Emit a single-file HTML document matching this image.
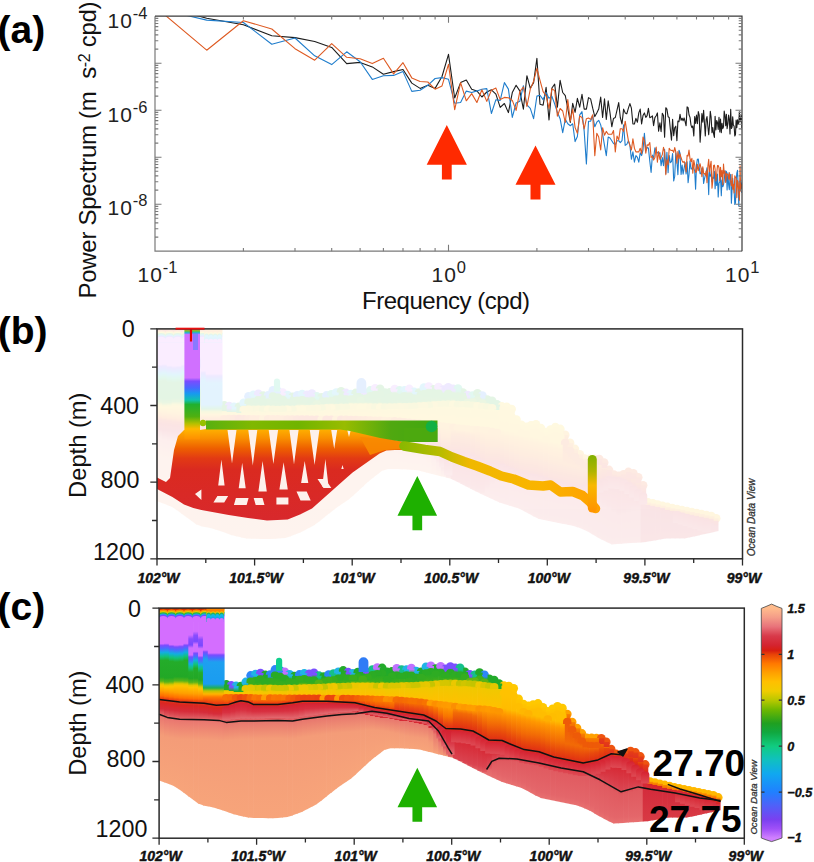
<!DOCTYPE html>
<html><head><meta charset="utf-8"><style>
html,body{margin:0;padding:0;background:#fff;width:814px;height:862px;overflow:hidden}
svg{display:block;font-family:"Liberation Sans", sans-serif}
</style></head><body>
<svg width="814" height="862" viewBox="0 0 814 862">
<clipPath id="ca"><rect x="155.0" y="16.2" width="587.0" height="235.0"/></clipPath>
<g clip-path="url(#ca)" fill="none" stroke-width="1.1" stroke-linejoin="round">
<polyline stroke="#1c1c1c" points="155.0,4.0 206.7,18.3 243.4,24.7 271.8,35.8 295.0,37.6 314.7,41.5 331.7,47.4 346.7,63.6 360.1,62.4 372.3,66.9 383.4,74.2 393.6,71.6 403.0,69.5 411.8,83.1 420.1,88.4 427.8,85.3 435.1,88.4 442.0,76.5 448.5,54.4 454.7,98.0 460.6,82.6 466.3,80.0 471.7,89.2 476.9,90.9 481.9,97.0 486.8,92.0 491.4,89.8 495.9,94.2 500.2,107.4 504.4,103.5 508.4,112.6 512.3,92.6 516.1,85.2 519.8,90.9 523.4,109.1 526.9,75.7 530.3,88.3 533.6,82.6 536.9,58.3 540.0,104.3 543.1,105.2 546.1,87.4 549.0,120.0 551.9,88.0 554.7,84.2 557.4,107.2 560.1,80.4 562.7,92.5 565.3,95.7 567.8,108.5 570.3,122.5 572.7,103.4 575.1,112.3 577.4,98.3 579.7,107.2 582.0,94.4 584.2,109.1 586.4,109.1 588.5,97.6 590.6,98.9 592.7,108.2 594.8,116.6 596.8,112.9 598.7,109.1 600.7,97.1 602.6,117.5 604.5,98.9 606.3,119.4 608.2,100.8 610.0,112.9 611.8,126.8 613.5,118.4 615.3,117.5 617.0,110.1 618.7,102.6 620.3,117.5 622.0,124.0 623.6,109.1 625.2,112.9 626.8,113.8 628.4,108.2 629.9,103.6 631.4,108.2 632.9,124.0 634.4,124.0 635.9,118.4 637.4,122.2 638.8,112.9 640.2,109.1 641.6,124.0 643.0,115.6 644.4,112.9 645.8,117.4 647.1,115.6 648.4,108.3 649.8,117.7 651.1,117.1 652.4,115.9 653.6,125.6 654.9,117.6 656.2,115.7 657.4,112.9 658.6,131.1 659.9,122.8 661.1,131.7 662.3,113.2 663.5,115.5 664.6,137.2 665.8,107.7 666.9,109.1 668.1,116.7 669.2,117.5 670.3,128.8 671.5,140.2 672.6,119.4 673.7,135.8 674.7,127.9 675.8,126.2 676.9,140.7 677.9,121.1 679.0,121.7 680.0,114.2 681.1,120.3 682.1,118.2 683.1,120.8 684.1,117.9 685.1,121.7 686.1,125.8 687.1,106.9 688.1,107.6 689.0,114.7 690.0,117.4 691.0,125.1 691.9,127.6 692.8,125.9 693.8,136.0 694.7,116.5 695.6,123.4 696.5,115.0 697.4,123.8 698.3,111.6 699.2,115.1 700.1,142.1 701.0,128.7 701.9,113.5 702.8,122.2 703.6,110.3 704.5,123.7 705.3,136.0 706.2,119.3 707.0,116.6 707.9,126.8 708.7,134.8 709.5,125.1 710.3,111.4 711.1,117.0 712.0,132.8 712.8,127.5 713.6,133.8 714.4,137.4 715.1,116.2 715.9,129.9 716.7,120.5 717.5,122.6 718.2,129.4 719.0,117.4 719.8,132.0 720.5,119.0 721.3,132.8 722.0,123.2 722.8,128.6 723.5,126.8 724.2,111.0 725.0,116.1 725.7,125.8 726.4,114.2 727.1,128.6 727.9,123.7 728.6,115.0 729.3,119.1 730.0,133.9 730.7,109.4 731.4,128.5 732.1,127.1 732.7,116.7 733.4,125.2 734.1,126.1 734.8,136.0 735.5,134.6 736.1,120.1 736.8,127.6 737.5,119.8 738.1,124.2 738.8,122.5 739.4,111.7 740.1,121.9 740.7,120.3 741.4,114.7 742.0,129.7"/>
<polyline stroke="#1f7dcc" points="155.0,8.0 206.7,20.1 243.4,22.5 271.8,44.3 295.0,38.0 314.7,55.8 331.7,64.6 346.7,51.8 360.1,61.7 372.3,79.4 383.4,75.7 393.6,75.4 403.0,71.6 411.8,91.4 420.1,90.3 427.8,85.3 435.1,78.5 442.0,77.6 448.5,79.3 454.7,103.2 460.6,102.5 466.3,91.1 471.7,92.5 476.9,90.9 481.9,89.2 486.8,88.6 491.4,113.5 495.9,99.7 500.2,100.4 504.4,82.6 508.4,89.1 512.3,117.4 516.1,103.0 519.8,101.3 523.4,85.7 526.9,104.8 530.3,108.3 533.6,118.7 536.9,96.1 540.0,95.2 543.1,99.6 546.1,92.5 549.0,98.3 551.9,96.4 554.7,104.0 557.4,112.3 560.1,118.7 562.7,132.7 565.3,119.3 567.8,123.8 570.3,125.7 572.7,123.8 575.1,141.6 577.4,136.5 579.7,114.8 582.0,111.7 584.2,131.4 586.4,164.0 588.5,121.2 590.6,121.2 592.7,115.6 594.8,126.8 596.8,122.2 598.7,120.3 600.7,124.9 602.6,134.2 604.5,145.4 606.3,155.6 608.2,137.0 610.0,138.0 611.8,140.7 613.5,143.5 615.3,144.4 617.0,140.7 618.7,140.7 620.3,142.6 622.0,140.7 623.6,124.9 625.2,145.4 626.8,144.4 628.4,140.7 629.9,145.4 631.4,159.3 632.9,151.9 634.4,162.1 635.9,155.6 637.4,157.4 638.8,162.1 640.2,152.8 641.6,155.6 643.0,150.0 644.4,133.3 645.8,150.4 647.1,147.6 648.4,148.0 649.8,161.3 651.1,172.5 652.4,155.1 653.6,158.1 654.9,147.9 656.2,150.7 657.4,152.7 658.6,154.0 659.9,152.7 661.1,165.7 662.3,157.6 663.5,165.7 664.6,149.3 665.8,173.5 666.9,152.2 668.1,172.7 669.2,155.5 670.3,162.7 671.5,161.5 672.6,153.6 673.7,180.9 674.7,176.4 675.8,152.9 676.9,161.4 677.9,174.8 679.0,150.3 680.0,153.2 681.1,174.5 682.1,165.0 683.1,174.1 684.1,168.3 685.1,162.5 686.1,173.9 687.1,161.9 688.1,182.6 689.0,174.7 690.0,160.8 691.0,169.0 691.9,169.0 692.8,166.0 693.8,168.6 694.7,170.8 695.6,189.1 696.5,165.2 697.4,159.2 698.3,159.0 699.2,167.4 700.1,173.6 701.0,173.8 701.9,168.0 702.8,168.6 703.6,183.5 704.5,178.6 705.3,175.6 706.2,172.9 707.0,167.7 707.9,173.8 708.7,194.6 709.5,168.5 710.3,176.1 711.1,174.7 712.0,182.0 712.8,177.2 713.6,178.3 714.4,171.4 715.1,188.8 715.9,176.1 716.7,185.5 717.5,174.1 718.2,196.9 719.0,183.2 719.8,181.8 720.5,176.3 721.3,195.8 722.0,180.1 722.8,186.7 723.5,184.7 724.2,180.6 725.0,170.5 725.7,181.1 726.4,171.2 727.1,189.9 727.9,172.9 728.6,184.5 729.3,189.8 730.0,177.8 730.7,174.3 731.4,203.2 732.1,188.2 732.7,178.4 733.4,186.8 734.1,189.7 734.8,204.5 735.5,202.7 736.1,182.3 736.8,173.1 737.5,170.4 738.1,185.1 738.8,205.9 739.4,189.4 740.1,180.7 740.7,180.0 741.4,183.9 742.0,193.0"/>
<polyline stroke="#de5a22" points="155.0,6.6 206.7,50.2 243.4,20.7 271.8,29.0 295.0,48.7 314.7,60.2 331.7,43.7 346.7,57.3 360.1,58.7 372.3,63.6 383.4,58.3 393.6,73.9 403.0,62.7 411.8,77.9 420.1,81.5 427.8,82.0 435.1,89.2 442.0,85.9 448.5,64.3 454.7,109.7 460.6,82.6 466.3,100.8 471.7,93.6 476.9,102.5 481.9,89.8 486.8,101.4 491.4,90.3 495.9,88.1 500.2,99.6 504.4,97.4 508.4,97.8 512.3,100.4 516.1,110.4 519.8,91.7 523.4,87.0 526.9,106.5 530.3,89.1 533.6,81.3 536.9,68.3 540.0,80.4 543.1,91.7 546.1,95.7 549.0,108.5 551.9,88.7 554.7,90.6 557.4,116.1 560.1,108.5 562.7,111.0 565.3,122.5 567.8,99.5 570.3,121.2 572.7,109.1 575.1,127.6 577.4,133.3 579.7,116.1 582.0,117.4 584.2,128.9 586.4,118.7 588.5,118.0 590.6,119.4 592.7,114.7 594.8,155.6 596.8,133.3 598.7,137.0 600.7,150.0 602.6,127.7 604.5,135.2 606.3,131.4 608.2,134.2 610.0,134.2 611.8,134.2 613.5,130.5 615.3,151.9 617.0,136.1 618.7,139.8 620.3,128.7 622.0,128.7 623.6,131.4 625.2,121.2 626.8,131.4 628.4,140.7 629.9,145.4 631.4,150.0 632.9,138.9 634.4,148.2 635.9,151.9 637.4,151.9 638.8,151.9 640.2,148.2 641.6,153.7 643.0,137.0 644.4,140.7 645.8,153.1 647.1,144.8 648.4,145.3 649.8,142.5 651.1,157.4 652.4,156.3 653.6,160.0 654.9,157.4 656.2,147.1 657.4,162.2 658.6,151.6 659.9,159.5 661.1,157.4 662.3,154.6 663.5,147.4 664.6,152.0 665.8,174.8 666.9,159.7 668.1,164.7 669.2,148.3 670.3,150.0 671.5,150.5 672.6,150.4 673.7,152.3 674.7,147.5 675.8,152.0 676.9,163.2 677.9,151.5 679.0,158.6 680.0,154.0 681.1,157.8 682.1,160.7 683.1,162.5 684.1,161.4 685.1,164.4 686.1,171.9 687.1,155.2 688.1,156.0 689.0,150.0 690.0,158.7 691.0,161.5 691.9,158.3 692.8,173.3 693.8,160.3 694.7,164.9 695.6,172.4 696.5,171.7 697.4,164.3 698.3,170.7 699.2,166.1 700.1,163.8 701.0,168.1 701.9,176.8 702.8,166.9 703.6,173.3 704.5,173.6 705.3,175.3 706.2,170.8 707.0,182.8 707.9,166.0 708.7,159.4 709.5,171.6 710.3,165.8 711.1,161.2 712.0,188.3 712.8,180.6 713.6,165.4 714.4,165.1 715.1,169.2 715.9,181.0 716.7,174.0 717.5,165.6 718.2,165.5 719.0,167.7 719.8,180.8 720.5,167.2 721.3,176.6 722.0,170.4 722.8,184.6 723.5,164.1 724.2,173.1 725.0,171.2 725.7,182.4 726.4,173.5 727.1,174.4 727.9,174.5 728.6,179.2 729.3,172.5 730.0,180.1 730.7,181.5 731.4,186.0 732.1,174.2 732.7,189.2 733.4,184.4 734.1,192.9 734.8,175.7 735.5,177.5 736.1,178.0 736.8,197.6 737.5,180.4 738.1,182.7 738.8,192.4 739.4,200.3 740.1,165.8 740.7,191.1 741.4,184.7 742.0,185.8"/>
</g>
<path d="M155.0,16.2V251.2H742.0" fill="none" stroke="#7a7a7a" stroke-width="1.2"/>
<path d="M155.0,16.2H742.0V251.2" fill="none" stroke="#3a3a3a" stroke-width="1.2"/>
<path d="M243.4,251.2v-3.3M243.4,16.2v3.3M295.0,251.2v-3.3M295.0,16.2v3.3M331.7,251.2v-3.3M331.7,16.2v3.3M360.1,251.2v-3.3M360.1,16.2v3.3M383.4,251.2v-3.3M383.4,16.2v3.3M403.0,251.2v-3.3M403.0,16.2v3.3M420.1,251.2v-3.3M420.1,16.2v3.3M435.1,251.2v-3.3M435.1,16.2v3.3M448.5,251.2v-6.5M448.5,16.2v6.5M536.9,251.2v-3.3M536.9,16.2v3.3M588.5,251.2v-3.3M588.5,16.2v3.3M625.2,251.2v-3.3M625.2,16.2v3.3M653.6,251.2v-3.3M653.6,16.2v3.3M676.9,251.2v-3.3M676.9,16.2v3.3M696.5,251.2v-3.3M696.5,16.2v3.3M713.6,251.2v-3.3M713.6,16.2v3.3M728.6,251.2v-3.3M728.6,16.2v3.3M155.0,237.1h3.3M742.0,237.1h-3.3M155.0,228.8h3.3M742.0,228.8h-3.3M155.0,222.9h3.3M742.0,222.9h-3.3M155.0,218.3h3.3M742.0,218.3h-3.3M155.0,214.6h3.3M742.0,214.6h-3.3M155.0,211.5h3.3M742.0,211.5h-3.3M155.0,208.8h3.3M742.0,208.8h-3.3M155.0,206.4h3.3M742.0,206.4h-3.3M155.0,204.2h6.5M742.0,204.2h-6.5M155.0,190.1h3.3M742.0,190.1h-3.3M155.0,181.8h3.3M742.0,181.8h-3.3M155.0,175.9h3.3M742.0,175.9h-3.3M155.0,171.3h3.3M742.0,171.3h-3.3M155.0,167.6h3.3M742.0,167.6h-3.3M155.0,164.5h3.3M742.0,164.5h-3.3M155.0,161.8h3.3M742.0,161.8h-3.3M155.0,159.4h3.3M742.0,159.4h-3.3M155.0,157.2h6.5M742.0,157.2h-6.5M155.0,143.1h3.3M742.0,143.1h-3.3M155.0,134.8h3.3M742.0,134.8h-3.3M155.0,128.9h3.3M742.0,128.9h-3.3M155.0,124.3h3.3M742.0,124.3h-3.3M155.0,120.6h3.3M742.0,120.6h-3.3M155.0,117.5h3.3M742.0,117.5h-3.3M155.0,114.8h3.3M742.0,114.8h-3.3M155.0,112.4h3.3M742.0,112.4h-3.3M155.0,110.2h6.5M742.0,110.2h-6.5M155.0,96.1h3.3M742.0,96.1h-3.3M155.0,87.8h3.3M742.0,87.8h-3.3M155.0,81.9h3.3M742.0,81.9h-3.3M155.0,77.3h3.3M742.0,77.3h-3.3M155.0,73.6h3.3M742.0,73.6h-3.3M155.0,70.5h3.3M742.0,70.5h-3.3M155.0,67.8h3.3M742.0,67.8h-3.3M155.0,65.4h3.3M742.0,65.4h-3.3M155.0,63.2h6.5M742.0,63.2h-6.5M155.0,49.1h3.3M742.0,49.1h-3.3M155.0,40.8h3.3M742.0,40.8h-3.3M155.0,34.9h3.3M742.0,34.9h-3.3M155.0,30.3h3.3M742.0,30.3h-3.3M155.0,26.6h3.3M742.0,26.6h-3.3M155.0,23.5h3.3M742.0,23.5h-3.3M155.0,20.8h3.3M742.0,20.8h-3.3M155.0,18.4h3.3M742.0,18.4h-3.3" stroke="#7a7a7a" stroke-width="1.1" fill="none"/>
<text x="107.5" y="28.0" font-size="21" letter-spacing="1" fill="#222">10<tspan font-size="16.5" dy="-9" letter-spacing="0">-4</tspan></text>
<text x="107.5" y="121.8" font-size="21" letter-spacing="1" fill="#222">10<tspan font-size="16.5" dy="-9" letter-spacing="0">-6</tspan></text>
<text x="107.5" y="215.4" font-size="21" letter-spacing="1" fill="#222">10<tspan font-size="16.5" dy="-9" letter-spacing="0">-8</tspan></text>
<text x="137.5" y="281.6" font-size="21" letter-spacing="1" fill="#222">10<tspan font-size="16.5" dy="-9" letter-spacing="0">-1</tspan></text>
<text x="431.5" y="281.6" font-size="21" letter-spacing="1" fill="#222">10<tspan font-size="16.5" dy="-9" letter-spacing="0">0</tspan></text>
<text x="725.0" y="281.6" font-size="21" letter-spacing="1" fill="#222">10<tspan font-size="16.5" dy="-9" letter-spacing="0">1</tspan></text>
<text x="362" y="309.1" font-size="24" textLength="168" fill="#111">Frequency (cpd)</text>
<text transform="translate(95.8,298.4) rotate(-90)" font-size="24" textLength="297" lengthAdjust="spacing" fill="#111">Power Spectrum (m&#160; s<tspan font-size="16" dy="-6">-2</tspan><tspan dy="6"> cpd)</tspan></text>
<polygon fill="#ff2a00" points="446.8,125.1 466.90000000000003,164.8 451.7,164.8 451.7,179.5 441.90000000000003,179.5 441.90000000000003,164.8 426.7,164.8"/>
<polygon fill="#ff2a00" points="535.5,145.4 555.5,184.7 540.5,184.7 540.5,199.4 530.5,199.4 530.5,184.7 515.5,184.7"/>
<defs><linearGradient id="domeg" x1="0" y1="0" x2="0" y2="1"><stop offset="0" stop-color="#d42030"/><stop offset="0.45" stop-color="#d83040"/><stop offset="1" stop-color="#e26a70"/></linearGradient><linearGradient id="domeg2" x1="0" y1="0" x2="0" y2="1"><stop offset="0" stop-color="#d62230"/><stop offset="1" stop-color="#de4a54"/></linearGradient><linearGradient id="cg0" gradientUnits="userSpaceOnUse" x1="0" y1="608.1" x2="0" y2="781.3"><stop offset="0.0000" stop-color="#e2300e"/><stop offset="0.0087" stop-color="#ff8200"/><stop offset="0.0191" stop-color="#e6d200"/><stop offset="0.0266" stop-color="#2fb040"/><stop offset="0.0341" stop-color="#12b2e2"/><stop offset="0.0421" stop-color="#6c52ff"/><stop offset="0.0514" stop-color="#d46eff"/><stop offset="0.2050" stop-color="#d46eff"/><stop offset="0.2165" stop-color="#7a4cff"/><stop offset="0.2338" stop-color="#4a6cff"/><stop offset="0.2569" stop-color="#12aee0"/><stop offset="0.2800" stop-color="#12c27a"/><stop offset="0.3031" stop-color="#24ac2a"/><stop offset="0.3985" stop-color="#22a826"/><stop offset="0.4216" stop-color="#58b418"/><stop offset="0.4389" stop-color="#e0c800"/><stop offset="0.4504" stop-color="#ffc400"/><stop offset="0.4774" stop-color="#ffa000"/><stop offset="0.5063" stop-color="#ff6e00"/><stop offset="0.5236" stop-color="#e83a12"/><stop offset="0.5467" stop-color="#da2622"/><stop offset="0.5813" stop-color="#d62c3a"/><stop offset="0.6011" stop-color="#dc5058"/><stop offset="0.6300" stop-color="#ea7870"/><stop offset="0.7339" stop-color="#f49c78"/><stop offset="1.0000" stop-color="#f7a47a"/></linearGradient><linearGradient id="cg1" gradientUnits="userSpaceOnUse" x1="0" y1="608.1" x2="0" y2="783.2"><stop offset="0.0000" stop-color="#e2300e"/><stop offset="0.0086" stop-color="#ff8200"/><stop offset="0.0189" stop-color="#e6d200"/><stop offset="0.0263" stop-color="#2fb040"/><stop offset="0.0337" stop-color="#12b2e2"/><stop offset="0.0417" stop-color="#6c52ff"/><stop offset="0.0508" stop-color="#d46eff"/><stop offset="0.2010" stop-color="#d46eff"/><stop offset="0.2124" stop-color="#7a4cff"/><stop offset="0.2296" stop-color="#4a6cff"/><stop offset="0.2524" stop-color="#12aee0"/><stop offset="0.2753" stop-color="#12c27a"/><stop offset="0.2981" stop-color="#24ac2a"/><stop offset="0.3993" stop-color="#22a826"/><stop offset="0.4222" stop-color="#58b418"/><stop offset="0.4393" stop-color="#e0c800"/><stop offset="0.4507" stop-color="#ffc400"/><stop offset="0.4758" stop-color="#ffa000"/><stop offset="0.5044" stop-color="#ff6e00"/><stop offset="0.5215" stop-color="#e83a12"/><stop offset="0.5443" stop-color="#da2622"/><stop offset="0.5786" stop-color="#d62c3a"/><stop offset="0.6053" stop-color="#dc5058"/><stop offset="0.6339" stop-color="#ea7870"/><stop offset="0.7367" stop-color="#f49c78"/><stop offset="1.0000" stop-color="#f7a47a"/></linearGradient><linearGradient id="cg2" gradientUnits="userSpaceOnUse" x1="0" y1="608.1" x2="0" y2="785.0"><stop offset="0.0000" stop-color="#e2300e"/><stop offset="0.0085" stop-color="#ff8200"/><stop offset="0.0187" stop-color="#e6d200"/><stop offset="0.0260" stop-color="#2fb040"/><stop offset="0.0334" stop-color="#12b2e2"/><stop offset="0.0413" stop-color="#6c52ff"/><stop offset="0.0503" stop-color="#d46eff"/><stop offset="0.2056" stop-color="#d46eff"/><stop offset="0.2169" stop-color="#7a4cff"/><stop offset="0.2338" stop-color="#4a6cff"/><stop offset="0.2564" stop-color="#12aee0"/><stop offset="0.2791" stop-color="#12c27a"/><stop offset="0.3017" stop-color="#24ac2a"/><stop offset="0.3941" stop-color="#22a826"/><stop offset="0.4168" stop-color="#58b418"/><stop offset="0.4337" stop-color="#e0c800"/><stop offset="0.4450" stop-color="#ffc400"/><stop offset="0.4742" stop-color="#ffa000"/><stop offset="0.5025" stop-color="#ff6e00"/><stop offset="0.5194" stop-color="#e83a12"/><stop offset="0.5420" stop-color="#da2622"/><stop offset="0.5760" stop-color="#d62c3a"/><stop offset="0.6042" stop-color="#dc5058"/><stop offset="0.6325" stop-color="#ea7870"/><stop offset="0.7342" stop-color="#f49c78"/><stop offset="1.0000" stop-color="#f7a47a"/></linearGradient><linearGradient id="cg3" gradientUnits="userSpaceOnUse" x1="0" y1="608.1" x2="0" y2="787.2"><stop offset="0.0000" stop-color="#e2300e"/><stop offset="0.0084" stop-color="#ff8200"/><stop offset="0.0184" stop-color="#e6d200"/><stop offset="0.0257" stop-color="#2fb040"/><stop offset="0.0329" stop-color="#12b2e2"/><stop offset="0.0407" stop-color="#6c52ff"/><stop offset="0.0497" stop-color="#d46eff"/><stop offset="0.2061" stop-color="#d46eff"/><stop offset="0.2173" stop-color="#7a4cff"/><stop offset="0.2341" stop-color="#4a6cff"/><stop offset="0.2564" stop-color="#12aee0"/><stop offset="0.2787" stop-color="#12c27a"/><stop offset="0.3010" stop-color="#24ac2a"/><stop offset="0.3833" stop-color="#22a826"/><stop offset="0.4056" stop-color="#58b418"/><stop offset="0.4224" stop-color="#e0c800"/><stop offset="0.4336" stop-color="#ffc400"/><stop offset="0.4716" stop-color="#ffa000"/><stop offset="0.4995" stop-color="#ff6e00"/><stop offset="0.5162" stop-color="#e83a12"/><stop offset="0.5386" stop-color="#da2622"/><stop offset="0.5721" stop-color="#d62c3a"/><stop offset="0.6006" stop-color="#dc5058"/><stop offset="0.6285" stop-color="#ea7870"/><stop offset="0.7290" stop-color="#f49c78"/><stop offset="1.0000" stop-color="#f7a47a"/></linearGradient><linearGradient id="cg4" gradientUnits="userSpaceOnUse" x1="0" y1="608.1" x2="0" y2="790.8"><stop offset="0.0000" stop-color="#e2300e"/><stop offset="0.0082" stop-color="#ff8200"/><stop offset="0.0181" stop-color="#e6d200"/><stop offset="0.0252" stop-color="#2fb040"/><stop offset="0.0323" stop-color="#12b2e2"/><stop offset="0.0400" stop-color="#6c52ff"/><stop offset="0.0487" stop-color="#d46eff"/><stop offset="0.2005" stop-color="#d46eff"/><stop offset="0.2114" stop-color="#7a4cff"/><stop offset="0.2279" stop-color="#4a6cff"/><stop offset="0.2497" stop-color="#12aee0"/><stop offset="0.2716" stop-color="#12c27a"/><stop offset="0.2935" stop-color="#24ac2a"/><stop offset="0.3760" stop-color="#22a826"/><stop offset="0.3979" stop-color="#58b418"/><stop offset="0.4144" stop-color="#e0c800"/><stop offset="0.4253" stop-color="#ffc400"/><stop offset="0.4650" stop-color="#ffa000"/><stop offset="0.4924" stop-color="#ff6e00"/><stop offset="0.5088" stop-color="#e83a12"/><stop offset="0.5307" stop-color="#da2622"/><stop offset="0.5635" stop-color="#d62c3a"/><stop offset="0.5918" stop-color="#dc5058"/><stop offset="0.6191" stop-color="#ea7870"/><stop offset="0.7176" stop-color="#f49c78"/><stop offset="1.0000" stop-color="#f7a47a"/></linearGradient><linearGradient id="cg5" gradientUnits="userSpaceOnUse" x1="0" y1="608.1" x2="0" y2="794.4"><stop offset="0.0000" stop-color="#e2300e"/><stop offset="0.0081" stop-color="#ff8200"/><stop offset="0.0177" stop-color="#e6d200"/><stop offset="0.0247" stop-color="#2fb040"/><stop offset="0.0317" stop-color="#12b2e2"/><stop offset="0.0392" stop-color="#6c52ff"/><stop offset="0.0478" stop-color="#d46eff"/><stop offset="0.1893" stop-color="#d46eff"/><stop offset="0.2000" stop-color="#7a4cff"/><stop offset="0.2161" stop-color="#4a6cff"/><stop offset="0.2376" stop-color="#12aee0"/><stop offset="0.2590" stop-color="#12c27a"/><stop offset="0.2805" stop-color="#24ac2a"/><stop offset="0.3701" stop-color="#22a826"/><stop offset="0.3916" stop-color="#58b418"/><stop offset="0.4077" stop-color="#e0c800"/><stop offset="0.4184" stop-color="#ffc400"/><stop offset="0.4573" stop-color="#ffa000"/><stop offset="0.4842" stop-color="#ff6e00"/><stop offset="0.5003" stop-color="#e83a12"/><stop offset="0.5217" stop-color="#da2622"/><stop offset="0.5540" stop-color="#d62c3a"/><stop offset="0.5809" stop-color="#dc5058"/><stop offset="0.6077" stop-color="#ea7870"/><stop offset="0.7043" stop-color="#f49c78"/><stop offset="1.0000" stop-color="#f7a47a"/></linearGradient><linearGradient id="cg6" gradientUnits="userSpaceOnUse" x1="0" y1="608.1" x2="0" y2="798.0"><stop offset="0.0000" stop-color="#e2300e"/><stop offset="0.0079" stop-color="#ff8200"/><stop offset="0.0174" stop-color="#e6d200"/><stop offset="0.0242" stop-color="#2fb040"/><stop offset="0.0311" stop-color="#12b2e2"/><stop offset="0.0384" stop-color="#6c52ff"/><stop offset="0.0469" stop-color="#d46eff"/><stop offset="0.1415" stop-color="#d46eff"/><stop offset="0.1625" stop-color="#8a4cff"/><stop offset="0.1941" stop-color="#7a48ff"/><stop offset="0.2099" stop-color="#d070ff"/><stop offset="0.2415" stop-color="#d070ff"/><stop offset="0.2468" stop-color="#d46eff"/><stop offset="0.2573" stop-color="#7a4cff"/><stop offset="0.2731" stop-color="#4a6cff"/><stop offset="0.2942" stop-color="#12aee0"/><stop offset="0.3152" stop-color="#12c27a"/><stop offset="0.3363" stop-color="#24ac2a"/><stop offset="0.3702" stop-color="#22a826"/><stop offset="0.3912" stop-color="#58b418"/><stop offset="0.4070" stop-color="#e0c800"/><stop offset="0.4176" stop-color="#ffc400"/><stop offset="0.4500" stop-color="#ffa000"/><stop offset="0.4763" stop-color="#ff6e00"/><stop offset="0.4921" stop-color="#e83a12"/><stop offset="0.5132" stop-color="#da2622"/><stop offset="0.5448" stop-color="#d62c3a"/><stop offset="0.5705" stop-color="#dc5058"/><stop offset="0.5968" stop-color="#ea7870"/><stop offset="0.6916" stop-color="#f49c78"/><stop offset="1.0000" stop-color="#f7a47a"/></linearGradient><linearGradient id="cg7" gradientUnits="userSpaceOnUse" x1="0" y1="608.1" x2="0" y2="801.6"><stop offset="0.0000" stop-color="#e2300e"/><stop offset="0.0078" stop-color="#ff8200"/><stop offset="0.0171" stop-color="#e6d200"/><stop offset="0.0238" stop-color="#2fb040"/><stop offset="0.0305" stop-color="#12b2e2"/><stop offset="0.0377" stop-color="#6c52ff"/><stop offset="0.0460" stop-color="#d46eff"/><stop offset="0.1201" stop-color="#d46eff"/><stop offset="0.1408" stop-color="#8a4cff"/><stop offset="0.1718" stop-color="#7a48ff"/><stop offset="0.1873" stop-color="#d070ff"/><stop offset="0.2183" stop-color="#d070ff"/><stop offset="0.2235" stop-color="#d46eff"/><stop offset="0.2338" stop-color="#7a4cff"/><stop offset="0.2493" stop-color="#4a6cff"/><stop offset="0.2700" stop-color="#12aee0"/><stop offset="0.2907" stop-color="#12c27a"/><stop offset="0.3113" stop-color="#24ac2a"/><stop offset="0.3621" stop-color="#22a826"/><stop offset="0.3828" stop-color="#58b418"/><stop offset="0.3983" stop-color="#e0c800"/><stop offset="0.4086" stop-color="#ffc400"/><stop offset="0.4429" stop-color="#ffa000"/><stop offset="0.4687" stop-color="#ff6e00"/><stop offset="0.4842" stop-color="#e83a12"/><stop offset="0.5049" stop-color="#da2622"/><stop offset="0.5359" stop-color="#d62c3a"/><stop offset="0.5604" stop-color="#dc5058"/><stop offset="0.5862" stop-color="#ea7870"/><stop offset="0.6793" stop-color="#f49c78"/><stop offset="1.0000" stop-color="#f7a47a"/></linearGradient><linearGradient id="cg8" gradientUnits="userSpaceOnUse" x1="0" y1="608.1" x2="0" y2="804.9"><stop offset="0.0000" stop-color="#e2300e"/><stop offset="0.0076" stop-color="#ff8200"/><stop offset="0.0168" stop-color="#e6d200"/><stop offset="0.0234" stop-color="#2fb040"/><stop offset="0.0300" stop-color="#12b2e2"/><stop offset="0.0371" stop-color="#6c52ff"/><stop offset="0.0452" stop-color="#d46eff"/><stop offset="0.1402" stop-color="#d46eff"/><stop offset="0.1605" stop-color="#8a4cff"/><stop offset="0.1910" stop-color="#7a48ff"/><stop offset="0.2062" stop-color="#d070ff"/><stop offset="0.2367" stop-color="#d070ff"/><stop offset="0.2418" stop-color="#d46eff"/><stop offset="0.2520" stop-color="#7a4cff"/><stop offset="0.2672" stop-color="#4a6cff"/><stop offset="0.2875" stop-color="#12aee0"/><stop offset="0.3079" stop-color="#12c27a"/><stop offset="0.3282" stop-color="#24ac2a"/><stop offset="0.3646" stop-color="#22a826"/><stop offset="0.3849" stop-color="#58b418"/><stop offset="0.4002" stop-color="#e0c800"/><stop offset="0.4103" stop-color="#ffc400"/><stop offset="0.4366" stop-color="#ffa000"/><stop offset="0.4620" stop-color="#ff6e00"/><stop offset="0.4773" stop-color="#e83a12"/><stop offset="0.4976" stop-color="#da2622"/><stop offset="0.5281" stop-color="#d62c3a"/><stop offset="0.5515" stop-color="#dc5058"/><stop offset="0.5769" stop-color="#ea7870"/><stop offset="0.6683" stop-color="#f49c78"/><stop offset="1.0000" stop-color="#f7a47a"/></linearGradient><linearGradient id="cg9" gradientUnits="userSpaceOnUse" x1="0" y1="608.1" x2="0" y2="805.8"><stop offset="0.0000" stop-color="#e2300e"/><stop offset="0.0076" stop-color="#ff8200"/><stop offset="0.0167" stop-color="#e6d200"/><stop offset="0.0233" stop-color="#2fb040"/><stop offset="0.0298" stop-color="#12b2e2"/><stop offset="0.0369" stop-color="#6c52ff"/><stop offset="0.0450" stop-color="#d46eff"/><stop offset="0.2119" stop-color="#d46eff"/><stop offset="0.2220" stop-color="#7a4cff"/><stop offset="0.2372" stop-color="#4a6cff"/><stop offset="0.2574" stop-color="#1ea0f0"/><stop offset="0.3838" stop-color="#1a9cf0"/><stop offset="0.4041" stop-color="#20b050"/><stop offset="0.4192" stop-color="#c0c400"/><stop offset="0.4344" stop-color="#ffb400"/><stop offset="0.4496" stop-color="#ff7a00"/><stop offset="0.4769" stop-color="#e83a12"/><stop offset="0.4971" stop-color="#da2622"/><stop offset="0.5275" stop-color="#d62c3a"/><stop offset="0.5495" stop-color="#dc5058"/><stop offset="0.5748" stop-color="#ea7870"/><stop offset="0.6658" stop-color="#f49c78"/><stop offset="1.0000" stop-color="#f7a47a"/></linearGradient><linearGradient id="cg10" gradientUnits="userSpaceOnUse" x1="0" y1="608.1" x2="0" y2="806.8"><stop offset="0.0000" stop-color="#e2300e"/><stop offset="0.0075" stop-color="#ff8200"/><stop offset="0.0166" stop-color="#e6d200"/><stop offset="0.0232" stop-color="#2fb040"/><stop offset="0.0297" stop-color="#12b2e2"/><stop offset="0.0367" stop-color="#6c52ff"/><stop offset="0.0448" stop-color="#d46eff"/><stop offset="0.2260" stop-color="#d46eff"/><stop offset="0.2360" stop-color="#7a4cff"/><stop offset="0.2511" stop-color="#4a6cff"/><stop offset="0.2713" stop-color="#1ea0f0"/><stop offset="0.3820" stop-color="#1a9cf0"/><stop offset="0.4021" stop-color="#20b050"/><stop offset="0.4172" stop-color="#c0c400"/><stop offset="0.4323" stop-color="#ffb400"/><stop offset="0.4474" stop-color="#ff7a00"/><stop offset="0.4786" stop-color="#e83a12"/><stop offset="0.4987" stop-color="#da2622"/><stop offset="0.5289" stop-color="#d62c3a"/><stop offset="0.5480" stop-color="#dc5058"/><stop offset="0.5732" stop-color="#ea7870"/><stop offset="0.6638" stop-color="#f49c78"/><stop offset="1.0000" stop-color="#f7a47a"/></linearGradient><linearGradient id="cg11" gradientUnits="userSpaceOnUse" x1="0" y1="608.1" x2="0" y2="808.0"><stop offset="0.0000" stop-color="#e2300e"/><stop offset="0.0075" stop-color="#ff8200"/><stop offset="0.0165" stop-color="#e6d200"/><stop offset="0.0230" stop-color="#2fb040"/><stop offset="0.0295" stop-color="#12b2e2"/><stop offset="0.0365" stop-color="#6c52ff"/><stop offset="0.0445" stop-color="#d46eff"/><stop offset="0.2246" stop-color="#d46eff"/><stop offset="0.2346" stop-color="#7a4cff"/><stop offset="0.2496" stop-color="#4a6cff"/><stop offset="0.2696" stop-color="#1ea0f0"/><stop offset="0.3796" stop-color="#1a9cf0"/><stop offset="0.3996" stop-color="#20b050"/><stop offset="0.4146" stop-color="#c0c400"/><stop offset="0.4296" stop-color="#ffb400"/><stop offset="0.4446" stop-color="#ff7a00"/><stop offset="0.4796" stop-color="#e83a12"/><stop offset="0.4996" stop-color="#da2622"/><stop offset="0.5296" stop-color="#d62c3a"/><stop offset="0.5458" stop-color="#dc5058"/><stop offset="0.5708" stop-color="#ea7870"/><stop offset="0.6608" stop-color="#f49c78"/><stop offset="1.0000" stop-color="#f7a47a"/></linearGradient><linearGradient id="cg12" gradientUnits="userSpaceOnUse" x1="0" y1="608.1" x2="0" y2="809.5"><stop offset="0.0000" stop-color="#e2300e"/><stop offset="0.0074" stop-color="#ff8200"/><stop offset="0.0164" stop-color="#e6d200"/><stop offset="0.0228" stop-color="#2fb040"/><stop offset="0.0293" stop-color="#12b2e2"/><stop offset="0.0362" stop-color="#6c52ff"/><stop offset="0.0442" stop-color="#d46eff"/><stop offset="0.2229" stop-color="#d46eff"/><stop offset="0.2329" stop-color="#7a4cff"/><stop offset="0.2478" stop-color="#4a6cff"/><stop offset="0.2676" stop-color="#1ea0f0"/><stop offset="0.3768" stop-color="#1a9cf0"/><stop offset="0.3967" stop-color="#20b050"/><stop offset="0.4116" stop-color="#c0c400"/><stop offset="0.4265" stop-color="#ffb400"/><stop offset="0.4414" stop-color="#ff7a00"/><stop offset="0.4760" stop-color="#e83a12"/><stop offset="0.4958" stop-color="#da2622"/><stop offset="0.5256" stop-color="#d62c3a"/><stop offset="0.5441" stop-color="#dc5058"/><stop offset="0.5689" stop-color="#ea7870"/><stop offset="0.6583" stop-color="#f49c78"/><stop offset="1.0000" stop-color="#f7a47a"/></linearGradient><linearGradient id="cg13" gradientUnits="userSpaceOnUse" x1="0" y1="608.1" x2="0" y2="810.5"><stop offset="0.0000" stop-color="#e2300e"/><stop offset="0.0074" stop-color="#ff8200"/><stop offset="0.0163" stop-color="#e6d200"/><stop offset="0.0227" stop-color="#2fb040"/><stop offset="0.0292" stop-color="#12b2e2"/><stop offset="0.0361" stop-color="#6c52ff"/><stop offset="0.0440" stop-color="#d46eff"/><stop offset="0.2219" stop-color="#d46eff"/><stop offset="0.2318" stop-color="#7a4cff"/><stop offset="0.2466" stop-color="#4a6cff"/><stop offset="0.2663" stop-color="#1ea0f0"/><stop offset="0.3751" stop-color="#1a9cf0"/><stop offset="0.3948" stop-color="#20b050"/><stop offset="0.4097" stop-color="#c0c400"/><stop offset="0.4245" stop-color="#ffb400"/><stop offset="0.4393" stop-color="#ff7a00"/><stop offset="0.4727" stop-color="#e83a12"/><stop offset="0.4925" stop-color="#da2622"/><stop offset="0.5221" stop-color="#d62c3a"/><stop offset="0.5458" stop-color="#dc5058"/><stop offset="0.5705" stop-color="#ea7870"/><stop offset="0.6595" stop-color="#f49c78"/><stop offset="1.0000" stop-color="#f7a47a"/></linearGradient><linearGradient id="cg14" gradientUnits="userSpaceOnUse" x1="0" y1="680.1" x2="0" y2="811.6"><stop offset="0.0000" stop-color="#22aa2a"/><stop offset="0.0456" stop-color="#22aa2a"/><stop offset="0.0761" stop-color="#24aa28"/><stop offset="0.0761" stop-color="#3cae1c"/><stop offset="0.0761" stop-color="#a8c200"/><stop offset="0.0830" stop-color="#f0c800"/><stop offset="0.1097" stop-color="#ffc000"/><stop offset="0.1326" stop-color="#ff9c00"/><stop offset="0.1326" stop-color="#fb7a00"/><stop offset="0.1633" stop-color="#f25a06"/><stop offset="0.1785" stop-color="#e83a12"/><stop offset="0.2089" stop-color="#da2622"/><stop offset="0.2546" stop-color="#d62a36"/><stop offset="0.2990" stop-color="#dc4c56"/><stop offset="0.3332" stop-color="#e8786e"/><stop offset="0.4588" stop-color="#f49c78"/><stop offset="1.0000" stop-color="#f7a47a"/></linearGradient><linearGradient id="cg15" gradientUnits="userSpaceOnUse" x1="0" y1="681.0" x2="0" y2="813.4"><stop offset="0.0000" stop-color="#7a50ff"/><stop offset="0.0453" stop-color="#7a50ff"/><stop offset="0.0755" stop-color="#24aa28"/><stop offset="0.0755" stop-color="#a8c200"/><stop offset="0.0758" stop-color="#f0c800"/><stop offset="0.1026" stop-color="#ffc000"/><stop offset="0.1253" stop-color="#ff9c00"/><stop offset="0.1253" stop-color="#fb7a00"/><stop offset="0.1478" stop-color="#f25a06"/><stop offset="0.1629" stop-color="#e83a12"/><stop offset="0.1931" stop-color="#da2622"/><stop offset="0.2385" stop-color="#d62a36"/><stop offset="0.2867" stop-color="#dc4c56"/><stop offset="0.3207" stop-color="#e8786e"/><stop offset="0.4454" stop-color="#f49c78"/><stop offset="1.0000" stop-color="#f7a47a"/></linearGradient><linearGradient id="cg16" gradientUnits="userSpaceOnUse" x1="0" y1="681.6" x2="0" y2="815.0"><stop offset="0.0000" stop-color="#20b4e6"/><stop offset="0.0450" stop-color="#20b4e6"/><stop offset="0.0750" stop-color="#24aa28"/><stop offset="0.0750" stop-color="#a8c200"/><stop offset="0.0759" stop-color="#f0c800"/><stop offset="0.1028" stop-color="#ffc000"/><stop offset="0.1253" stop-color="#ff9c00"/><stop offset="0.1253" stop-color="#fb7a00"/><stop offset="0.1305" stop-color="#f25a06"/><stop offset="0.1455" stop-color="#e83a12"/><stop offset="0.1754" stop-color="#da2622"/><stop offset="0.2204" stop-color="#d62a36"/><stop offset="0.2771" stop-color="#dc4c56"/><stop offset="0.3108" stop-color="#e8786e"/><stop offset="0.4345" stop-color="#f49c78"/><stop offset="1.0000" stop-color="#f7a47a"/></linearGradient><linearGradient id="cg17" gradientUnits="userSpaceOnUse" x1="0" y1="681.8" x2="0" y2="816.0"><stop offset="0.0000" stop-color="#22aa2a"/><stop offset="0.0447" stop-color="#22aa2a"/><stop offset="0.0745" stop-color="#24aa28"/><stop offset="0.0745" stop-color="#a8c200"/><stop offset="0.0745" stop-color="#f0c800"/><stop offset="0.1001" stop-color="#ffc000"/><stop offset="0.1225" stop-color="#ff9c00"/><stop offset="0.1225" stop-color="#fb7a00"/><stop offset="0.1225" stop-color="#f25a06"/><stop offset="0.1334" stop-color="#e83a12"/><stop offset="0.1632" stop-color="#da2622"/><stop offset="0.2079" stop-color="#d62a36"/><stop offset="0.2705" stop-color="#dc4c56"/><stop offset="0.3040" stop-color="#e8786e"/><stop offset="0.4269" stop-color="#f49c78"/><stop offset="1.0000" stop-color="#f7a47a"/></linearGradient><linearGradient id="cg18" gradientUnits="userSpaceOnUse" x1="0" y1="677.6" x2="0" y2="817.1"><stop offset="0.0000" stop-color="#20b4e6"/><stop offset="0.0430" stop-color="#20b4e6"/><stop offset="0.0717" stop-color="#24aa28"/><stop offset="0.0717" stop-color="#3cae1c"/><stop offset="0.0717" stop-color="#a8c200"/><stop offset="0.0917" stop-color="#f0c800"/><stop offset="0.1212" stop-color="#ffc000"/><stop offset="0.1427" stop-color="#ff9c00"/><stop offset="0.1427" stop-color="#fb7a00"/><stop offset="0.1504" stop-color="#f25a06"/><stop offset="0.1648" stop-color="#e83a12"/><stop offset="0.1934" stop-color="#da2622"/><stop offset="0.2364" stop-color="#d62a36"/><stop offset="0.2906" stop-color="#dc4c56"/><stop offset="0.3228" stop-color="#e8786e"/><stop offset="0.4411" stop-color="#f49c78"/><stop offset="1.0000" stop-color="#f7a47a"/></linearGradient><linearGradient id="cg19" gradientUnits="userSpaceOnUse" x1="0" y1="671.1" x2="0" y2="817.8"><stop offset="0.0000" stop-color="#2e86f8"/><stop offset="0.0409" stop-color="#2e86f8"/><stop offset="0.0682" stop-color="#24aa28"/><stop offset="0.0858" stop-color="#3cae1c"/><stop offset="0.1063" stop-color="#a8c200"/><stop offset="0.1302" stop-color="#f0c800"/><stop offset="0.1610" stop-color="#ffc000"/><stop offset="0.1815" stop-color="#ff9c00"/><stop offset="0.1815" stop-color="#fb7a00"/><stop offset="0.1976" stop-color="#f25a06"/><stop offset="0.2112" stop-color="#e83a12"/><stop offset="0.2385" stop-color="#da2622"/><stop offset="0.2794" stop-color="#d62a36"/><stop offset="0.3201" stop-color="#dc4c56"/><stop offset="0.3508" stop-color="#e8786e"/><stop offset="0.4633" stop-color="#f49c78"/><stop offset="1.0000" stop-color="#f7a47a"/></linearGradient><linearGradient id="cg20" gradientUnits="userSpaceOnUse" x1="0" y1="669.7" x2="0" y2="817.9"><stop offset="0.0000" stop-color="#20b4e6"/><stop offset="0.0405" stop-color="#20b4e6"/><stop offset="0.0675" stop-color="#24aa28"/><stop offset="0.1013" stop-color="#3cae1c"/><stop offset="0.1216" stop-color="#a8c200"/><stop offset="0.1452" stop-color="#f0c800"/><stop offset="0.1768" stop-color="#ffc000"/><stop offset="0.1971" stop-color="#ff9c00"/><stop offset="0.1971" stop-color="#fb7a00"/><stop offset="0.2136" stop-color="#f25a06"/><stop offset="0.2271" stop-color="#e83a12"/><stop offset="0.2541" stop-color="#da2622"/><stop offset="0.2946" stop-color="#d62a36"/><stop offset="0.3259" stop-color="#dc4c56"/><stop offset="0.3562" stop-color="#e8786e"/><stop offset="0.4676" stop-color="#f49c78"/><stop offset="1.0000" stop-color="#f7a47a"/></linearGradient><linearGradient id="cg21" gradientUnits="userSpaceOnUse" x1="0" y1="668.7" x2="0" y2="818.0"><stop offset="0.0000" stop-color="#7a50ff"/><stop offset="0.0402" stop-color="#7a50ff"/><stop offset="0.0670" stop-color="#24aa28"/><stop offset="0.1036" stop-color="#3cae1c"/><stop offset="0.1237" stop-color="#a8c200"/><stop offset="0.1471" stop-color="#f0c800"/><stop offset="0.1781" stop-color="#ffc000"/><stop offset="0.1982" stop-color="#ff9c00"/><stop offset="0.1982" stop-color="#fb7a00"/><stop offset="0.2187" stop-color="#f25a06"/><stop offset="0.2321" stop-color="#e83a12"/><stop offset="0.2589" stop-color="#da2622"/><stop offset="0.2991" stop-color="#d62a36"/><stop offset="0.3292" stop-color="#dc4c56"/><stop offset="0.3594" stop-color="#e8786e"/><stop offset="0.4699" stop-color="#f49c78"/><stop offset="1.0000" stop-color="#f7a47a"/></linearGradient><linearGradient id="cg22" gradientUnits="userSpaceOnUse" x1="0" y1="670.4" x2="0" y2="818.1"><stop offset="0.0000" stop-color="#22aa2a"/><stop offset="0.0406" stop-color="#22aa2a"/><stop offset="0.0677" stop-color="#24aa28"/><stop offset="0.1016" stop-color="#3cae1c"/><stop offset="0.1219" stop-color="#a8c200"/><stop offset="0.1456" stop-color="#f0c800"/><stop offset="0.1765" stop-color="#ffc000"/><stop offset="0.1969" stop-color="#ff9c00"/><stop offset="0.1969" stop-color="#fb7a00"/><stop offset="0.2099" stop-color="#f25a06"/><stop offset="0.2235" stop-color="#e83a12"/><stop offset="0.2505" stop-color="#da2622"/><stop offset="0.2911" stop-color="#d62a36"/><stop offset="0.3206" stop-color="#dc4c56"/><stop offset="0.3511" stop-color="#e8786e"/><stop offset="0.4628" stop-color="#f49c78"/><stop offset="1.0000" stop-color="#f7a47a"/></linearGradient><linearGradient id="cg23" gradientUnits="userSpaceOnUse" x1="0" y1="670.3" x2="0" y2="818.2"><stop offset="0.0000" stop-color="#2e86f8"/><stop offset="0.0405" stop-color="#2e86f8"/><stop offset="0.0676" stop-color="#24aa28"/><stop offset="0.0895" stop-color="#3cae1c"/><stop offset="0.1098" stop-color="#a8c200"/><stop offset="0.1334" stop-color="#f0c800"/><stop offset="0.1639" stop-color="#ffc000"/><stop offset="0.1842" stop-color="#ff9c00"/><stop offset="0.1842" stop-color="#fb7a00"/><stop offset="0.2104" stop-color="#f25a06"/><stop offset="0.2240" stop-color="#e83a12"/><stop offset="0.2510" stop-color="#da2622"/><stop offset="0.2915" stop-color="#d62a36"/><stop offset="0.3200" stop-color="#dc4c56"/><stop offset="0.3505" stop-color="#e8786e"/><stop offset="0.4620" stop-color="#f49c78"/><stop offset="1.0000" stop-color="#f7a47a"/></linearGradient><linearGradient id="cg24" gradientUnits="userSpaceOnUse" x1="0" y1="665.1" x2="0" y2="818.2"><stop offset="0.0000" stop-color="#2e86f8"/><stop offset="0.0392" stop-color="#2e86f8"/><stop offset="0.0653" stop-color="#24aa28"/><stop offset="0.1304" stop-color="#3cae1c"/><stop offset="0.1500" stop-color="#a8c200"/><stop offset="0.1729" stop-color="#f0c800"/><stop offset="0.2020" stop-color="#ffc000"/><stop offset="0.2216" stop-color="#ff9c00"/><stop offset="0.2216" stop-color="#fb7a00"/><stop offset="0.2371" stop-color="#f25a06"/><stop offset="0.2502" stop-color="#e83a12"/><stop offset="0.2763" stop-color="#da2622"/><stop offset="0.3155" stop-color="#d62a36"/><stop offset="0.3421" stop-color="#dc4c56"/><stop offset="0.3715" stop-color="#e8786e"/><stop offset="0.4793" stop-color="#f49c78"/><stop offset="1.0000" stop-color="#f7a47a"/></linearGradient><linearGradient id="cg25" gradientUnits="userSpaceOnUse" x1="0" y1="666.0" x2="0" y2="817.8"><stop offset="0.0000" stop-color="#2e86f8"/><stop offset="0.0395" stop-color="#2e86f8"/><stop offset="0.0659" stop-color="#24aa28"/><stop offset="0.1249" stop-color="#3cae1c"/><stop offset="0.1447" stop-color="#a8c200"/><stop offset="0.1677" stop-color="#f0c800"/><stop offset="0.1972" stop-color="#ffc000"/><stop offset="0.2169" stop-color="#ff9c00"/><stop offset="0.2169" stop-color="#fb7a00"/><stop offset="0.2318" stop-color="#f25a06"/><stop offset="0.2450" stop-color="#e83a12"/><stop offset="0.2714" stop-color="#da2622"/><stop offset="0.3109" stop-color="#d62a36"/><stop offset="0.3395" stop-color="#dc4c56"/><stop offset="0.3691" stop-color="#e8786e"/><stop offset="0.4778" stop-color="#f49c78"/><stop offset="1.0000" stop-color="#f7a47a"/></linearGradient><linearGradient id="cg26" gradientUnits="userSpaceOnUse" x1="0" y1="667.5" x2="0" y2="817.3"><stop offset="0.0000" stop-color="#c070ff"/><stop offset="0.0401" stop-color="#c070ff"/><stop offset="0.0668" stop-color="#24aa28"/><stop offset="0.1177" stop-color="#3cae1c"/><stop offset="0.1377" stop-color="#a8c200"/><stop offset="0.1611" stop-color="#f0c800"/><stop offset="0.1918" stop-color="#ffc000"/><stop offset="0.2118" stop-color="#ff9c00"/><stop offset="0.2118" stop-color="#fb7a00"/><stop offset="0.2207" stop-color="#f25a06"/><stop offset="0.2340" stop-color="#e83a12"/><stop offset="0.2607" stop-color="#da2622"/><stop offset="0.3008" stop-color="#d62a36"/><stop offset="0.3350" stop-color="#dc4c56"/><stop offset="0.3651" stop-color="#e8786e"/><stop offset="0.4752" stop-color="#f49c78"/><stop offset="1.0000" stop-color="#f7a47a"/></linearGradient><linearGradient id="cg27" gradientUnits="userSpaceOnUse" x1="0" y1="669.9" x2="0" y2="816.6"><stop offset="0.0000" stop-color="#20b4e6"/><stop offset="0.0409" stop-color="#20b4e6"/><stop offset="0.0682" stop-color="#24aa28"/><stop offset="0.0905" stop-color="#3cae1c"/><stop offset="0.1110" stop-color="#a8c200"/><stop offset="0.1349" stop-color="#f0c800"/><stop offset="0.1672" stop-color="#ffc000"/><stop offset="0.1877" stop-color="#ff9c00"/><stop offset="0.1877" stop-color="#fb7a00"/><stop offset="0.2054" stop-color="#f25a06"/><stop offset="0.2190" stop-color="#e83a12"/><stop offset="0.2463" stop-color="#da2622"/><stop offset="0.2872" stop-color="#d62a36"/><stop offset="0.3276" stop-color="#dc4c56"/><stop offset="0.3583" stop-color="#e8786e"/><stop offset="0.4708" stop-color="#f49c78"/><stop offset="1.0000" stop-color="#f7a47a"/></linearGradient><linearGradient id="cg28" gradientUnits="userSpaceOnUse" x1="0" y1="671.7" x2="0" y2="814.7"><stop offset="0.0000" stop-color="#22aa2a"/><stop offset="0.0420" stop-color="#22aa2a"/><stop offset="0.0699" stop-color="#24aa28"/><stop offset="0.0924" stop-color="#3cae1c"/><stop offset="0.1134" stop-color="#a8c200"/><stop offset="0.1379" stop-color="#f0c800"/><stop offset="0.1720" stop-color="#ffc000"/><stop offset="0.1930" stop-color="#ff9c00"/><stop offset="0.1930" stop-color="#fb7a00"/><stop offset="0.1937" stop-color="#f25a06"/><stop offset="0.2077" stop-color="#e83a12"/><stop offset="0.2356" stop-color="#da2622"/><stop offset="0.2776" stop-color="#d62a36"/><stop offset="0.3218" stop-color="#dc4c56"/><stop offset="0.3533" stop-color="#e8786e"/><stop offset="0.4687" stop-color="#f49c78"/><stop offset="1.0000" stop-color="#f7a47a"/></linearGradient><linearGradient id="cg29" gradientUnits="userSpaceOnUse" x1="0" y1="670.1" x2="0" y2="812.9"><stop offset="0.0000" stop-color="#2e86f8"/><stop offset="0.0420" stop-color="#2e86f8"/><stop offset="0.0700" stop-color="#24aa28"/><stop offset="0.0898" stop-color="#3cae1c"/><stop offset="0.1108" stop-color="#a8c200"/><stop offset="0.1353" stop-color="#f0c800"/><stop offset="0.1705" stop-color="#ffc000"/><stop offset="0.1915" stop-color="#ff9c00"/><stop offset="0.1915" stop-color="#fb7a00"/><stop offset="0.2001" stop-color="#f25a06"/><stop offset="0.2141" stop-color="#e83a12"/><stop offset="0.2422" stop-color="#da2622"/><stop offset="0.2842" stop-color="#d62a36"/><stop offset="0.3271" stop-color="#dc4c56"/><stop offset="0.3586" stop-color="#e8786e"/><stop offset="0.4742" stop-color="#f49c78"/><stop offset="1.0000" stop-color="#f7a47a"/></linearGradient><linearGradient id="cg30" gradientUnits="userSpaceOnUse" x1="0" y1="668.9" x2="0" y2="810.8"><stop offset="0.0000" stop-color="#20b4e6"/><stop offset="0.0423" stop-color="#20b4e6"/><stop offset="0.0705" stop-color="#24aa28"/><stop offset="0.0980" stop-color="#3cae1c"/><stop offset="0.1192" stop-color="#a8c200"/><stop offset="0.1438" stop-color="#f0c800"/><stop offset="0.1805" stop-color="#ffc000"/><stop offset="0.2016" stop-color="#ff9c00"/><stop offset="0.2016" stop-color="#fb7a00"/><stop offset="0.2062" stop-color="#f25a06"/><stop offset="0.2203" stop-color="#e83a12"/><stop offset="0.2485" stop-color="#da2622"/><stop offset="0.2908" stop-color="#d62a36"/><stop offset="0.3314" stop-color="#dc4c56"/><stop offset="0.3631" stop-color="#e8786e"/><stop offset="0.4794" stop-color="#f49c78"/><stop offset="1.0000" stop-color="#f7a47a"/></linearGradient><linearGradient id="cg31" gradientUnits="userSpaceOnUse" x1="0" y1="669.6" x2="0" y2="808.2"><stop offset="0.0000" stop-color="#7a50ff"/><stop offset="0.0433" stop-color="#7a50ff"/><stop offset="0.0722" stop-color="#24aa28"/><stop offset="0.0998" stop-color="#3cae1c"/><stop offset="0.1214" stop-color="#a8c200"/><stop offset="0.1467" stop-color="#f0c800"/><stop offset="0.1859" stop-color="#ffc000"/><stop offset="0.2075" stop-color="#ff9c00"/><stop offset="0.2075" stop-color="#fb7a00"/><stop offset="0.2075" stop-color="#f25a06"/><stop offset="0.2206" stop-color="#e83a12"/><stop offset="0.2495" stop-color="#da2622"/><stop offset="0.2928" stop-color="#d62a36"/><stop offset="0.3297" stop-color="#dc4c56"/><stop offset="0.3622" stop-color="#e8786e"/><stop offset="0.4813" stop-color="#f49c78"/><stop offset="1.0000" stop-color="#f7a47a"/></linearGradient><linearGradient id="cg32" gradientUnits="userSpaceOnUse" x1="0" y1="668.5" x2="0" y2="805.6"><stop offset="0.0000" stop-color="#7a50ff"/><stop offset="0.0438" stop-color="#7a50ff"/><stop offset="0.0730" stop-color="#24aa28"/><stop offset="0.1103" stop-color="#3cae1c"/><stop offset="0.1322" stop-color="#a8c200"/><stop offset="0.1577" stop-color="#f0c800"/><stop offset="0.1991" stop-color="#ffc000"/><stop offset="0.2209" stop-color="#ff9c00"/><stop offset="0.2209" stop-color="#fb7a00"/><stop offset="0.2209" stop-color="#f25a06"/><stop offset="0.2311" stop-color="#e83a12"/><stop offset="0.2603" stop-color="#da2622"/><stop offset="0.3041" stop-color="#d62a36"/><stop offset="0.3368" stop-color="#dc4c56"/><stop offset="0.3697" stop-color="#e8786e"/><stop offset="0.4900" stop-color="#f49c78"/><stop offset="1.0000" stop-color="#f7a47a"/></linearGradient><linearGradient id="cg33" gradientUnits="userSpaceOnUse" x1="0" y1="671.3" x2="0" y2="802.7"><stop offset="0.0000" stop-color="#14c08a"/><stop offset="0.0457" stop-color="#14c08a"/><stop offset="0.0761" stop-color="#24aa28"/><stop offset="0.0873" stop-color="#3cae1c"/><stop offset="0.1101" stop-color="#a8c200"/><stop offset="0.1367" stop-color="#f0c800"/><stop offset="0.1816" stop-color="#ffc000"/><stop offset="0.2045" stop-color="#ff9c00"/><stop offset="0.2045" stop-color="#fb7a00"/><stop offset="0.2045" stop-color="#f25a06"/><stop offset="0.2197" stop-color="#e83a12"/><stop offset="0.2502" stop-color="#da2622"/><stop offset="0.2958" stop-color="#d62a36"/><stop offset="0.3252" stop-color="#dc4c56"/><stop offset="0.3595" stop-color="#e8786e"/><stop offset="0.4850" stop-color="#f49c78"/><stop offset="1.0000" stop-color="#f7a47a"/></linearGradient><linearGradient id="cg34" gradientUnits="userSpaceOnUse" x1="0" y1="672.2" x2="0" y2="798.8"><stop offset="0.0000" stop-color="#22aa2a"/><stop offset="0.0474" stop-color="#22aa2a"/><stop offset="0.0790" stop-color="#24aa28"/><stop offset="0.0949" stop-color="#3cae1c"/><stop offset="0.1186" stop-color="#a8c200"/><stop offset="0.1463" stop-color="#f0c800"/><stop offset="0.1947" stop-color="#ffc000"/><stop offset="0.2184" stop-color="#ff9c00"/><stop offset="0.2184" stop-color="#fb7a00"/><stop offset="0.2184" stop-color="#f25a06"/><stop offset="0.2211" stop-color="#e83a12"/><stop offset="0.2527" stop-color="#da2622"/><stop offset="0.3001" stop-color="#d62a36"/><stop offset="0.3256" stop-color="#dc4c56"/><stop offset="0.3611" stop-color="#e8786e"/><stop offset="0.4915" stop-color="#f49c78"/><stop offset="1.0000" stop-color="#f7a47a"/></linearGradient><linearGradient id="cg35" gradientUnits="userSpaceOnUse" x1="0" y1="670.3" x2="0" y2="794.9"><stop offset="0.0000" stop-color="#2e86f8"/><stop offset="0.0482" stop-color="#2e86f8"/><stop offset="0.0803" stop-color="#24aa28"/><stop offset="0.0962" stop-color="#3cae1c"/><stop offset="0.1203" stop-color="#a8c200"/><stop offset="0.1484" stop-color="#f0c800"/><stop offset="0.1995" stop-color="#ffc000"/><stop offset="0.2236" stop-color="#ff9c00"/><stop offset="0.2236" stop-color="#fb7a00"/><stop offset="0.2246" stop-color="#f25a06"/><stop offset="0.2406" stop-color="#e83a12"/><stop offset="0.2728" stop-color="#da2622"/><stop offset="0.3209" stop-color="#d62a36"/><stop offset="0.3414" stop-color="#dc4c56"/><stop offset="0.3775" stop-color="#e8786e"/><stop offset="0.5100" stop-color="#f49c78"/><stop offset="1.0000" stop-color="#f7a47a"/></linearGradient><linearGradient id="cg36" gradientUnits="userSpaceOnUse" x1="0" y1="669.2" x2="0" y2="790.9"><stop offset="0.0000" stop-color="#14c08a"/><stop offset="0.0493" stop-color="#14c08a"/><stop offset="0.0821" stop-color="#24aa28"/><stop offset="0.1015" stop-color="#3cae1c"/><stop offset="0.1261" stop-color="#a8c200"/><stop offset="0.1549" stop-color="#f0c800"/><stop offset="0.2091" stop-color="#ffc000"/><stop offset="0.2337" stop-color="#ff9c00"/><stop offset="0.2337" stop-color="#fb7a00"/><stop offset="0.2411" stop-color="#f25a06"/><stop offset="0.2575" stop-color="#e83a12"/><stop offset="0.2904" stop-color="#da2622"/><stop offset="0.3397" stop-color="#d62a36"/><stop offset="0.3544" stop-color="#dc4c56"/><stop offset="0.3914" stop-color="#e8786e"/><stop offset="0.5269" stop-color="#f49c78"/><stop offset="1.0000" stop-color="#f7a47a"/></linearGradient><linearGradient id="cg37" gradientUnits="userSpaceOnUse" x1="0" y1="667.4" x2="0" y2="787.1"><stop offset="0.0000" stop-color="#20b4e6"/><stop offset="0.0501" stop-color="#20b4e6"/><stop offset="0.0835" stop-color="#24aa28"/><stop offset="0.1357" stop-color="#3cae1c"/><stop offset="0.1607" stop-color="#a8c200"/><stop offset="0.1900" stop-color="#f0c800"/><stop offset="0.2470" stop-color="#ffc000"/><stop offset="0.2720" stop-color="#ff9c00"/><stop offset="0.2720" stop-color="#fb7a00"/><stop offset="0.2720" stop-color="#f25a06"/><stop offset="0.2791" stop-color="#e83a12"/><stop offset="0.3125" stop-color="#da2622"/><stop offset="0.3627" stop-color="#d62a36"/><stop offset="0.3713" stop-color="#dc4c56"/><stop offset="0.4089" stop-color="#e8786e"/><stop offset="0.5467" stop-color="#f49c78"/><stop offset="1.0000" stop-color="#f7a47a"/></linearGradient><linearGradient id="cg38" gradientUnits="userSpaceOnUse" x1="0" y1="666.1" x2="0" y2="783.8"><stop offset="0.0000" stop-color="#22aa2a"/><stop offset="0.0509" stop-color="#22aa2a"/><stop offset="0.0849" stop-color="#24aa28"/><stop offset="0.1420" stop-color="#3cae1c"/><stop offset="0.1675" stop-color="#a8c200"/><stop offset="0.1972" stop-color="#f0c800"/><stop offset="0.2571" stop-color="#ffc000"/><stop offset="0.2826" stop-color="#ff9c00"/><stop offset="0.2826" stop-color="#fb7a00"/><stop offset="0.2826" stop-color="#f25a06"/><stop offset="0.2973" stop-color="#e83a12"/><stop offset="0.3313" stop-color="#da2622"/><stop offset="0.3823" stop-color="#d62a36"/><stop offset="0.3852" stop-color="#dc4c56"/><stop offset="0.4235" stop-color="#e8786e"/><stop offset="0.5636" stop-color="#f49c78"/><stop offset="1.0000" stop-color="#f7a47a"/></linearGradient><linearGradient id="cg39" gradientUnits="userSpaceOnUse" x1="0" y1="667.8" x2="0" y2="780.5"><stop offset="0.0000" stop-color="#7a50ff"/><stop offset="0.0532" stop-color="#7a50ff"/><stop offset="0.0887" stop-color="#24aa28"/><stop offset="0.1351" stop-color="#3cae1c"/><stop offset="0.1617" stop-color="#a8c200"/><stop offset="0.1928" stop-color="#f0c800"/><stop offset="0.2575" stop-color="#ffc000"/><stop offset="0.2841" stop-color="#ff9c00"/><stop offset="0.2841" stop-color="#fb7a00"/><stop offset="0.2841" stop-color="#f25a06"/><stop offset="0.2972" stop-color="#e83a12"/><stop offset="0.3327" stop-color="#da2622"/><stop offset="0.3860" stop-color="#d62a36"/><stop offset="0.3860" stop-color="#dc4c56"/><stop offset="0.4244" stop-color="#e8786e"/><stop offset="0.5708" stop-color="#f49c78"/><stop offset="1.0000" stop-color="#f7a47a"/></linearGradient><linearGradient id="cg40" gradientUnits="userSpaceOnUse" x1="0" y1="668.9" x2="0" y2="777.1"><stop offset="0.0000" stop-color="#20b4e6"/><stop offset="0.0555" stop-color="#20b4e6"/><stop offset="0.0924" stop-color="#24aa28"/><stop offset="0.1122" stop-color="#3cae1c"/><stop offset="0.1399" stop-color="#a8c200"/><stop offset="0.1723" stop-color="#f0c800"/><stop offset="0.2415" stop-color="#ffc000"/><stop offset="0.2692" stop-color="#ff9c00"/><stop offset="0.2692" stop-color="#fb7a00"/><stop offset="0.2836" stop-color="#f25a06"/><stop offset="0.3021" stop-color="#e83a12"/><stop offset="0.3391" stop-color="#da2622"/><stop offset="0.3945" stop-color="#d62a36"/><stop offset="0.3945" stop-color="#dc4c56"/><stop offset="0.4298" stop-color="#e8786e"/><stop offset="0.5823" stop-color="#f49c78"/><stop offset="1.0000" stop-color="#f7a47a"/></linearGradient><linearGradient id="cg41" gradientUnits="userSpaceOnUse" x1="0" y1="667.8" x2="0" y2="772.5"><stop offset="0.0000" stop-color="#22aa2a"/><stop offset="0.0573" stop-color="#22aa2a"/><stop offset="0.0955" stop-color="#24aa28"/><stop offset="0.1287" stop-color="#3cae1c"/><stop offset="0.1573" stop-color="#a8c200"/><stop offset="0.1907" stop-color="#f0c800"/><stop offset="0.2633" stop-color="#ffc000"/><stop offset="0.2919" stop-color="#ff9c00"/><stop offset="0.2919" stop-color="#fb7a00"/><stop offset="0.3111" stop-color="#f25a06"/><stop offset="0.3302" stop-color="#e83a12"/><stop offset="0.3684" stop-color="#da2622"/><stop offset="0.4257" stop-color="#d62a36"/><stop offset="0.4257" stop-color="#dc4c56"/><stop offset="0.4494" stop-color="#e8786e"/><stop offset="0.6070" stop-color="#f49c78"/><stop offset="1.0000" stop-color="#f7a47a"/></linearGradient><linearGradient id="cg42" gradientUnits="userSpaceOnUse" x1="0" y1="669.1" x2="0" y2="768.0"><stop offset="0.0000" stop-color="#22aa2a"/><stop offset="0.0607" stop-color="#22aa2a"/><stop offset="0.1011" stop-color="#24aa28"/><stop offset="0.1186" stop-color="#3cae1c"/><stop offset="0.1490" stop-color="#a8c200"/><stop offset="0.1844" stop-color="#f0c800"/><stop offset="0.2628" stop-color="#ffc000"/><stop offset="0.2931" stop-color="#ff9c00"/><stop offset="0.2931" stop-color="#fb7a00"/><stop offset="0.3291" stop-color="#f25a06"/><stop offset="0.3494" stop-color="#e83a12"/><stop offset="0.3898" stop-color="#da2622"/><stop offset="0.4504" stop-color="#d62a36"/><stop offset="0.4504" stop-color="#dc4c56"/><stop offset="0.4559" stop-color="#e8786e"/><stop offset="0.6227" stop-color="#f49c78"/><stop offset="1.0000" stop-color="#f7a47a"/></linearGradient><linearGradient id="cg43" gradientUnits="userSpaceOnUse" x1="0" y1="667.8" x2="0" y2="763.4"><stop offset="0.0000" stop-color="#7a50ff"/><stop offset="0.0627" stop-color="#7a50ff"/><stop offset="0.1045" stop-color="#24aa28"/><stop offset="0.1369" stop-color="#3cae1c"/><stop offset="0.1682" stop-color="#a8c200"/><stop offset="0.2048" stop-color="#f0c800"/><stop offset="0.2877" stop-color="#ffc000"/><stop offset="0.3190" stop-color="#ff9c00"/><stop offset="0.3190" stop-color="#fb7a00"/><stop offset="0.3666" stop-color="#f25a06"/><stop offset="0.3875" stop-color="#e83a12"/><stop offset="0.4293" stop-color="#da2622"/><stop offset="0.4920" stop-color="#d62a36"/><stop offset="0.4920" stop-color="#dc4c56"/><stop offset="0.4920" stop-color="#e8786e"/><stop offset="0.6500" stop-color="#f49c78"/><stop offset="1.0000" stop-color="#f7a47a"/></linearGradient><linearGradient id="cg44" gradientUnits="userSpaceOnUse" x1="0" y1="665.3" x2="0" y2="759.0"><stop offset="0.0000" stop-color="#14c08a"/><stop offset="0.0641" stop-color="#14c08a"/><stop offset="0.1068" stop-color="#24aa28"/><stop offset="0.1716" stop-color="#3cae1c"/><stop offset="0.2036" stop-color="#a8c200"/><stop offset="0.2410" stop-color="#f0c800"/><stop offset="0.3274" stop-color="#ffc000"/><stop offset="0.3595" stop-color="#ff9c00"/><stop offset="0.3601" stop-color="#fb7a00"/><stop offset="0.4135" stop-color="#f25a06"/><stop offset="0.4349" stop-color="#e83a12"/><stop offset="0.4776" stop-color="#da2622"/><stop offset="0.5417" stop-color="#d62a36"/><stop offset="0.5417" stop-color="#dc4c56"/><stop offset="0.5417" stop-color="#e8786e"/><stop offset="0.6837" stop-color="#f49c78"/><stop offset="1.0000" stop-color="#f7a47a"/></linearGradient><linearGradient id="cg45" gradientUnits="userSpaceOnUse" x1="0" y1="663.2" x2="0" y2="755.3"><stop offset="0.0000" stop-color="#c070ff"/><stop offset="0.0651" stop-color="#c070ff"/><stop offset="0.1085" stop-color="#24aa28"/><stop offset="0.2134" stop-color="#3cae1c"/><stop offset="0.2460" stop-color="#a8c200"/><stop offset="0.2839" stop-color="#f0c800"/><stop offset="0.3736" stop-color="#ffc000"/><stop offset="0.4061" stop-color="#ff9c00"/><stop offset="0.4061" stop-color="#fb7a00"/><stop offset="0.4540" stop-color="#f25a06"/><stop offset="0.4757" stop-color="#e83a12"/><stop offset="0.5191" stop-color="#da2622"/><stop offset="0.5842" stop-color="#d62a36"/><stop offset="0.5842" stop-color="#dc4c56"/><stop offset="0.5842" stop-color="#e8786e"/><stop offset="0.7249" stop-color="#f49c78"/><stop offset="1.0000" stop-color="#f7a47a"/></linearGradient><linearGradient id="cg46" gradientUnits="userSpaceOnUse" x1="0" y1="663.6" x2="0" y2="751.7"><stop offset="0.0000" stop-color="#22aa2a"/><stop offset="0.0681" stop-color="#22aa2a"/><stop offset="0.1135" stop-color="#24aa28"/><stop offset="0.1976" stop-color="#3cae1c"/><stop offset="0.2317" stop-color="#a8c200"/><stop offset="0.2714" stop-color="#f0c800"/><stop offset="0.3671" stop-color="#ffc000"/><stop offset="0.4011" stop-color="#ff9c00"/><stop offset="0.4217" stop-color="#fb7a00"/><stop offset="0.4785" stop-color="#f25a06"/><stop offset="0.5012" stop-color="#e83a12"/><stop offset="0.5466" stop-color="#da2622"/><stop offset="0.6147" stop-color="#d62a36"/><stop offset="0.6147" stop-color="#dc4c56"/><stop offset="0.6147" stop-color="#e8786e"/><stop offset="0.7606" stop-color="#f49c78"/><stop offset="1.0000" stop-color="#f7a47a"/></linearGradient><linearGradient id="cg47" gradientUnits="userSpaceOnUse" x1="0" y1="667.5" x2="0" y2="748.3"><stop offset="0.0000" stop-color="#22aa2a"/><stop offset="0.0743" stop-color="#22aa2a"/><stop offset="0.1238" stop-color="#24aa28"/><stop offset="0.1890" stop-color="#3cae1c"/><stop offset="0.2261" stop-color="#a8c200"/><stop offset="0.2694" stop-color="#f0c800"/><stop offset="0.3758" stop-color="#ffc000"/><stop offset="0.4130" stop-color="#ff9c00"/><stop offset="0.4204" stop-color="#fb7a00"/><stop offset="0.4823" stop-color="#f25a06"/><stop offset="0.5071" stop-color="#e83a12"/><stop offset="0.5566" stop-color="#da2622"/><stop offset="0.6309" stop-color="#d62a36"/><stop offset="0.6309" stop-color="#dc4c56"/><stop offset="0.6309" stop-color="#e8786e"/><stop offset="0.7887" stop-color="#f49c78"/><stop offset="1.0000" stop-color="#f7a47a"/></linearGradient><linearGradient id="cg48" gradientUnits="userSpaceOnUse" x1="0" y1="667.1" x2="0" y2="748.3"><stop offset="0.0000" stop-color="#22aa2a"/><stop offset="0.0739" stop-color="#22aa2a"/><stop offset="0.1231" stop-color="#24aa28"/><stop offset="0.1846" stop-color="#3cae1c"/><stop offset="0.2215" stop-color="#a8c200"/><stop offset="0.2646" stop-color="#f0c800"/><stop offset="0.3725" stop-color="#ffc000"/><stop offset="0.4094" stop-color="#ff9c00"/><stop offset="0.4328" stop-color="#fb7a00"/><stop offset="0.4943" stop-color="#f25a06"/><stop offset="0.5190" stop-color="#e83a12"/><stop offset="0.5682" stop-color="#da2622"/><stop offset="0.6421" stop-color="#d62a36"/><stop offset="0.6421" stop-color="#dc4c56"/><stop offset="0.6421" stop-color="#e8786e"/><stop offset="0.8046" stop-color="#f49c78"/><stop offset="1.0000" stop-color="#f7a47a"/></linearGradient><linearGradient id="cg49" gradientUnits="userSpaceOnUse" x1="0" y1="664.0" x2="0" y2="748.3"><stop offset="0.0000" stop-color="#c070ff"/><stop offset="0.0712" stop-color="#c070ff"/><stop offset="0.1187" stop-color="#24aa28"/><stop offset="0.2139" stop-color="#3cae1c"/><stop offset="0.2496" stop-color="#a8c200"/><stop offset="0.2911" stop-color="#f0c800"/><stop offset="0.3970" stop-color="#ffc000"/><stop offset="0.4326" stop-color="#ff9c00"/><stop offset="0.4326" stop-color="#f87400"/><stop offset="0.4976" stop-color="#ea4810"/><stop offset="0.5450" stop-color="#e23216"/><stop offset="0.5925" stop-color="#da2622"/><stop offset="0.6637" stop-color="#d62a36"/><stop offset="0.6637" stop-color="#dc4c56"/><stop offset="0.6637" stop-color="#e8786e"/><stop offset="0.8257" stop-color="#f49c78"/><stop offset="1.0000" stop-color="#f7a47a"/></linearGradient><linearGradient id="cg50" gradientUnits="userSpaceOnUse" x1="0" y1="665.3" x2="0" y2="748.4"><stop offset="0.0000" stop-color="#14c08a"/><stop offset="0.0723" stop-color="#14c08a"/><stop offset="0.1204" stop-color="#24aa28"/><stop offset="0.1924" stop-color="#3cae1c"/><stop offset="0.2285" stop-color="#a8c200"/><stop offset="0.2707" stop-color="#f0c800"/><stop offset="0.3835" stop-color="#ffc000"/><stop offset="0.4196" stop-color="#ff9c00"/><stop offset="0.4196" stop-color="#f87400"/><stop offset="0.4980" stop-color="#ea4810"/><stop offset="0.5461" stop-color="#e23216"/><stop offset="0.5943" stop-color="#da2622"/><stop offset="0.6666" stop-color="#d62a36"/><stop offset="0.6666" stop-color="#dc4c56"/><stop offset="0.6666" stop-color="#e8786e"/><stop offset="0.8364" stop-color="#f49c78"/><stop offset="1.0000" stop-color="#f7a47a"/></linearGradient><linearGradient id="cg51" gradientUnits="userSpaceOnUse" x1="0" y1="665.2" x2="0" y2="748.6"><stop offset="0.0000" stop-color="#20b4e6"/><stop offset="0.0719" stop-color="#20b4e6"/><stop offset="0.1198" stop-color="#24aa28"/><stop offset="0.1991" stop-color="#3cae1c"/><stop offset="0.2350" stop-color="#a8c200"/><stop offset="0.2770" stop-color="#f0c800"/><stop offset="0.3974" stop-color="#ffc000"/><stop offset="0.4333" stop-color="#ff9c00"/><stop offset="0.4333" stop-color="#f87400"/><stop offset="0.5063" stop-color="#ea4810"/><stop offset="0.5542" stop-color="#e23216"/><stop offset="0.6021" stop-color="#da2622"/><stop offset="0.6740" stop-color="#d62a36"/><stop offset="0.6740" stop-color="#dc4c56"/><stop offset="0.6740" stop-color="#e8786e"/><stop offset="0.8485" stop-color="#f49c78"/><stop offset="1.0000" stop-color="#f7a47a"/></linearGradient><linearGradient id="cg52" gradientUnits="userSpaceOnUse" x1="0" y1="663.8" x2="0" y2="748.9"><stop offset="0.0000" stop-color="#c070ff"/><stop offset="0.0705" stop-color="#c070ff"/><stop offset="0.1176" stop-color="#24aa28"/><stop offset="0.2164" stop-color="#3cae1c"/><stop offset="0.2517" stop-color="#a8c200"/><stop offset="0.2928" stop-color="#f0c800"/><stop offset="0.4190" stop-color="#ffc000"/><stop offset="0.4543" stop-color="#ff9c00"/><stop offset="0.4543" stop-color="#f87400"/><stop offset="0.5210" stop-color="#ea4810"/><stop offset="0.5680" stop-color="#e23216"/><stop offset="0.6150" stop-color="#da2622"/><stop offset="0.6855" stop-color="#d62a36"/><stop offset="0.6855" stop-color="#dc4c56"/><stop offset="0.6855" stop-color="#e8786e"/><stop offset="0.8588" stop-color="#f49c78"/><stop offset="1.0000" stop-color="#f7a47a"/></linearGradient><linearGradient id="cg53" gradientUnits="userSpaceOnUse" x1="0" y1="666.7" x2="0" y2="749.2"><stop offset="0.0000" stop-color="#20b4e6"/><stop offset="0.0728" stop-color="#20b4e6"/><stop offset="0.1213" stop-color="#24aa28"/><stop offset="0.1865" stop-color="#3cae1c"/><stop offset="0.2228" stop-color="#a8c200"/><stop offset="0.2653" stop-color="#f0c800"/><stop offset="0.4037" stop-color="#ffc000"/><stop offset="0.4401" stop-color="#ff9c00"/><stop offset="0.4401" stop-color="#f87400"/><stop offset="0.5116" stop-color="#ea4810"/><stop offset="0.5601" stop-color="#e23216"/><stop offset="0.6086" stop-color="#da2622"/><stop offset="0.6813" stop-color="#d62a36"/><stop offset="0.6813" stop-color="#dc4c56"/><stop offset="0.6813" stop-color="#e8786e"/><stop offset="0.8584" stop-color="#f49c78"/><stop offset="1.0000" stop-color="#f7a47a"/></linearGradient><linearGradient id="cg54" gradientUnits="userSpaceOnUse" x1="0" y1="667.5" x2="0" y2="749.9"><stop offset="0.0000" stop-color="#22aa2a"/><stop offset="0.0728" stop-color="#22aa2a"/><stop offset="0.1213" stop-color="#24aa28"/><stop offset="0.1612" stop-color="#3cae1c"/><stop offset="0.1976" stop-color="#a8c200"/><stop offset="0.2401" stop-color="#f0c800"/><stop offset="0.3869" stop-color="#ffc000"/><stop offset="0.4233" stop-color="#ff9c00"/><stop offset="0.4264" stop-color="#f87400"/><stop offset="0.5113" stop-color="#ea4810"/><stop offset="0.5598" stop-color="#e23216"/><stop offset="0.6084" stop-color="#da2622"/><stop offset="0.6812" stop-color="#d62a36"/><stop offset="0.6812" stop-color="#dc4c56"/><stop offset="0.6812" stop-color="#e8786e"/><stop offset="0.8568" stop-color="#f49c78"/><stop offset="1.0000" stop-color="#f7a47a"/></linearGradient><linearGradient id="cg55" gradientUnits="userSpaceOnUse" x1="0" y1="662.4" x2="0" y2="751.1"><stop offset="0.0000" stop-color="#20b4e6"/><stop offset="0.0676" stop-color="#20b4e6"/><stop offset="0.1127" stop-color="#24aa28"/><stop offset="0.2011" stop-color="#3cae1c"/><stop offset="0.2349" stop-color="#a8c200"/><stop offset="0.2744" stop-color="#f0c800"/><stop offset="0.4200" stop-color="#ffc000"/><stop offset="0.4538" stop-color="#ff9c00"/><stop offset="0.4702" stop-color="#f87400"/><stop offset="0.5491" stop-color="#ea4810"/><stop offset="0.5942" stop-color="#e23216"/><stop offset="0.6393" stop-color="#da2622"/><stop offset="0.7069" stop-color="#d62a36"/><stop offset="0.7069" stop-color="#dc4c56"/><stop offset="0.7069" stop-color="#e8786e"/><stop offset="0.8598" stop-color="#f49c78"/><stop offset="1.0000" stop-color="#f7a47a"/></linearGradient><linearGradient id="cg56" gradientUnits="userSpaceOnUse" x1="0" y1="661.5" x2="0" y2="752.4"><stop offset="0.0000" stop-color="#c070ff"/><stop offset="0.0661" stop-color="#c070ff"/><stop offset="0.1101" stop-color="#24aa28"/><stop offset="0.2197" stop-color="#3cae1c"/><stop offset="0.2527" stop-color="#a8c200"/><stop offset="0.2913" stop-color="#f0c800"/><stop offset="0.4446" stop-color="#ffc000"/><stop offset="0.4777" stop-color="#ff9c00"/><stop offset="0.4952" stop-color="#f87400"/><stop offset="0.5723" stop-color="#ea4810"/><stop offset="0.6163" stop-color="#e23216"/><stop offset="0.6603" stop-color="#da2622"/><stop offset="0.7264" stop-color="#d62a36"/><stop offset="0.7264" stop-color="#dc4c56"/><stop offset="0.7264" stop-color="#e8786e"/><stop offset="0.8947" stop-color="#f49c78"/><stop offset="1.0000" stop-color="#f7a47a"/></linearGradient><linearGradient id="cg57" gradientUnits="userSpaceOnUse" x1="0" y1="664.3" x2="0" y2="753.6"><stop offset="0.0000" stop-color="#22aa2a"/><stop offset="0.0672" stop-color="#22aa2a"/><stop offset="0.1120" stop-color="#24aa28"/><stop offset="0.1685" stop-color="#3cae1c"/><stop offset="0.2021" stop-color="#a8c200"/><stop offset="0.2413" stop-color="#f0c800"/><stop offset="0.4087" stop-color="#ffc000"/><stop offset="0.4423" stop-color="#ff9c00"/><stop offset="0.4992" stop-color="#f87400"/><stop offset="0.5776" stop-color="#ea4810"/><stop offset="0.6224" stop-color="#e23216"/><stop offset="0.6672" stop-color="#da2622"/><stop offset="0.7344" stop-color="#d62a36"/><stop offset="0.7348" stop-color="#dc4c56"/><stop offset="0.7852" stop-color="#e8786e"/><stop offset="0.9700" stop-color="#f49c78"/><stop offset="1.0000" stop-color="#f7a47a"/></linearGradient><linearGradient id="cg58" gradientUnits="userSpaceOnUse" x1="0" y1="661.9" x2="0" y2="754.8"><stop offset="0.0000" stop-color="#c070ff"/><stop offset="0.0646" stop-color="#c070ff"/><stop offset="0.1077" stop-color="#24aa28"/><stop offset="0.1936" stop-color="#3cae1c"/><stop offset="0.2259" stop-color="#a8c200"/><stop offset="0.2636" stop-color="#f0c800"/><stop offset="0.4354" stop-color="#ffc000"/><stop offset="0.4677" stop-color="#ff9c00"/><stop offset="0.5448" stop-color="#f87400"/><stop offset="0.6201" stop-color="#ea4810"/><stop offset="0.6632" stop-color="#e23216"/><stop offset="0.7063" stop-color="#da2622"/><stop offset="0.7709" stop-color="#d62a36"/><stop offset="0.8192" stop-color="#dc4c56"/><stop offset="0.8677" stop-color="#e8786e"/><stop offset="1.0453" stop-color="#f49c78"/><stop offset="1.0453" stop-color="#f7a47a"/></linearGradient><linearGradient id="cg59" gradientUnits="userSpaceOnUse" x1="0" y1="664.5" x2="0" y2="756.0"><stop offset="0.0000" stop-color="#7a50ff"/><stop offset="0.0655" stop-color="#7a50ff"/><stop offset="0.1092" stop-color="#24aa28"/><stop offset="0.1647" stop-color="#3cae1c"/><stop offset="0.1974" stop-color="#a8c200"/><stop offset="0.2357" stop-color="#f0c800"/><stop offset="0.4211" stop-color="#ffc000"/><stop offset="0.4539" stop-color="#ff9c00"/><stop offset="0.5654" stop-color="#f87400"/><stop offset="0.6418" stop-color="#ea4810"/><stop offset="0.6855" stop-color="#e23216"/><stop offset="0.7292" stop-color="#da2622"/><stop offset="0.7947" stop-color="#d62a36"/><stop offset="0.8918" stop-color="#dc4c56"/><stop offset="0.9409" stop-color="#e8786e"/><stop offset="1.1212" stop-color="#f49c78"/><stop offset="1.1212" stop-color="#f7a47a"/></linearGradient><linearGradient id="cg60" gradientUnits="userSpaceOnUse" x1="0" y1="662.2" x2="0" y2="757.3"><stop offset="0.0000" stop-color="#7a50ff"/><stop offset="0.0631" stop-color="#7a50ff"/><stop offset="0.1051" stop-color="#24aa28"/><stop offset="0.1882" stop-color="#3cae1c"/><stop offset="0.2198" stop-color="#a8c200"/><stop offset="0.2566" stop-color="#f0c800"/><stop offset="0.4426" stop-color="#ffc000"/><stop offset="0.4741" stop-color="#ff9c00"/><stop offset="0.5728" stop-color="#f87400"/><stop offset="0.6464" stop-color="#ea4810"/><stop offset="0.6885" stop-color="#e23216"/><stop offset="0.7305" stop-color="#da2622"/><stop offset="0.7936" stop-color="#d62a36"/><stop offset="0.9682" stop-color="#dc4c56"/><stop offset="1.0155" stop-color="#e8786e"/><stop offset="1.1890" stop-color="#f49c78"/><stop offset="1.1890" stop-color="#f7a47a"/></linearGradient><linearGradient id="cg61" gradientUnits="userSpaceOnUse" x1="0" y1="663.6" x2="0" y2="759.0"><stop offset="0.0000" stop-color="#7a50ff"/><stop offset="0.0629" stop-color="#7a50ff"/><stop offset="0.1048" stop-color="#24aa28"/><stop offset="0.1560" stop-color="#3cae1c"/><stop offset="0.1874" stop-color="#a8c200"/><stop offset="0.2241" stop-color="#f0c800"/><stop offset="0.4136" stop-color="#ffc000"/><stop offset="0.4451" stop-color="#ff9c00"/><stop offset="0.5155" stop-color="#f26a06"/><stop offset="0.5994" stop-color="#e84a0c"/><stop offset="0.6623" stop-color="#e23412"/><stop offset="0.7147" stop-color="#d82226"/><stop offset="0.7881" stop-color="#d62632"/><stop offset="1.0004" stop-color="#da4450"/><stop offset="1.0528" stop-color="#e05a60"/><stop offset="1.0528" stop-color="#e4666a"/><stop offset="1.0528" stop-color="#e87070"/></linearGradient><linearGradient id="cg62" gradientUnits="userSpaceOnUse" x1="0" y1="663.4" x2="0" y2="761.5"><stop offset="0.0000" stop-color="#14c08a"/><stop offset="0.0611" stop-color="#14c08a"/><stop offset="0.1019" stop-color="#24aa28"/><stop offset="0.1755" stop-color="#3cae1c"/><stop offset="0.2061" stop-color="#a8c200"/><stop offset="0.2417" stop-color="#f0c800"/><stop offset="0.4299" stop-color="#ffc000"/><stop offset="0.4605" stop-color="#ff9c00"/><stop offset="0.5053" stop-color="#f26a06"/><stop offset="0.5869" stop-color="#e84a0c"/><stop offset="0.6480" stop-color="#e23412"/><stop offset="0.6990" stop-color="#d82226"/><stop offset="0.7703" stop-color="#d62632"/><stop offset="0.9916" stop-color="#da4450"/><stop offset="1.0425" stop-color="#e05a60"/><stop offset="1.0425" stop-color="#e4666a"/><stop offset="1.0425" stop-color="#e87070"/></linearGradient><linearGradient id="cg63" gradientUnits="userSpaceOnUse" x1="0" y1="667.5" x2="0" y2="764.0"><stop offset="0.0000" stop-color="#22aa2a"/><stop offset="0.0621" stop-color="#22aa2a"/><stop offset="0.1036" stop-color="#24aa28"/><stop offset="0.1321" stop-color="#3cae1c"/><stop offset="0.1632" stop-color="#a8c200"/><stop offset="0.1994" stop-color="#f0c800"/><stop offset="0.3947" stop-color="#ffc000"/><stop offset="0.4258" stop-color="#ff9c00"/><stop offset="0.4790" stop-color="#f26a06"/><stop offset="0.5618" stop-color="#e84a0c"/><stop offset="0.6240" stop-color="#e23412"/><stop offset="0.6758" stop-color="#d82226"/><stop offset="0.7483" stop-color="#d62632"/><stop offset="0.9825" stop-color="#da4450"/><stop offset="1.0343" stop-color="#e05a60"/><stop offset="1.0343" stop-color="#e4666a"/><stop offset="1.0343" stop-color="#e87070"/></linearGradient><linearGradient id="cg64" gradientUnits="userSpaceOnUse" x1="0" y1="670.0" x2="0" y2="766.5"><stop offset="0.0000" stop-color="#7a50ff"/><stop offset="0.0622" stop-color="#7a50ff"/><stop offset="0.1036" stop-color="#24aa28"/><stop offset="0.1124" stop-color="#3cae1c"/><stop offset="0.1435" stop-color="#a8c200"/><stop offset="0.1798" stop-color="#f0c800"/><stop offset="0.3792" stop-color="#ffc000"/><stop offset="0.4103" stop-color="#ff9c00"/><stop offset="0.4612" stop-color="#f26a06"/><stop offset="0.5441" stop-color="#e84a0c"/><stop offset="0.6062" stop-color="#e23412"/><stop offset="0.6580" stop-color="#d82226"/><stop offset="0.7306" stop-color="#d62632"/><stop offset="0.9735" stop-color="#da4450"/><stop offset="1.0253" stop-color="#e05a60"/><stop offset="1.0253" stop-color="#e4666a"/><stop offset="1.0253" stop-color="#e87070"/></linearGradient><linearGradient id="cg65" gradientUnits="userSpaceOnUse" x1="0" y1="670.4" x2="0" y2="769.0"><stop offset="0.0000" stop-color="#14c08a"/><stop offset="0.0608" stop-color="#14c08a"/><stop offset="0.1014" stop-color="#24aa28"/><stop offset="0.1116" stop-color="#3cae1c"/><stop offset="0.1420" stop-color="#a8c200"/><stop offset="0.1775" stop-color="#f0c800"/><stop offset="0.3740" stop-color="#ffc000"/><stop offset="0.4044" stop-color="#ff9c00"/><stop offset="0.4626" stop-color="#f26a06"/><stop offset="0.5437" stop-color="#e84a0c"/><stop offset="0.6045" stop-color="#e23412"/><stop offset="0.6552" stop-color="#d82226"/><stop offset="0.7262" stop-color="#d62632"/><stop offset="0.9594" stop-color="#da4450"/><stop offset="1.0101" stop-color="#e05a60"/><stop offset="1.0101" stop-color="#e4666a"/><stop offset="1.0101" stop-color="#e87070"/></linearGradient><linearGradient id="cg66" gradientUnits="userSpaceOnUse" x1="0" y1="668.2" x2="0" y2="771.5"><stop offset="0.0000" stop-color="#22aa2a"/><stop offset="0.0581" stop-color="#22aa2a"/><stop offset="0.0968" stop-color="#24aa28"/><stop offset="0.1141" stop-color="#3cae1c"/><stop offset="0.1432" stop-color="#a8c200"/><stop offset="0.1771" stop-color="#f0c800"/><stop offset="0.3611" stop-color="#ffc000"/><stop offset="0.3902" stop-color="#ff9c00"/><stop offset="0.4886" stop-color="#f26a06"/><stop offset="0.5661" stop-color="#e84a0c"/><stop offset="0.6242" stop-color="#e23412"/><stop offset="0.6726" stop-color="#d82226"/><stop offset="0.7404" stop-color="#d62632"/><stop offset="0.9471" stop-color="#da4450"/><stop offset="0.9955" stop-color="#e05a60"/><stop offset="0.9955" stop-color="#e4666a"/><stop offset="1.0000" stop-color="#e87070"/></linearGradient><linearGradient id="cg67" gradientUnits="userSpaceOnUse" x1="0" y1="670.4" x2="0" y2="773.8"><stop offset="0.0000" stop-color="#2e86f8"/><stop offset="0.0580" stop-color="#2e86f8"/><stop offset="0.0967" stop-color="#24aa28"/><stop offset="0.1083" stop-color="#3cae1c"/><stop offset="0.1373" stop-color="#a8c200"/><stop offset="0.1712" stop-color="#f0c800"/><stop offset="0.3516" stop-color="#ffc000"/><stop offset="0.3806" stop-color="#ff9c00"/><stop offset="0.4941" stop-color="#f26a06"/><stop offset="0.5715" stop-color="#e84a0c"/><stop offset="0.6296" stop-color="#e23412"/><stop offset="0.6779" stop-color="#d82226"/><stop offset="0.7456" stop-color="#d62632"/><stop offset="0.9349" stop-color="#da4450"/><stop offset="0.9833" stop-color="#e05a60"/><stop offset="0.9833" stop-color="#e4666a"/><stop offset="1.0000" stop-color="#e87070"/></linearGradient><linearGradient id="cg68" gradientUnits="userSpaceOnUse" x1="0" y1="674.4" x2="0" y2="776.0"><stop offset="0.0000" stop-color="#22aa2a"/><stop offset="0.0590" stop-color="#22aa2a"/><stop offset="0.0984" stop-color="#24aa28"/><stop offset="0.0984" stop-color="#3cae1c"/><stop offset="0.1132" stop-color="#a8c200"/><stop offset="0.1476" stop-color="#f0c800"/><stop offset="0.3278" stop-color="#ffc000"/><stop offset="0.3574" stop-color="#ff9c00"/><stop offset="0.4880" stop-color="#f26a06"/><stop offset="0.5668" stop-color="#e84a0c"/><stop offset="0.6258" stop-color="#e23412"/><stop offset="0.6750" stop-color="#d82226"/><stop offset="0.7439" stop-color="#d62632"/><stop offset="0.8743" stop-color="#da4450"/><stop offset="0.9235" stop-color="#e05a60"/><stop offset="0.9410" stop-color="#e4666a"/><stop offset="1.0000" stop-color="#e87070"/></linearGradient><linearGradient id="cg69" gradientUnits="userSpaceOnUse" x1="0" y1="675.7" x2="0" y2="778.3"><stop offset="0.0000" stop-color="#22aa2a"/><stop offset="0.0585" stop-color="#22aa2a"/><stop offset="0.0975" stop-color="#24aa28"/><stop offset="0.0975" stop-color="#3cae1c"/><stop offset="0.0975" stop-color="#a8c200"/><stop offset="0.1265" stop-color="#f0c800"/><stop offset="0.3095" stop-color="#ffc000"/><stop offset="0.3388" stop-color="#ff9c00"/><stop offset="0.4726" stop-color="#f26a06"/><stop offset="0.5506" stop-color="#e84a0c"/><stop offset="0.6091" stop-color="#e23412"/><stop offset="0.6578" stop-color="#d82226"/><stop offset="0.7260" stop-color="#d62632"/><stop offset="0.8056" stop-color="#da4450"/><stop offset="0.8544" stop-color="#e05a60"/><stop offset="0.9415" stop-color="#e4666a"/><stop offset="1.0000" stop-color="#e87070"/></linearGradient><linearGradient id="cg70" gradientUnits="userSpaceOnUse" x1="0" y1="679.2" x2="0" y2="780.6"><stop offset="0.0000" stop-color="#22aa2a"/><stop offset="0.0592" stop-color="#22aa2a"/><stop offset="0.0986" stop-color="#24aa28"/><stop offset="0.0986" stop-color="#a8c200"/><stop offset="0.1014" stop-color="#f0c800"/><stop offset="0.2894" stop-color="#ffc000"/><stop offset="0.3190" stop-color="#ff9c00"/><stop offset="0.4459" stop-color="#f26a06"/><stop offset="0.5248" stop-color="#e84a0c"/><stop offset="0.5840" stop-color="#e23412"/><stop offset="0.6333" stop-color="#d82226"/><stop offset="0.7023" stop-color="#d62632"/><stop offset="0.7602" stop-color="#da4450"/><stop offset="0.8095" stop-color="#e05a60"/><stop offset="0.9408" stop-color="#e4666a"/><stop offset="1.0000" stop-color="#e87070"/></linearGradient><linearGradient id="cg71" gradientUnits="userSpaceOnUse" x1="0" y1="681.3" x2="0" y2="782.6"><stop offset="0.0000" stop-color="#ffc800"/><stop offset="0.2658" stop-color="#ffbc00"/><stop offset="0.3251" stop-color="#ff9800"/><stop offset="0.4345" stop-color="#f26a06"/><stop offset="0.5135" stop-color="#e84a0c"/><stop offset="0.5727" stop-color="#e23412"/><stop offset="0.6221" stop-color="#d82226"/><stop offset="0.6912" stop-color="#d62632"/><stop offset="0.7416" stop-color="#da4450"/><stop offset="0.7910" stop-color="#e05a60"/><stop offset="0.9407" stop-color="#e4666a"/><stop offset="1.0000" stop-color="#e87070"/></linearGradient><linearGradient id="cg72" gradientUnits="userSpaceOnUse" x1="0" y1="681.7" x2="0" y2="784.0"><stop offset="0.0000" stop-color="#ffc800"/><stop offset="0.2704" stop-color="#ffbc00"/><stop offset="0.3290" stop-color="#ff9800"/><stop offset="0.4468" stop-color="#f26a06"/><stop offset="0.5250" stop-color="#e84a0c"/><stop offset="0.5836" stop-color="#e23412"/><stop offset="0.6324" stop-color="#d82226"/><stop offset="0.7008" stop-color="#d62632"/><stop offset="0.7319" stop-color="#da4450"/><stop offset="0.7808" stop-color="#e05a60"/><stop offset="0.9414" stop-color="#e4666a"/><stop offset="1.0000" stop-color="#e87070"/></linearGradient><linearGradient id="cg73" gradientUnits="userSpaceOnUse" x1="0" y1="683.9" x2="0" y2="785.5"><stop offset="0.0000" stop-color="#ffc800"/><stop offset="0.2615" stop-color="#ffbc00"/><stop offset="0.3206" stop-color="#ff9800"/><stop offset="0.4477" stop-color="#f26a06"/><stop offset="0.5264" stop-color="#e84a0c"/><stop offset="0.5855" stop-color="#e23412"/><stop offset="0.6347" stop-color="#d82226"/><stop offset="0.7036" stop-color="#d62632"/><stop offset="0.7174" stop-color="#da4450"/><stop offset="0.7666" stop-color="#e05a60"/><stop offset="0.9409" stop-color="#e4666a"/><stop offset="1.0000" stop-color="#e87070"/></linearGradient><linearGradient id="cg74" gradientUnits="userSpaceOnUse" x1="0" y1="694.5" x2="0" y2="787.0"><stop offset="0.0000" stop-color="#ffc800"/><stop offset="0.1856" stop-color="#ffbc00"/><stop offset="0.2504" stop-color="#ff9800"/><stop offset="0.3985" stop-color="#f26a06"/><stop offset="0.4850" stop-color="#e84a0c"/><stop offset="0.5499" stop-color="#e23412"/><stop offset="0.6039" stop-color="#d82226"/><stop offset="0.6796" stop-color="#d62632"/><stop offset="0.6796" stop-color="#da4450"/><stop offset="0.7323" stop-color="#e05a60"/><stop offset="0.9351" stop-color="#e4666a"/><stop offset="1.0000" stop-color="#e87070"/></linearGradient><linearGradient id="cg75" gradientUnits="userSpaceOnUse" x1="0" y1="699.7" x2="0" y2="788.8"><stop offset="0.0000" stop-color="#ffc800"/><stop offset="0.1474" stop-color="#ffbc00"/><stop offset="0.2147" stop-color="#ff9800"/><stop offset="0.3768" stop-color="#f26a06"/><stop offset="0.4666" stop-color="#e84a0c"/><stop offset="0.5340" stop-color="#e23412"/><stop offset="0.5902" stop-color="#d82226"/><stop offset="0.6688" stop-color="#d62632"/><stop offset="0.6688" stop-color="#da4450"/><stop offset="0.7114" stop-color="#e05a60"/><stop offset="0.9326" stop-color="#e4666a"/><stop offset="1.0000" stop-color="#e87070"/></linearGradient><linearGradient id="cg76" gradientUnits="userSpaceOnUse" x1="0" y1="701.6" x2="0" y2="791.5"><stop offset="0.0000" stop-color="#ffc800"/><stop offset="0.1390" stop-color="#ffbc00"/><stop offset="0.2058" stop-color="#ff9800"/><stop offset="0.3631" stop-color="#f26a06"/><stop offset="0.4521" stop-color="#e84a0c"/><stop offset="0.5188" stop-color="#e23412"/><stop offset="0.5745" stop-color="#d82226"/><stop offset="0.6523" stop-color="#d62632"/><stop offset="0.6523" stop-color="#da4450"/><stop offset="0.6941" stop-color="#e05a60"/><stop offset="0.9332" stop-color="#e4666a"/><stop offset="1.0000" stop-color="#e87070"/></linearGradient><linearGradient id="cg77" gradientUnits="userSpaceOnUse" x1="0" y1="700.2" x2="0" y2="794.1"><stop offset="0.0000" stop-color="#ffc800"/><stop offset="0.1609" stop-color="#ffbc00"/><stop offset="0.2248" stop-color="#ff9800"/><stop offset="0.3700" stop-color="#f26a06"/><stop offset="0.4551" stop-color="#e84a0c"/><stop offset="0.5190" stop-color="#e23412"/><stop offset="0.5722" stop-color="#d82226"/><stop offset="0.6467" stop-color="#d62632"/><stop offset="0.6467" stop-color="#da4450"/><stop offset="0.6883" stop-color="#e05a60"/><stop offset="0.9361" stop-color="#e4666a"/><stop offset="1.0000" stop-color="#e87070"/></linearGradient><linearGradient id="cg78" gradientUnits="userSpaceOnUse" x1="0" y1="699.1" x2="0" y2="796.8"><stop offset="0.0000" stop-color="#ffc800"/><stop offset="0.1780" stop-color="#ffbc00"/><stop offset="0.2394" stop-color="#ff9800"/><stop offset="0.3740" stop-color="#f26a06"/><stop offset="0.4559" stop-color="#e84a0c"/><stop offset="0.5173" stop-color="#e23412"/><stop offset="0.5685" stop-color="#d82226"/><stop offset="0.6402" stop-color="#d62632"/><stop offset="0.6402" stop-color="#da4450"/><stop offset="0.6818" stop-color="#e05a60"/><stop offset="0.9386" stop-color="#e4666a"/><stop offset="1.0000" stop-color="#e87070"/></linearGradient><linearGradient id="cg79" gradientUnits="userSpaceOnUse" x1="0" y1="703.0" x2="0" y2="798.5"><stop offset="0.0000" stop-color="#ffc800"/><stop offset="0.1540" stop-color="#ffbc00"/><stop offset="0.2168" stop-color="#ff9800"/><stop offset="0.3580" stop-color="#f26a06"/><stop offset="0.4418" stop-color="#e84a0c"/><stop offset="0.5046" stop-color="#e23412"/><stop offset="0.5569" stop-color="#d82226"/><stop offset="0.6302" stop-color="#d62632"/><stop offset="0.6302" stop-color="#da4450"/><stop offset="0.6682" stop-color="#e05a60"/><stop offset="0.9372" stop-color="#e4666a"/><stop offset="1.0000" stop-color="#e87070"/></linearGradient><linearGradient id="cg80" gradientUnits="userSpaceOnUse" x1="0" y1="706.9" x2="0" y2="799.5"><stop offset="0.0000" stop-color="#ffc800"/><stop offset="0.1295" stop-color="#ffbc00"/><stop offset="0.1943" stop-color="#ff9800"/><stop offset="0.3459" stop-color="#f26a06"/><stop offset="0.4323" stop-color="#e84a0c"/><stop offset="0.4971" stop-color="#e23412"/><stop offset="0.5510" stop-color="#d82226"/><stop offset="0.6266" stop-color="#d62632"/><stop offset="0.6266" stop-color="#da4450"/><stop offset="0.6593" stop-color="#e05a60"/><stop offset="0.9352" stop-color="#e4666a"/><stop offset="1.0000" stop-color="#e87070"/></linearGradient><linearGradient id="cg81" gradientUnits="userSpaceOnUse" x1="0" y1="704.5" x2="0" y2="800.5"><stop offset="0.0000" stop-color="#ffc800"/><stop offset="0.1621" stop-color="#ffbc00"/><stop offset="0.2246" stop-color="#ff9800"/><stop offset="0.3766" stop-color="#f26a06"/><stop offset="0.4599" stop-color="#e84a0c"/><stop offset="0.5224" stop-color="#e23412"/><stop offset="0.5745" stop-color="#d82226"/><stop offset="0.6474" stop-color="#d62632"/><stop offset="0.6474" stop-color="#da4450"/><stop offset="0.6727" stop-color="#e05a60"/><stop offset="0.9375" stop-color="#e4666a"/><stop offset="1.0000" stop-color="#e87070"/></linearGradient><linearGradient id="cg82" gradientUnits="userSpaceOnUse" x1="0" y1="702.0" x2="0" y2="801.5"><stop offset="0.0000" stop-color="#ffc800"/><stop offset="0.1930" stop-color="#ffbc00"/><stop offset="0.2533" stop-color="#ff9800"/><stop offset="0.3998" stop-color="#f26a06"/><stop offset="0.4803" stop-color="#e84a0c"/><stop offset="0.5406" stop-color="#e23412"/><stop offset="0.5909" stop-color="#d82226"/><stop offset="0.6613" stop-color="#d62632"/><stop offset="0.6613" stop-color="#da4450"/><stop offset="0.6854" stop-color="#e05a60"/><stop offset="0.9397" stop-color="#e4666a"/><stop offset="1.0000" stop-color="#e87070"/></linearGradient><linearGradient id="cg83" gradientUnits="userSpaceOnUse" x1="0" y1="703.8" x2="0" y2="802.4"><stop offset="0.0000" stop-color="#ffc800"/><stop offset="0.1880" stop-color="#ffbc00"/><stop offset="0.2488" stop-color="#ff9800"/><stop offset="0.3947" stop-color="#f26a06"/><stop offset="0.4758" stop-color="#e84a0c"/><stop offset="0.5367" stop-color="#e23412"/><stop offset="0.5874" stop-color="#d82226"/><stop offset="0.6584" stop-color="#d62632"/><stop offset="0.6584" stop-color="#da4450"/><stop offset="0.6833" stop-color="#e05a60"/><stop offset="0.9392" stop-color="#e4666a"/><stop offset="1.0000" stop-color="#e87070"/></linearGradient><linearGradient id="cg84" gradientUnits="userSpaceOnUse" x1="0" y1="709.7" x2="0" y2="803.4"><stop offset="0.0000" stop-color="#ffa000"/><stop offset="0.0640" stop-color="#f67800"/><stop offset="0.1494" stop-color="#ee5a08"/><stop offset="0.3634" stop-color="#f26a06"/><stop offset="0.4488" stop-color="#e84a0c"/><stop offset="0.5128" stop-color="#e23412"/><stop offset="0.5661" stop-color="#d82226"/><stop offset="0.6408" stop-color="#d62632"/><stop offset="0.6408" stop-color="#da4450"/><stop offset="0.6651" stop-color="#e05a60"/><stop offset="0.9360" stop-color="#e4666a"/><stop offset="1.0000" stop-color="#e87070"/></linearGradient><linearGradient id="cg85" gradientUnits="userSpaceOnUse" x1="0" y1="717.7" x2="0" y2="804.4"><stop offset="0.0000" stop-color="#ffa000"/><stop offset="0.0693" stop-color="#f67800"/><stop offset="0.1616" stop-color="#ee5a08"/><stop offset="0.3113" stop-color="#f26a06"/><stop offset="0.4036" stop-color="#e84a0c"/><stop offset="0.4729" stop-color="#e23412"/><stop offset="0.5306" stop-color="#d82226"/><stop offset="0.6115" stop-color="#d62632"/><stop offset="0.6115" stop-color="#da4450"/><stop offset="0.6361" stop-color="#e05a60"/><stop offset="0.9307" stop-color="#e4666a"/><stop offset="1.0000" stop-color="#e87070"/></linearGradient><linearGradient id="cg86" gradientUnits="userSpaceOnUse" x1="0" y1="723.8" x2="0" y2="805.3"><stop offset="0.0000" stop-color="#ffa000"/><stop offset="0.0736" stop-color="#f67800"/><stop offset="0.1716" stop-color="#ee5a08"/><stop offset="0.2687" stop-color="#f26a06"/><stop offset="0.3667" stop-color="#e84a0c"/><stop offset="0.4403" stop-color="#e23412"/><stop offset="0.5016" stop-color="#d82226"/><stop offset="0.5874" stop-color="#d62632"/><stop offset="0.5874" stop-color="#da4450"/><stop offset="0.6117" stop-color="#e05a60"/><stop offset="0.9264" stop-color="#e4666a"/><stop offset="1.0000" stop-color="#e87070"/></linearGradient><linearGradient id="cg87" gradientUnits="userSpaceOnUse" x1="0" y1="729.1" x2="0" y2="807.3"><stop offset="0.0000" stop-color="#ffa000"/><stop offset="0.0768" stop-color="#f67800"/><stop offset="0.1792" stop-color="#ee5a08"/><stop offset="0.2238" stop-color="#f26a06"/><stop offset="0.3262" stop-color="#e84a0c"/><stop offset="0.4030" stop-color="#e23412"/><stop offset="0.4669" stop-color="#d82226"/><stop offset="0.5565" stop-color="#d62632"/><stop offset="0.5565" stop-color="#da4450"/><stop offset="0.5801" stop-color="#e05a60"/><stop offset="0.9232" stop-color="#e4666a"/><stop offset="1.0000" stop-color="#e87070"/></linearGradient><linearGradient id="cg88" gradientUnits="userSpaceOnUse" x1="0" y1="733.4" x2="0" y2="809.2"><stop offset="0.0000" stop-color="#ffa000"/><stop offset="0.0791" stop-color="#f67800"/><stop offset="0.1846" stop-color="#ee5a08"/><stop offset="0.1846" stop-color="#f26a06"/><stop offset="0.2738" stop-color="#e84a0c"/><stop offset="0.3530" stop-color="#e23412"/><stop offset="0.4189" stop-color="#d82226"/><stop offset="0.5112" stop-color="#d62632"/><stop offset="0.5112" stop-color="#da4450"/><stop offset="0.5668" stop-color="#e05a60"/><stop offset="0.9209" stop-color="#e4666a"/><stop offset="1.0000" stop-color="#e87070"/></linearGradient><linearGradient id="cg89" gradientUnits="userSpaceOnUse" x1="0" y1="733.6" x2="0" y2="811.7"><stop offset="0.0000" stop-color="#ffa000"/><stop offset="0.0768" stop-color="#f67800"/><stop offset="0.1792" stop-color="#ee5a08"/><stop offset="0.1792" stop-color="#f26a06"/><stop offset="0.2510" stop-color="#e84a0c"/><stop offset="0.3278" stop-color="#e23412"/><stop offset="0.3918" stop-color="#d82226"/><stop offset="0.4814" stop-color="#d62632"/><stop offset="0.5141" stop-color="#da4450"/><stop offset="0.5781" stop-color="#e05a60"/><stop offset="0.9232" stop-color="#e4666a"/><stop offset="1.0000" stop-color="#e87070"/></linearGradient><linearGradient id="cg90" gradientUnits="userSpaceOnUse" x1="0" y1="733.7" x2="0" y2="814.6"><stop offset="0.0000" stop-color="#ffa000"/><stop offset="0.0742" stop-color="#f67800"/><stop offset="0.1731" stop-color="#ee5a08"/><stop offset="0.1731" stop-color="#f26a06"/><stop offset="0.2281" stop-color="#e84a0c"/><stop offset="0.3023" stop-color="#e23412"/><stop offset="0.3641" stop-color="#d82226"/><stop offset="0.4506" stop-color="#d62632"/><stop offset="0.5235" stop-color="#da4450"/><stop offset="0.5854" stop-color="#e05a60"/><stop offset="0.9258" stop-color="#e4666a"/><stop offset="1.0000" stop-color="#e87070"/></linearGradient><linearGradient id="cg91" gradientUnits="userSpaceOnUse" x1="0" y1="733.9" x2="0" y2="817.6"><stop offset="0.0000" stop-color="#ee5410"/><stop offset="0.0478" stop-color="#e63e14"/><stop offset="0.1196" stop-color="#e03020"/><stop offset="0.1196" stop-color="#f26a06"/><stop offset="0.1961" stop-color="#e84a0c"/><stop offset="0.2678" stop-color="#e23412"/><stop offset="0.3276" stop-color="#d82226"/><stop offset="0.4113" stop-color="#d62632"/><stop offset="0.5337" stop-color="#da4450"/><stop offset="0.5935" stop-color="#e05a60"/><stop offset="0.9283" stop-color="#e4666a"/><stop offset="1.0000" stop-color="#e87070"/></linearGradient><linearGradient id="cg92" gradientUnits="userSpaceOnUse" x1="0" y1="737.5" x2="0" y2="820.0"><stop offset="0.0000" stop-color="#ee5410"/><stop offset="0.0485" stop-color="#e63e14"/><stop offset="0.1212" stop-color="#e03020"/><stop offset="0.1212" stop-color="#f26a06"/><stop offset="0.1284" stop-color="#e84a0c"/><stop offset="0.2011" stop-color="#e23412"/><stop offset="0.2617" stop-color="#d82226"/><stop offset="0.3466" stop-color="#d62632"/><stop offset="0.5315" stop-color="#da4450"/><stop offset="0.5921" stop-color="#e05a60"/><stop offset="0.9273" stop-color="#e4666a"/><stop offset="1.0000" stop-color="#e87070"/></linearGradient><linearGradient id="cg93" gradientUnits="userSpaceOnUse" x1="0" y1="744.8" x2="0" y2="822.4"><stop offset="0.0000" stop-color="#ee5410"/><stop offset="0.0516" stop-color="#e63e14"/><stop offset="0.1289" stop-color="#e03020"/><stop offset="0.1289" stop-color="#f26a06"/><stop offset="0.1289" stop-color="#e84a0c"/><stop offset="0.1289" stop-color="#e23412"/><stop offset="0.1545" stop-color="#d82226"/><stop offset="0.2448" stop-color="#d62632"/><stop offset="0.5063" stop-color="#da4450"/><stop offset="0.5707" stop-color="#e05a60"/><stop offset="0.9227" stop-color="#e4666a"/><stop offset="1.0000" stop-color="#e87070"/></linearGradient><linearGradient id="cg94" gradientUnits="userSpaceOnUse" x1="0" y1="749.4" x2="0" y2="823.5"><stop offset="0.0000" stop-color="#ee5410"/><stop offset="0.0539" stop-color="#e63e14"/><stop offset="0.1349" stop-color="#e03020"/><stop offset="0.1349" stop-color="#f26a06"/><stop offset="0.1349" stop-color="#e84a0c"/><stop offset="0.1349" stop-color="#e23412"/><stop offset="0.1349" stop-color="#d82226"/><stop offset="0.1994" stop-color="#d62632"/><stop offset="0.5056" stop-color="#da4450"/><stop offset="0.5731" stop-color="#e05a60"/><stop offset="0.9191" stop-color="#e4666a"/><stop offset="1.0000" stop-color="#e87070"/></linearGradient><linearGradient id="cg95" gradientUnits="userSpaceOnUse" x1="0" y1="750.6" x2="0" y2="823.1"><stop offset="0.0000" stop-color="#ee5410"/><stop offset="0.0552" stop-color="#e63e14"/><stop offset="0.1379" stop-color="#e03020"/><stop offset="0.1379" stop-color="#f26a06"/><stop offset="0.1379" stop-color="#e84a0c"/><stop offset="0.1379" stop-color="#e23412"/><stop offset="0.1379" stop-color="#d82226"/><stop offset="0.1934" stop-color="#d62632"/><stop offset="0.5381" stop-color="#da4450"/><stop offset="0.6071" stop-color="#e05a60"/><stop offset="0.9173" stop-color="#e4666a"/><stop offset="1.0000" stop-color="#e87070"/></linearGradient><linearGradient id="cg96" gradientUnits="userSpaceOnUse" x1="0" y1="749.1" x2="0" y2="822.7"><stop offset="0.0000" stop-color="#ee5410"/><stop offset="0.0543" stop-color="#e63e14"/><stop offset="0.1359" stop-color="#e03020"/><stop offset="0.1359" stop-color="#f26a06"/><stop offset="0.1359" stop-color="#e84a0c"/><stop offset="0.1359" stop-color="#e23412"/><stop offset="0.1400" stop-color="#d82226"/><stop offset="0.2351" stop-color="#d62632"/><stop offset="0.5349" stop-color="#da4450"/><stop offset="0.6028" stop-color="#e05a60"/><stop offset="0.9185" stop-color="#e4666a"/><stop offset="1.0000" stop-color="#e87070"/></linearGradient><linearGradient id="cg97" gradientUnits="userSpaceOnUse" x1="0" y1="746.8" x2="0" y2="822.4"><stop offset="0.0000" stop-color="#ee5410"/><stop offset="0.0529" stop-color="#e63e14"/><stop offset="0.1324" stop-color="#e03020"/><stop offset="0.1324" stop-color="#f26a06"/><stop offset="0.1324" stop-color="#e84a0c"/><stop offset="0.1459" stop-color="#e23412"/><stop offset="0.2121" stop-color="#d82226"/><stop offset="0.3048" stop-color="#d62632"/><stop offset="0.5332" stop-color="#da4450"/><stop offset="0.5994" stop-color="#e05a60"/><stop offset="0.9206" stop-color="#e4666a"/><stop offset="1.0000" stop-color="#e87070"/></linearGradient><linearGradient id="cg98" gradientUnits="userSpaceOnUse" x1="0" y1="748.1" x2="0" y2="822.1"><stop offset="0.0000" stop-color="#ee5410"/><stop offset="0.0540" stop-color="#e63e14"/><stop offset="0.1351" stop-color="#e03020"/><stop offset="0.1351" stop-color="#f26a06"/><stop offset="0.1351" stop-color="#e84a0c"/><stop offset="0.1784" stop-color="#e23412"/><stop offset="0.2460" stop-color="#d82226"/><stop offset="0.3405" stop-color="#d62632"/><stop offset="0.5088" stop-color="#da4450"/><stop offset="0.5764" stop-color="#e05a60"/><stop offset="0.9189" stop-color="#e4666a"/><stop offset="1.0000" stop-color="#e87070"/></linearGradient><linearGradient id="cg99" gradientUnits="userSpaceOnUse" x1="0" y1="752.1" x2="0" y2="821.8"><stop offset="0.0000" stop-color="#ee5410"/><stop offset="0.0574" stop-color="#e63e14"/><stop offset="0.1435" stop-color="#e03020"/><stop offset="0.1435" stop-color="#f26a06"/><stop offset="0.1435" stop-color="#e84a0c"/><stop offset="0.1810" stop-color="#e23412"/><stop offset="0.2527" stop-color="#d82226"/><stop offset="0.3531" stop-color="#d62632"/><stop offset="0.4765" stop-color="#da4450"/><stop offset="0.5482" stop-color="#e05a60"/><stop offset="0.9139" stop-color="#e4666a"/><stop offset="1.0000" stop-color="#e87070"/></linearGradient><linearGradient id="cg100" gradientUnits="userSpaceOnUse" x1="0" y1="760.1" x2="0" y2="821.5"><stop offset="0.0000" stop-color="#ee5410"/><stop offset="0.0652" stop-color="#e63e14"/><stop offset="0.1629" stop-color="#e03020"/><stop offset="0.1629" stop-color="#ee5010"/><stop offset="0.1629" stop-color="#e03018"/><stop offset="0.2117" stop-color="#d82428"/><stop offset="0.4910" stop-color="#d42c3c"/><stop offset="1.0000" stop-color="#d83a44"/></linearGradient><linearGradient id="cg101" gradientUnits="userSpaceOnUse" x1="0" y1="777.3" x2="0" y2="820.9"><stop offset="0.0000" stop-color="#ffb800"/><stop offset="0.0688" stop-color="#ffa000"/><stop offset="0.1605" stop-color="#f47000"/><stop offset="0.1605" stop-color="#ee5010"/><stop offset="0.1605" stop-color="#e03018"/><stop offset="0.1605" stop-color="#d82428"/><stop offset="0.3177" stop-color="#d42c3c"/><stop offset="1.0000" stop-color="#d83a44"/></linearGradient><linearGradient id="cg102" gradientUnits="userSpaceOnUse" x1="0" y1="778.2" x2="0" y2="820.0"><stop offset="0.0000" stop-color="#ffb800"/><stop offset="0.0717" stop-color="#ffa000"/><stop offset="0.1673" stop-color="#f47000"/><stop offset="0.1673" stop-color="#ee5010"/><stop offset="0.1673" stop-color="#e03018"/><stop offset="0.1673" stop-color="#d82428"/><stop offset="0.3288" stop-color="#d42c3c"/><stop offset="1.0000" stop-color="#d83a44"/></linearGradient><linearGradient id="cg103" gradientUnits="userSpaceOnUse" x1="0" y1="779.4" x2="0" y2="819.1"><stop offset="0.0000" stop-color="#ffb800"/><stop offset="0.0755" stop-color="#ffa000"/><stop offset="0.1761" stop-color="#f47000"/><stop offset="0.1761" stop-color="#ee5010"/><stop offset="0.1761" stop-color="#e03018"/><stop offset="0.1761" stop-color="#d82428"/><stop offset="0.3351" stop-color="#d42c3c"/><stop offset="1.0000" stop-color="#d83a44"/></linearGradient><linearGradient id="cg104" gradientUnits="userSpaceOnUse" x1="0" y1="780.6" x2="0" y2="818.2"><stop offset="0.0000" stop-color="#ffb800"/><stop offset="0.0798" stop-color="#ffa000"/><stop offset="0.1861" stop-color="#f47000"/><stop offset="0.1861" stop-color="#ee5010"/><stop offset="0.1861" stop-color="#e03018"/><stop offset="0.1861" stop-color="#d82428"/><stop offset="0.3413" stop-color="#d42c3c"/><stop offset="1.0000" stop-color="#d83a44"/></linearGradient><linearGradient id="cg105" gradientUnits="userSpaceOnUse" x1="0" y1="781.8" x2="0" y2="817.6"><stop offset="0.0000" stop-color="#ffb800"/><stop offset="0.0838" stop-color="#ffa000"/><stop offset="0.1955" stop-color="#f47000"/><stop offset="0.1955" stop-color="#ee5010"/><stop offset="0.1955" stop-color="#e03018"/><stop offset="0.1955" stop-color="#d82428"/><stop offset="0.3451" stop-color="#d42c3c"/><stop offset="1.0000" stop-color="#d83a44"/></linearGradient><linearGradient id="cg106" gradientUnits="userSpaceOnUse" x1="0" y1="783.0" x2="0" y2="817.6"><stop offset="0.0000" stop-color="#ffb800"/><stop offset="0.0868" stop-color="#ffa000"/><stop offset="0.2024" stop-color="#f47000"/><stop offset="0.2024" stop-color="#ee5010"/><stop offset="0.2024" stop-color="#e03018"/><stop offset="0.2024" stop-color="#d82428"/><stop offset="0.3433" stop-color="#d42c3c"/><stop offset="1.0000" stop-color="#d83a44"/></linearGradient><linearGradient id="cg107" gradientUnits="userSpaceOnUse" x1="0" y1="784.0" x2="0" y2="817.6"><stop offset="0.0000" stop-color="#ffb800"/><stop offset="0.0894" stop-color="#ffa000"/><stop offset="0.2085" stop-color="#f47000"/><stop offset="0.2085" stop-color="#ee5010"/><stop offset="0.2085" stop-color="#e03018"/><stop offset="0.2290" stop-color="#d82428"/><stop offset="0.3515" stop-color="#d42c3c"/><stop offset="1.0000" stop-color="#d83a44"/></linearGradient><linearGradient id="cg108" gradientUnits="userSpaceOnUse" x1="0" y1="785.0" x2="0" y2="817.6"><stop offset="0.0000" stop-color="#ffb800"/><stop offset="0.0920" stop-color="#ffa000"/><stop offset="0.2147" stop-color="#f47000"/><stop offset="0.2147" stop-color="#ee5010"/><stop offset="0.2147" stop-color="#e03018"/><stop offset="0.2527" stop-color="#d82428"/><stop offset="0.3619" stop-color="#d42c3c"/><stop offset="1.0000" stop-color="#d83a44"/></linearGradient><linearGradient id="cg109" gradientUnits="userSpaceOnUse" x1="0" y1="786.0" x2="0" y2="817.2"><stop offset="0.0000" stop-color="#ffb800"/><stop offset="0.0959" stop-color="#ffa000"/><stop offset="0.2238" stop-color="#f47000"/><stop offset="0.2238" stop-color="#ee5010"/><stop offset="0.2238" stop-color="#e03018"/><stop offset="0.2791" stop-color="#d82428"/><stop offset="0.3772" stop-color="#d42c3c"/><stop offset="1.0000" stop-color="#d83a44"/></linearGradient><linearGradient id="cg110" gradientUnits="userSpaceOnUse" x1="0" y1="786.9" x2="0" y2="816.2"><stop offset="0.0000" stop-color="#ffb800"/><stop offset="0.1027" stop-color="#ffa000"/><stop offset="0.2395" stop-color="#f47000"/><stop offset="0.2395" stop-color="#ee5010"/><stop offset="0.2395" stop-color="#e03018"/><stop offset="0.3155" stop-color="#d82428"/><stop offset="0.4038" stop-color="#d42c3c"/><stop offset="1.0000" stop-color="#d83a44"/></linearGradient><linearGradient id="cg111" gradientUnits="userSpaceOnUse" x1="0" y1="787.9" x2="0" y2="815.1"><stop offset="0.0000" stop-color="#ffb800"/><stop offset="0.1104" stop-color="#ffa000"/><stop offset="0.2576" stop-color="#f47000"/><stop offset="0.2576" stop-color="#ee5010"/><stop offset="0.2576" stop-color="#e03018"/><stop offset="0.3574" stop-color="#d82428"/><stop offset="0.4343" stop-color="#d42c3c"/><stop offset="1.0000" stop-color="#d83a44"/></linearGradient><linearGradient id="cg112" gradientUnits="userSpaceOnUse" x1="0" y1="788.9" x2="0" y2="814.0"><stop offset="0.0000" stop-color="#ffb800"/><stop offset="0.1197" stop-color="#ffa000"/><stop offset="0.2794" stop-color="#f47000"/><stop offset="0.2794" stop-color="#ee5010"/><stop offset="0.2794" stop-color="#e03018"/><stop offset="0.4077" stop-color="#d82428"/><stop offset="0.4562" stop-color="#d42c3c"/><stop offset="1.0000" stop-color="#d83a44"/></linearGradient><linearGradient id="cg113" gradientUnits="userSpaceOnUse" x1="0" y1="790.0" x2="0" y2="812.9"><stop offset="0.0000" stop-color="#ffb800"/><stop offset="0.1309" stop-color="#ffa000"/><stop offset="0.3054" stop-color="#f47000"/><stop offset="0.3054" stop-color="#ee5010"/><stop offset="0.3054" stop-color="#e03018"/><stop offset="0.4680" stop-color="#d82428"/><stop offset="0.4783" stop-color="#d42c3c"/><stop offset="1.0000" stop-color="#d83a44"/></linearGradient><linearGradient id="cg114" gradientUnits="userSpaceOnUse" x1="0" y1="791.0" x2="0" y2="811.8"><stop offset="0.0000" stop-color="#ffb800"/><stop offset="0.1443" stop-color="#ffa000"/><stop offset="0.3368" stop-color="#f47000"/><stop offset="0.3368" stop-color="#ee5010"/><stop offset="0.3368" stop-color="#e03018"/><stop offset="0.5407" stop-color="#d82428"/><stop offset="0.5407" stop-color="#d42c3c"/><stop offset="1.0000" stop-color="#d83a44"/></linearGradient><linearGradient id="cg115" gradientUnits="userSpaceOnUse" x1="0" y1="793.1" x2="0" y2="810.7"><stop offset="0.0000" stop-color="#ffb800"/><stop offset="0.1699" stop-color="#ffa000"/><stop offset="0.3965" stop-color="#f47000"/><stop offset="0.3965" stop-color="#ee5010"/><stop offset="0.3965" stop-color="#e03018"/><stop offset="0.6085" stop-color="#d82428"/><stop offset="0.6085" stop-color="#d42c3c"/><stop offset="1.0000" stop-color="#d83a44"/></linearGradient><clipPath id="clipc"><rect x="159.1" y="608.1" width="585.1999999999999" height="230.10000000000002"/></clipPath><clipPath id="clipb"><rect x="157.0" y="328.9" width="585.5" height="229.89999999999998"/></clipPath></defs>
<g id="cdata"><circle cx="226.34" cy="684.5" r="4.4" fill="#22aa2a"/><circle cx="231.21" cy="685.4" r="4.4" fill="#7a50ff"/><circle cx="236.08" cy="686.0" r="4.4" fill="#20b4e6"/><circle cx="240.95" cy="686.2" r="4.4" fill="#22aa2a"/><circle cx="245.82" cy="682.0" r="4.4" fill="#20b4e6"/><circle cx="250.69" cy="675.5" r="4.4" fill="#2e86f8"/><circle cx="255.56" cy="674.1" r="4.4" fill="#20b4e6"/><circle cx="260.43" cy="673.1" r="4.4" fill="#7a50ff"/><circle cx="265.30" cy="674.8" r="4.4" fill="#22aa2a"/><circle cx="270.17" cy="674.7" r="4.4" fill="#2e86f8"/><circle cx="275.04" cy="669.5" r="4.4" fill="#2e86f8"/><circle cx="279.91" cy="670.4" r="4.4" fill="#2e86f8"/><circle cx="284.78" cy="671.9" r="4.4" fill="#c070ff"/><circle cx="289.65" cy="674.3" r="4.4" fill="#20b4e6"/><circle cx="294.52" cy="676.1" r="4.4" fill="#22aa2a"/><circle cx="299.39" cy="674.5" r="4.4" fill="#2e86f8"/><circle cx="304.26" cy="673.3" r="4.4" fill="#20b4e6"/><circle cx="309.13" cy="674.0" r="4.4" fill="#7a50ff"/><circle cx="314.00" cy="672.9" r="4.4" fill="#7a50ff"/><circle cx="318.87" cy="675.7" r="4.4" fill="#14c08a"/><circle cx="323.74" cy="676.6" r="4.4" fill="#22aa2a"/><circle cx="328.61" cy="674.7" r="4.4" fill="#2e86f8"/><circle cx="333.48" cy="673.6" r="4.4" fill="#14c08a"/><circle cx="338.35" cy="671.8" r="4.4" fill="#20b4e6"/><circle cx="343.22" cy="670.5" r="4.4" fill="#22aa2a"/><circle cx="348.09" cy="672.2" r="4.4" fill="#7a50ff"/><circle cx="352.96" cy="673.3" r="4.4" fill="#20b4e6"/><circle cx="357.83" cy="672.2" r="4.4" fill="#22aa2a"/><circle cx="362.70" cy="673.5" r="4.4" fill="#22aa2a"/><circle cx="367.57" cy="672.2" r="4.4" fill="#7a50ff"/><circle cx="372.44" cy="669.7" r="4.4" fill="#14c08a"/><circle cx="377.31" cy="667.6" r="4.4" fill="#c070ff"/><circle cx="382.18" cy="668.0" r="4.4" fill="#22aa2a"/><circle cx="387.05" cy="671.9" r="4.4" fill="#22aa2a"/><circle cx="391.92" cy="671.5" r="4.4" fill="#22aa2a"/><circle cx="396.79" cy="668.4" r="4.4" fill="#c070ff"/><circle cx="401.66" cy="669.7" r="4.4" fill="#14c08a"/><circle cx="406.53" cy="669.6" r="4.4" fill="#20b4e6"/><circle cx="411.40" cy="668.2" r="4.4" fill="#c070ff"/><circle cx="416.27" cy="671.1" r="4.4" fill="#20b4e6"/><circle cx="421.14" cy="671.9" r="4.4" fill="#22aa2a"/><circle cx="426.01" cy="666.8" r="4.4" fill="#20b4e6"/><circle cx="430.88" cy="665.9" r="4.4" fill="#c070ff"/><circle cx="435.75" cy="668.7" r="4.4" fill="#22aa2a"/><circle cx="440.62" cy="666.3" r="4.4" fill="#c070ff"/><circle cx="445.49" cy="668.9" r="4.4" fill="#7a50ff"/><circle cx="450.36" cy="666.6" r="4.4" fill="#7a50ff"/><circle cx="455.23" cy="668.0" r="4.4" fill="#7a50ff"/><circle cx="460.10" cy="667.8" r="4.4" fill="#14c08a"/><circle cx="464.97" cy="671.9" r="4.4" fill="#22aa2a"/><circle cx="469.84" cy="674.4" r="4.4" fill="#7a50ff"/><circle cx="474.71" cy="674.8" r="4.4" fill="#14c08a"/><circle cx="479.58" cy="672.6" r="4.4" fill="#22aa2a"/><circle cx="484.45" cy="674.8" r="4.4" fill="#2e86f8"/><circle cx="489.32" cy="678.8" r="4.4" fill="#22aa2a"/><circle cx="494.19" cy="680.1" r="4.4" fill="#22aa2a"/><circle cx="499.06" cy="683.6" r="4.4" fill="#22aa2a"/><circle cx="503.93" cy="685.7" r="4.4" fill="#ffc800"/><circle cx="508.80" cy="686.1" r="4.4" fill="#ffc800"/><circle cx="513.67" cy="688.3" r="4.4" fill="#ffc800"/><circle cx="518.54" cy="698.9" r="4.4" fill="#ffc800"/><circle cx="523.41" cy="704.1" r="4.4" fill="#ffc800"/><circle cx="528.28" cy="706.0" r="4.4" fill="#ffc800"/><circle cx="533.15" cy="704.6" r="4.4" fill="#ffc800"/><circle cx="538.02" cy="703.5" r="4.4" fill="#ffc800"/><circle cx="542.89" cy="707.4" r="4.4" fill="#ffc800"/><circle cx="547.76" cy="711.3" r="4.4" fill="#ffc800"/><circle cx="552.63" cy="708.9" r="4.4" fill="#ffc800"/><circle cx="557.50" cy="706.4" r="4.4" fill="#ffc800"/><circle cx="562.37" cy="708.2" r="4.4" fill="#ffc800"/><circle cx="567.24" cy="714.1" r="4.4" fill="#ffa000"/><circle cx="572.11" cy="722.1" r="4.4" fill="#ffa000"/><circle cx="576.98" cy="728.2" r="4.4" fill="#ffa000"/><circle cx="581.85" cy="733.5" r="4.4" fill="#ffa000"/><circle cx="586.72" cy="737.8" r="4.4" fill="#ffa000"/><circle cx="591.59" cy="738.0" r="4.4" fill="#ffa000"/><circle cx="596.46" cy="738.1" r="4.4" fill="#ffa000"/><circle cx="601.33" cy="738.3" r="4.4" fill="#ee5410"/><circle cx="606.20" cy="741.9" r="4.4" fill="#ee5410"/><circle cx="611.07" cy="749.2" r="4.4" fill="#ee5410"/><circle cx="615.94" cy="753.8" r="4.4" fill="#ee5410"/><circle cx="620.81" cy="755.0" r="4.4" fill="#ee5410"/><circle cx="625.68" cy="753.5" r="4.4" fill="#ee5410"/><circle cx="630.55" cy="751.2" r="4.4" fill="#ee5410"/><circle cx="635.42" cy="752.5" r="4.4" fill="#ee5410"/><circle cx="640.29" cy="756.5" r="4.4" fill="#ee5410"/><circle cx="645.16" cy="764.5" r="4.4" fill="#ee5410"/><circle cx="650.03" cy="781.7" r="4.4" fill="#ffb800"/><circle cx="654.90" cy="782.6" r="4.4" fill="#ffb800"/><circle cx="659.77" cy="783.8" r="4.4" fill="#ffb800"/><circle cx="664.64" cy="785.0" r="4.4" fill="#ffb800"/><circle cx="669.51" cy="786.2" r="4.4" fill="#ffb800"/><circle cx="674.38" cy="787.4" r="4.4" fill="#ffb800"/><circle cx="679.25" cy="788.4" r="4.4" fill="#ffb800"/><circle cx="684.12" cy="789.4" r="4.4" fill="#ffb800"/><circle cx="688.99" cy="790.4" r="4.4" fill="#ffb800"/><circle cx="693.86" cy="791.3" r="4.4" fill="#ffb800"/><circle cx="698.73" cy="792.3" r="4.4" fill="#ffb800"/><circle cx="703.60" cy="793.3" r="4.4" fill="#ffb800"/><circle cx="708.47" cy="794.4" r="4.4" fill="#ffb800"/><circle cx="713.34" cy="795.4" r="4.4" fill="#ffb800"/><circle cx="718.19" cy="797.5" r="4.4" fill="#ffb800"/><path d="M159.10,608.1H164.67V782.5L159.10,780.4Z" fill="url(#cg0)"/><path d="M163.97,608.1H169.54V784.3L163.97,782.2Z" fill="url(#cg1)"/><path d="M168.84,608.1H174.41V786.2L168.84,784.1Z" fill="url(#cg2)"/><path d="M173.71,608.1H179.28V789.6L173.71,785.9Z" fill="url(#cg3)"/><path d="M178.58,608.1H184.15V793.1L178.58,789.0Z" fill="url(#cg4)"/><path d="M183.45,608.1H189.02V796.7L183.45,792.6Z" fill="url(#cg5)"/><path d="M188.32,608.1H193.89V800.3L188.32,796.2Z" fill="url(#cg6)"/><path d="M193.19,608.1H198.76V803.9L193.19,799.8Z" fill="url(#cg7)"/><path d="M198.06,608.1H203.63V805.5L198.06,803.4Z" fill="url(#cg8)"/><path d="M202.93,608.1H208.50V806.5L202.93,805.4Z" fill="url(#cg9)"/><path d="M207.80,608.1H213.37V807.5L207.80,806.3Z" fill="url(#cg10)"/><path d="M212.67,608.1H218.24V809.0L212.67,807.3Z" fill="url(#cg11)"/><path d="M217.54,608.1H223.11V810.5L217.54,808.8Z" fill="url(#cg12)"/><path d="M222.41,608.1H224.60V810.9L222.41,810.2Z" fill="url(#cg13)"/><path d="M223.90,810.7V684.5H229.47V812.7Z" fill="url(#cg14)"/><path d="M228.77,812.5V685.4H234.34V814.6Z" fill="url(#cg15)"/><path d="M233.64,814.3V686.0H239.21V815.6Z" fill="url(#cg16)"/><path d="M238.51,815.5V686.2H244.08V816.7Z" fill="url(#cg17)"/><path d="M243.38,816.6V682.0H248.95V817.8Z" fill="url(#cg18)"/><path d="M248.25,817.6V675.5H253.82V817.9Z" fill="url(#cg19)"/><path d="M253.12,817.9V674.1H258.69V818.0Z" fill="url(#cg20)"/><path d="M257.99,818.0V673.1H263.56V818.1Z" fill="url(#cg21)"/><path d="M262.86,818.1V674.8H268.43V818.2Z" fill="url(#cg22)"/><path d="M267.73,818.2V674.7H273.30V818.3Z" fill="url(#cg23)"/><path d="M272.60,818.3V669.5H278.17V817.9Z" fill="url(#cg24)"/><path d="M277.47,818.0V670.4H283.04V817.5Z" fill="url(#cg25)"/><path d="M282.34,817.5V671.9H287.91V817.1Z" fill="url(#cg26)"/><path d="M287.21,817.1V674.3H292.78V815.4Z" fill="url(#cg27)"/><path d="M292.08,815.6V676.1H297.65V813.5Z" fill="url(#cg28)"/><path d="M296.95,813.8V674.5H302.52V811.7Z" fill="url(#cg29)"/><path d="M301.82,811.9V673.3H307.39V809.1Z" fill="url(#cg30)"/><path d="M306.69,809.5V674.0H312.26V806.5Z" fill="url(#cg31)"/><path d="M311.56,806.9V672.9H317.13V803.9Z" fill="url(#cg32)"/><path d="M316.43,804.3V675.7H322.00V800.2Z" fill="url(#cg33)"/><path d="M321.30,800.8V676.6H326.87V796.3Z" fill="url(#cg34)"/><path d="M326.17,796.8V674.7H331.74V792.3Z" fill="url(#cg35)"/><path d="M331.04,792.9V673.6H336.61V788.4Z" fill="url(#cg36)"/><path d="M335.91,789.0V671.8H341.48V785.0Z" fill="url(#cg37)"/><path d="M340.78,785.5V670.5H346.35V781.7Z" fill="url(#cg38)"/><path d="M345.65,782.2V672.2H351.22V778.4Z" fill="url(#cg39)"/><path d="M350.52,778.9V673.3H356.09V774.2Z" fill="url(#cg40)"/><path d="M355.39,774.8V672.2H360.96V769.6Z" fill="url(#cg41)"/><path d="M360.26,770.3V673.5H365.83V765.1Z" fill="url(#cg42)"/><path d="M365.13,765.7V672.2H370.70V760.5Z" fill="url(#cg43)"/><path d="M370.00,761.2V669.7H375.57V756.6Z" fill="url(#cg44)"/><path d="M374.87,757.2V667.6H380.44V753.0Z" fill="url(#cg45)"/><path d="M379.74,753.5V668.0H385.31V749.3Z" fill="url(#cg46)"/><path d="M384.61,749.9V671.9H390.18V748.3Z" fill="url(#cg47)"/><path d="M389.48,748.3V671.5H395.05V748.3Z" fill="url(#cg48)"/><path d="M394.35,748.3V668.4H399.92V748.3Z" fill="url(#cg49)"/><path d="M399.22,748.3V669.7H404.79V748.6Z" fill="url(#cg50)"/><path d="M404.09,748.5V669.6H409.66V748.8Z" fill="url(#cg51)"/><path d="M408.96,748.8V668.2H414.53V749.1Z" fill="url(#cg52)"/><path d="M413.83,749.0V671.1H419.40V749.5Z" fill="url(#cg53)"/><path d="M418.70,749.3V671.9H424.27V750.7Z" fill="url(#cg54)"/><path d="M423.57,750.5V666.8H429.14V751.9Z" fill="url(#cg55)"/><path d="M428.44,751.7V665.9H434.01V753.1Z" fill="url(#cg56)"/><path d="M433.31,753.0V668.7H438.88V754.4Z" fill="url(#cg57)"/><path d="M438.18,754.2V666.3H443.75V755.6Z" fill="url(#cg58)"/><path d="M443.05,755.4V668.9H448.62V756.8Z" fill="url(#cg59)"/><path d="M447.92,756.7V666.6H453.49V758.1Z" fill="url(#cg60)"/><path d="M452.79,757.9V668.0H458.36V760.6Z" fill="url(#cg61)"/><path d="M457.66,760.3V667.8H463.23V763.1Z" fill="url(#cg62)"/><path d="M462.53,762.8V671.9H468.10V765.6Z" fill="url(#cg63)"/><path d="M467.40,765.3V674.4H472.97V768.1Z" fill="url(#cg64)"/><path d="M472.27,767.7V674.8H477.84V770.6Z" fill="url(#cg65)"/><path d="M477.14,770.2V672.6H482.71V773.0Z" fill="url(#cg66)"/><path d="M482.01,772.6V674.8H487.58V775.2Z" fill="url(#cg67)"/><path d="M486.88,774.9V678.8H492.45V777.5Z" fill="url(#cg68)"/><path d="M491.75,777.2V680.1H497.32V779.8Z" fill="url(#cg69)"/><path d="M496.62,779.4V683.6H502.19V782.0Z" fill="url(#cg70)"/><path d="M501.49,781.7V685.7H507.06V783.5Z" fill="url(#cg71)"/><path d="M506.36,783.3V686.1H511.93V785.0Z" fill="url(#cg72)"/><path d="M511.23,784.8V688.3H516.80V786.4Z" fill="url(#cg73)"/><path d="M516.10,786.2V698.9H521.67V787.9Z" fill="url(#cg74)"/><path d="M520.97,787.7V704.1H526.54V790.5Z" fill="url(#cg75)"/><path d="M525.84,790.1V706.0H531.41V793.2Z" fill="url(#cg76)"/><path d="M530.71,792.8V704.6H536.28V795.9Z" fill="url(#cg77)"/><path d="M535.58,795.5V703.5H541.15V798.1Z" fill="url(#cg78)"/><path d="M540.45,798.0V707.4H546.02V799.1Z" fill="url(#cg79)"/><path d="M545.32,799.0V711.3H550.89V800.1Z" fill="url(#cg80)"/><path d="M550.19,800.0V708.9H555.76V801.1Z" fill="url(#cg81)"/><path d="M555.06,801.0V706.4H560.63V802.1Z" fill="url(#cg82)"/><path d="M559.93,802.0V708.2H565.50V803.1Z" fill="url(#cg83)"/><path d="M564.80,802.9V714.1H570.37V804.0Z" fill="url(#cg84)"/><path d="M569.67,803.9V722.1H575.24V805.0Z" fill="url(#cg85)"/><path d="M574.54,804.8V728.2H580.11V806.6Z" fill="url(#cg86)"/><path d="M579.41,806.3V733.5H584.98V808.5Z" fill="url(#cg87)"/><path d="M584.28,808.3V737.8H589.85V810.7Z" fill="url(#cg88)"/><path d="M589.15,810.2V738.0H594.72V813.6Z" fill="url(#cg89)"/><path d="M594.02,813.2V738.1H599.59V816.5Z" fill="url(#cg90)"/><path d="M598.89,816.1V738.3H604.46V819.1Z" fill="url(#cg91)"/><path d="M603.76,818.8V741.9H609.33V821.5Z" fill="url(#cg92)"/><path d="M608.63,821.2V749.2H614.20V823.7Z" fill="url(#cg93)"/><path d="M613.50,823.6V753.8H619.07V823.3Z" fill="url(#cg94)"/><path d="M618.37,823.3V755.0H623.94V822.9Z" fill="url(#cg95)"/><path d="M623.24,822.9V753.5H628.81V822.5Z" fill="url(#cg96)"/><path d="M628.11,822.5V751.2H633.68V822.2Z" fill="url(#cg97)"/><path d="M632.98,822.2V752.5H638.55V821.9Z" fill="url(#cg98)"/><path d="M637.85,821.9V756.5H643.42V821.6Z" fill="url(#cg99)"/><path d="M642.72,821.6V764.5H648.29V821.3Z" fill="url(#cg100)"/><path d="M647.59,821.3V781.7H653.16V820.3Z" fill="url(#cg101)"/><path d="M652.46,820.5V782.6H658.03V819.4Z" fill="url(#cg102)"/><path d="M657.33,819.6V783.8H662.90V818.5Z" fill="url(#cg103)"/><path d="M662.20,818.7V785.0H667.77V817.6Z" fill="url(#cg104)"/><path d="M667.07,817.7V786.2H672.64V817.6Z" fill="url(#cg105)"/><path d="M671.94,817.6V787.4H677.51V817.6Z" fill="url(#cg106)"/><path d="M676.81,817.6V788.4H682.38V817.6Z" fill="url(#cg107)"/><path d="M681.68,817.6V789.4H687.25V817.6Z" fill="url(#cg108)"/><path d="M686.55,817.6V790.4H692.12V816.5Z" fill="url(#cg109)"/><path d="M691.42,816.7V791.3H696.99V815.5Z" fill="url(#cg110)"/><path d="M696.29,815.6V792.3H701.86V814.4Z" fill="url(#cg111)"/><path d="M701.16,814.5V793.3H706.73V813.3Z" fill="url(#cg112)"/><path d="M706.03,813.4V794.4H711.60V812.2Z" fill="url(#cg113)"/><path d="M710.90,812.4V795.4H716.47V811.1Z" fill="url(#cg114)"/><path d="M715.77,811.3V797.5H720.60V810.2Z" fill="url(#cg115)"/><path d="M426.68,673.8V671.6A4.20,3.6 0 0 1 435.08,671.6V673.8Z" fill="#29ab26"/><path d="M436.42,674.6V672.4A4.20,3.6 0 0 1 444.82,672.4V674.6Z" fill="#2aab25"/><path d="M446.16,674.8V672.6A4.20,3.6 0 0 1 454.56,672.6V674.8Z" fill="#2aab25"/><path d="M421.81,675.0V672.8A4.20,3.6 0 0 1 430.21,672.8V675.0Z" fill="#2aab25"/><path d="M377.98,675.6V673.4A4.20,3.6 0 0 1 386.38,673.4V675.6Z" fill="#2aab25"/><path d="M373.11,675.8V673.6A4.20,3.6 0 0 1 381.51,673.6V675.8Z" fill="#29ab26"/><path d="M431.55,676.1V673.9A4.20,3.6 0 0 1 439.95,673.9V676.1Z" fill="#2eac23"/><path d="M368.24,676.9V674.7A4.20,3.6 0 0 1 376.64,674.7V676.9Z" fill="#2cab24"/><path d="M402.33,677.0V674.8A4.20,3.6 0 0 1 410.73,674.8V677.0Z" fill="#2bab24"/><path d="M451.03,677.2V675.0A4.20,3.6 0 0 1 459.43,675.0V677.2Z" fill="#2eac23"/><path d="M270.84,677.2V675.0A4.20,3.6 0 0 1 279.24,675.0V677.2Z" fill="#29ab26"/><path d="M392.59,677.3V675.1A4.20,3.6 0 0 1 400.99,675.1V677.3Z" fill="#2aab25"/><path d="M455.90,677.4V675.2A4.20,3.6 0 0 1 464.30,675.2V677.4Z" fill="#2bab25"/><path d="M407.20,677.5V675.3A4.20,3.6 0 0 1 415.60,675.3V677.5Z" fill="#2aab25"/><path d="M441.29,677.7V675.5A4.20,3.6 0 0 1 449.69,675.5V677.7Z" fill="#2dac23"/><path d="M387.72,678.4V676.2A4.20,3.6 0 0 1 396.12,676.2V678.4Z" fill="#2eac23"/><path d="M275.71,678.5V676.3A4.20,3.6 0 0 1 284.11,676.3V678.5Z" fill="#29ab25"/><path d="M397.46,678.9V676.7A4.20,3.6 0 0 1 405.86,676.7V678.9Z" fill="#2cab24"/><path d="M460.77,679.1V676.9A4.20,3.6 0 0 1 469.17,676.9V679.1Z" fill="#35ad1f"/><path d="M353.63,679.2V677.0A4.20,3.6 0 0 1 362.03,677.0V679.2Z" fill="#32ac21"/><path d="M363.37,679.4V677.2A4.20,3.6 0 0 1 371.77,677.2V679.4Z" fill="#34ad20"/><path d="M412.07,679.5V677.3A4.20,3.6 0 0 1 420.47,677.3V679.5Z" fill="#2dab24"/><path d="M416.94,679.5V677.3A4.20,3.6 0 0 1 425.34,677.3V679.5Z" fill="#33ac21"/><path d="M339.02,679.6V677.4A4.20,3.6 0 0 1 347.42,677.4V679.6Z" fill="#2bab24"/><path d="M343.89,680.2V678.0A4.20,3.6 0 0 1 352.29,678.0V680.2Z" fill="#2dac23"/><path d="M348.76,680.3V678.1A4.20,3.6 0 0 1 357.16,678.1V680.3Z" fill="#3aae1d"/><path d="M334.15,680.4V678.2A4.20,3.6 0 0 1 342.55,678.2V680.4Z" fill="#2cab24"/><path d="M280.58,680.7V678.5A4.20,3.6 0 0 1 288.98,678.5V680.7Z" fill="#2aab25"/><path d="M256.23,680.8V678.6A4.20,3.6 0 0 1 264.62,678.6V680.8Z" fill="#2dab24"/><path d="M300.06,680.9V678.7A4.20,3.6 0 0 1 308.46,678.7V680.9Z" fill="#30ac22"/><path d="M475.38,681.4V679.2A4.20,3.6 0 0 1 483.78,679.2V681.4Z" fill="#44af1a"/><path d="M358.50,681.4V679.2A4.20,3.6 0 0 1 366.90,679.2V681.4Z" fill="#45b01a"/><path d="M382.85,681.6V679.4A4.20,3.6 0 0 1 391.25,679.4V681.6Z" fill="#2dac23"/><path d="M295.19,681.6V679.4A4.20,3.6 0 0 1 303.59,679.4V681.6Z" fill="#35ad1f"/><path d="M329.28,682.1V679.9A4.20,3.6 0 0 1 337.68,679.9V682.1Z" fill="#38ad1e"/><path d="M304.93,682.2V680.0A4.20,3.6 0 0 1 313.33,680.0V682.2Z" fill="#31ac22"/><path d="M324.41,682.3V680.1A4.20,3.6 0 0 1 332.81,680.1V682.3Z" fill="#3dae1c"/><path d="M309.80,682.3V680.1A4.20,3.6 0 0 1 318.20,680.1V682.3Z" fill="#2dac23"/><path d="M251.36,682.7V680.5A4.20,3.6 0 0 1 259.75,680.5V682.7Z" fill="#2eac23"/><path d="M470.51,683.2V681.0A4.20,3.6 0 0 1 478.91,681.0V683.2Z" fill="#60b513"/><path d="M246.49,683.2V681.0A4.20,3.6 0 0 1 254.89,681.0V683.2Z" fill="#37ad1f"/><path d="M265.97,683.5V681.3A4.20,3.6 0 0 1 274.37,681.3V683.5Z" fill="#33ac21"/><path d="M465.64,683.7V681.5A4.20,3.6 0 0 1 474.04,681.5V683.7Z" fill="#65b611"/><path d="M261.10,683.9V681.7A4.20,3.6 0 0 1 269.50,681.7V683.9Z" fill="#2eac23"/><path d="M285.45,684.1V681.9A4.20,3.6 0 0 1 293.85,681.9V684.1Z" fill="#33ac21"/><path d="M319.54,684.1V681.9A4.20,3.6 0 0 1 327.94,681.9V684.1Z" fill="#3cae1c"/><path d="M480.25,684.2V682.0A4.20,3.6 0 0 1 488.65,682.0V684.2Z" fill="#59b315"/><path d="M290.32,684.9V682.7A4.20,3.6 0 0 1 298.72,682.7V684.9Z" fill="#33ac21"/><path d="M314.67,685.2V683.0A4.20,3.6 0 0 1 323.07,683.0V685.2Z" fill="#4fb217"/><path d="M446.16,685.3V683.1A4.20,3.6 0 0 1 454.56,683.1V685.3Z" fill="#c7c500"/><path d="M441.29,685.4V683.2A4.20,3.6 0 0 1 449.69,683.2V685.4Z" fill="#d4c600"/><path d="M451.03,685.5V683.3A4.20,3.6 0 0 1 459.43,683.3V685.5Z" fill="#ebc800"/><path d="M455.90,685.7V683.5A4.20,3.6 0 0 1 464.30,683.5V685.7Z" fill="#c4c400"/><path d="M436.42,685.8V683.6A4.20,3.6 0 0 1 444.82,683.6V685.8Z" fill="#d5c600"/><path d="M460.77,685.9V683.7A4.20,3.6 0 0 1 469.17,683.7V685.9Z" fill="#d0c500"/><path d="M465.64,686.1V683.9A4.20,3.6 0 0 1 474.04,683.9V686.1Z" fill="#c7c500"/><path d="M431.55,686.2V684.0A4.20,3.6 0 0 1 439.95,684.0V686.2Z" fill="#e9c700"/><path d="M470.51,686.4V684.2A4.20,3.6 0 0 1 478.91,684.2V686.4Z" fill="#c4c400"/><path d="M426.68,686.6V684.4A4.20,3.6 0 0 1 435.08,684.4V686.6Z" fill="#c6c400"/><path d="M421.81,687.0V684.8A4.20,3.6 0 0 1 430.21,684.8V687.0Z" fill="#e7c700"/><path d="M475.38,687.1V684.9A4.20,3.6 0 0 1 483.78,684.9V687.1Z" fill="#eec800"/><path d="M416.94,687.3V685.1A4.20,3.6 0 0 1 425.34,685.1V687.3Z" fill="#e3c700"/><path d="M412.07,687.5V685.3A4.20,3.6 0 0 1 420.47,685.3V687.5Z" fill="#ccc500"/><path d="M407.20,687.7V685.5A4.20,3.6 0 0 1 415.60,685.5V687.7Z" fill="#ccc500"/><path d="M480.25,687.7V685.5A4.20,3.6 0 0 1 488.65,685.5V687.7Z" fill="#dac600"/><path d="M402.33,687.9V685.7A4.20,3.6 0 0 1 410.73,685.7V687.9Z" fill="#dac600"/><path d="M397.46,688.1V685.9A4.20,3.6 0 0 1 405.86,685.9V688.1Z" fill="#e7c700"/><path d="M348.76,688.2V686.0A4.20,3.6 0 0 1 357.16,686.0V688.2Z" fill="#efc800"/><path d="M353.63,688.2V686.0A4.20,3.6 0 0 1 362.03,686.0V688.2Z" fill="#eac700"/><path d="M358.50,688.2V686.0A4.20,3.6 0 0 1 366.90,686.0V688.2Z" fill="#f0c800"/><path d="M363.37,688.2V686.0A4.20,3.6 0 0 1 371.77,686.0V688.2Z" fill="#f0c800"/><path d="M368.24,688.2V686.0A4.20,3.6 0 0 1 376.64,686.0V688.2Z" fill="#e8c700"/><path d="M373.11,688.2V686.0A4.20,3.6 0 0 1 381.51,686.0V688.2Z" fill="#cac500"/><path d="M377.98,688.2V686.0A4.20,3.6 0 0 1 386.38,686.0V688.2Z" fill="#f0c800"/><path d="M382.85,688.2V686.0A4.20,3.6 0 0 1 391.25,686.0V688.2Z" fill="#cbc500"/><path d="M387.72,688.2V686.0A4.20,3.6 0 0 1 396.12,686.0V688.2Z" fill="#dac600"/><path d="M392.59,688.2V686.0A4.20,3.6 0 0 1 400.99,686.0V688.2Z" fill="#dac600"/><path d="M485.12,688.3V686.1A4.20,3.6 0 0 1 493.52,686.1V688.3Z" fill="#cbc500"/><path d="M343.89,688.4V686.2A4.20,3.6 0 0 1 352.29,686.2V688.4Z" fill="#c9c500"/><path d="M339.02,688.6V686.4A4.20,3.6 0 0 1 347.42,686.4V688.6Z" fill="#d3c600"/><path d="M334.15,688.7V686.5A4.20,3.6 0 0 1 342.55,686.5V688.7Z" fill="#c5c400"/><path d="M489.99,688.9V686.7A4.20,3.6 0 0 1 498.39,686.7V688.9Z" fill="#e4c700"/><path d="M329.28,688.9V686.7A4.20,3.6 0 0 1 337.68,686.7V688.9Z" fill="#f0c800"/><path d="M324.41,689.1V686.9A4.20,3.6 0 0 1 332.81,686.9V689.1Z" fill="#e9c700"/><path d="M319.54,689.3V687.1A4.20,3.6 0 0 1 327.94,687.1V689.3Z" fill="#c5c400"/><path d="M314.67,689.5V687.3A4.20,3.6 0 0 1 323.07,687.3V689.5Z" fill="#e6c700"/><path d="M309.80,689.7V687.5A4.20,3.6 0 0 1 318.20,687.5V689.7Z" fill="#d9c600"/><path d="M304.93,689.9V687.7A4.20,3.6 0 0 1 313.33,687.7V689.9Z" fill="#e1c700"/><path d="M300.06,690.1V687.9A4.20,3.6 0 0 1 308.46,687.9V690.1Z" fill="#f0c800"/><path d="M251.36,690.3V688.1A4.20,3.6 0 0 1 259.75,688.1V690.3Z" fill="#cdc500"/><path d="M295.19,690.3V688.1A4.20,3.6 0 0 1 303.59,688.1V690.3Z" fill="#f0c800"/><path d="M256.23,690.3V688.1A4.20,3.6 0 0 1 264.62,688.1V690.3Z" fill="#dac600"/><path d="M290.32,690.4V688.2A4.20,3.6 0 0 1 298.72,688.2V690.4Z" fill="#ccc500"/><path d="M246.49,690.4V688.2A4.20,3.6 0 0 1 254.89,688.2V690.4Z" fill="#e5c700"/><path d="M261.10,690.4V688.2A4.20,3.6 0 0 1 269.50,688.2V690.4Z" fill="#c4c400"/><path d="M285.45,690.5V688.3A4.20,3.6 0 0 1 293.85,688.3V690.5Z" fill="#f0c800"/><path d="M265.97,690.5V688.3A4.20,3.6 0 0 1 274.37,688.3V690.5Z" fill="#edc800"/><path d="M280.58,690.6V688.4A4.20,3.6 0 0 1 288.98,688.4V690.6Z" fill="#cbc500"/><path d="M270.84,690.6V688.4A4.20,3.6 0 0 1 279.24,688.4V690.6Z" fill="#cec500"/><path d="M275.71,690.7V688.5A4.20,3.6 0 0 1 284.11,688.5V690.7Z" fill="#d2c500"/><path d="M241.62,690.8V688.6A4.20,3.6 0 0 1 250.02,688.6V690.8Z" fill="#e8c700"/><path d="M499.73,695.5V693.3A4.20,3.6 0 0 1 508.13,693.3V695.5Z" fill="#ffc200"/><path d="M504.60,695.9V693.7A4.20,3.6 0 0 1 513.00,693.7V695.9Z" fill="#ffc200"/><path d="M509.47,698.1V695.9A4.20,3.6 0 0 1 517.87,695.9V698.1Z" fill="#ffc200"/><path d="M222.14,699.7V697.5A4.20,3.6 0 0 1 230.53,697.5V699.7Z" fill="#f86e02"/><path d="M227.01,699.8V697.6A4.20,3.6 0 0 1 235.41,697.6V699.8Z" fill="#f76a03"/><path d="M231.88,699.8V697.6A4.20,3.6 0 0 1 240.28,697.6V699.8Z" fill="#f15807"/><path d="M236.75,699.8V697.6A4.20,3.6 0 0 1 245.15,697.6V699.8Z" fill="#ec470d"/><path d="M241.62,699.9V697.7A4.20,3.6 0 0 1 250.02,697.7V699.9Z" fill="#ef500a"/><path d="M246.49,699.9V697.7A4.20,3.6 0 0 1 254.89,697.7V699.9Z" fill="#f56604"/><path d="M251.36,699.9V697.7A4.20,3.6 0 0 1 259.75,697.7V699.9Z" fill="#fa7601"/><path d="M256.23,700.0V697.8A4.20,3.6 0 0 1 264.62,697.8V700.0Z" fill="#f87002"/><path d="M261.10,700.0V697.8A4.20,3.6 0 0 1 269.50,697.8V700.0Z" fill="#ff9e00"/><path d="M265.97,700.1V697.9A4.20,3.6 0 0 1 274.37,697.9V700.1Z" fill="#f76b03"/><path d="M270.84,700.1V697.9A4.20,3.6 0 0 1 279.24,697.9V700.1Z" fill="#fa7501"/><path d="M275.71,700.1V697.9A4.20,3.6 0 0 1 284.11,697.9V700.1Z" fill="#f97201"/><path d="M280.58,700.2V698.0A4.20,3.6 0 0 1 288.98,698.0V700.2Z" fill="#fa7601"/><path d="M285.45,700.2V698.0A4.20,3.6 0 0 1 293.85,698.0V700.2Z" fill="#f46105"/><path d="M290.32,700.2V698.0A4.20,3.6 0 0 1 298.72,698.0V700.2Z" fill="#f15807"/><path d="M295.19,700.3V698.1A4.20,3.6 0 0 1 303.59,698.1V700.3Z" fill="#ed4b0b"/><path d="M300.06,700.3V698.1A4.20,3.6 0 0 1 308.46,698.1V700.3Z" fill="#eb430e"/><path d="M304.93,700.3V698.1A4.20,3.6 0 0 1 313.33,698.1V700.3Z" fill="#eb440e"/><path d="M309.80,700.4V698.2A4.20,3.6 0 0 1 318.20,698.2V700.4Z" fill="#ec460e"/><path d="M314.67,700.4V698.2A4.20,3.6 0 0 1 323.07,698.2V700.4Z" fill="#ea420f"/><path d="M319.54,700.5V698.3A4.20,3.6 0 0 1 327.94,698.3V700.5Z" fill="#ff9d00"/><path d="M324.41,700.5V698.3A4.20,3.6 0 0 1 332.81,698.3V700.5Z" fill="#ea420f"/><path d="M329.28,700.5V698.3A4.20,3.6 0 0 1 337.68,698.3V700.5Z" fill="#ec450e"/><path d="M334.15,700.6V698.4A4.20,3.6 0 0 1 342.55,698.4V700.6Z" fill="#ff9d00"/><path d="M339.02,700.6V698.4A4.20,3.6 0 0 1 347.42,698.4V700.6Z" fill="#ef4f0a"/><path d="M343.89,700.6V698.4A4.20,3.6 0 0 1 352.29,698.4V700.6Z" fill="#f15807"/><path d="M348.76,700.7V698.5A4.20,3.6 0 0 1 357.16,698.5V700.7Z" fill="#f05408"/><path d="M353.63,700.8V698.6A4.20,3.6 0 0 1 362.03,698.6V700.8Z" fill="#f35f05"/><path d="M358.50,701.0V698.8A4.20,3.6 0 0 1 366.90,698.8V701.0Z" fill="#f56604"/><path d="M363.37,701.1V698.9A4.20,3.6 0 0 1 371.77,698.9V701.1Z" fill="#f76b03"/><path d="M368.24,701.3V699.1A4.20,3.6 0 0 1 376.64,699.1V701.3Z" fill="#f87002"/><path d="M373.11,701.5V699.3A4.20,3.6 0 0 1 381.51,699.3V701.5Z" fill="#fb7900"/><path d="M377.98,701.6V699.4A4.20,3.6 0 0 1 386.38,699.4V701.6Z" fill="#fb7900"/><path d="M382.85,701.8V699.6A4.20,3.6 0 0 1 391.25,699.6V701.8Z" fill="#fe9000"/><path d="M387.72,702.0V699.8A4.20,3.6 0 0 1 396.12,699.8V702.0Z" fill="#fd8b00"/><path d="M392.59,702.1V699.9A4.20,3.6 0 0 1 400.99,699.9V702.1Z" fill="#f66d03"/><path d="M397.46,702.5V700.3A4.20,3.6 0 0 1 405.86,700.3V702.5Z" fill="#f56904"/><path d="M402.33,703.0V700.8A4.20,3.6 0 0 1 410.73,700.8V703.0Z" fill="#f66d02"/><path d="M407.20,703.4V701.2A4.20,3.6 0 0 1 415.60,701.2V703.4Z" fill="#f77201"/><path d="M412.07,703.9V701.7A4.20,3.6 0 0 1 420.47,701.7V703.9Z" fill="#f77201"/><path d="M416.94,704.4V702.2A4.20,3.6 0 0 1 425.34,702.2V704.4Z" fill="#f66d03"/><path d="M421.81,705.0V702.8A4.20,3.6 0 0 1 430.21,702.8V705.0Z" fill="#f87300"/><path d="M426.68,705.6V703.4A4.20,3.6 0 0 1 435.08,703.4V705.6Z" fill="#ff9d00"/><path d="M431.55,706.2V704.0A4.20,3.6 0 0 1 439.95,704.0V706.2Z" fill="#fd8f00"/><path d="M436.42,706.8V704.6A4.20,3.6 0 0 1 444.82,704.6V706.8Z" fill="#fe9800"/><path d="M441.29,707.4V705.2A4.20,3.6 0 0 1 449.69,705.2V707.4Z" fill="#ff9a00"/><path d="M236.75,718.6V705.2A4.20,3.0 0 0 1 245.15,705.2V718.6Z" fill="url(#domeg)"/><path d="M300.06,716.5V705.7A4.20,3.0 0 0 1 308.46,705.7V716.5Z" fill="url(#domeg)"/><path d="M304.93,715.8V705.7A4.20,3.0 0 0 1 313.33,705.7V715.8Z" fill="url(#domeg)"/><path d="M309.80,715.2V705.7A4.20,3.0 0 0 1 318.20,705.7V715.2Z" fill="url(#domeg)"/><path d="M314.67,714.6V705.7A4.20,3.0 0 0 1 323.07,705.7V714.6Z" fill="url(#domeg)"/><path d="M319.54,713.9V705.7A4.20,3.0 0 0 1 327.94,705.7V713.9Z" fill="url(#domeg)"/><path d="M446.16,708.0V705.8A4.20,3.6 0 0 1 454.56,705.8V708.0Z" fill="#ff9c00"/><path d="M324.41,713.3V705.8A4.20,3.0 0 0 1 332.81,705.8V713.3Z" fill="url(#domeg)"/><path d="M241.62,718.6V706.0A4.20,3.0 0 0 1 250.02,706.0V718.6Z" fill="url(#domeg)"/><path d="M329.28,712.8V706.0A4.20,3.0 0 0 1 337.68,706.0V712.8Z" fill="url(#domeg)"/><path d="M295.19,717.3V706.2A4.20,3.0 0 0 1 303.59,706.2V717.3Z" fill="url(#domeg)"/><path d="M334.15,712.3V706.3A4.20,3.0 0 0 1 342.55,706.3V712.3Z" fill="url(#domeg)"/><path d="M451.03,708.6V706.4A4.20,3.6 0 0 1 459.43,706.4V708.6Z" fill="#fc8f02"/><path d="M514.34,708.7V706.5A4.20,3.6 0 0 1 522.74,706.5V708.7Z" fill="#ffbe00"/><path d="M231.88,719.0V706.5A4.20,3.0 0 0 1 240.28,706.5V719.0Z" fill="url(#domeg)"/><path d="M339.02,711.9V706.6A4.20,3.0 0 0 1 347.42,706.6V711.9Z" fill="url(#domeg)"/><path d="M343.89,711.7V706.8A4.20,3.0 0 0 1 352.29,706.8V711.7Z" fill="url(#domeg)"/><path d="M290.32,718.2V706.9A4.20,3.0 0 0 1 298.72,706.9V718.2Z" fill="url(#domeg)"/><path d="M455.90,709.2V707.0A4.20,3.6 0 0 1 464.30,707.0V709.2Z" fill="#ff9e00"/><path d="M348.76,711.4V707.1A4.20,3.0 0 0 1 357.16,707.1V711.4Z" fill="url(#domeg)"/><path d="M460.77,709.7V707.5A4.20,3.6 0 0 1 469.17,707.5V709.7Z" fill="#fe9801"/><path d="M285.45,718.5V707.5A4.20,3.0 0 0 1 293.85,707.5V718.5Z" fill="url(#domeg)"/><path d="M246.49,718.6V707.6A4.20,3.0 0 0 1 254.89,707.6V718.6Z" fill="url(#domeg)"/><path d="M353.63,710.9V707.9A4.20,3.0 0 0 1 362.03,707.9V710.9Z" fill="url(#domeg)"/><path d="M227.01,719.5V708.1A4.20,3.0 0 0 1 235.41,708.1V719.5Z" fill="url(#domeg)"/><path d="M280.58,718.2V708.1A4.20,3.0 0 0 1 288.98,708.1V718.2Z" fill="url(#domeg)"/><path d="M465.64,710.3V708.1A4.20,3.6 0 0 1 474.04,708.1V710.3Z" fill="#ff9c00"/><path d="M470.51,710.8V708.6A4.20,3.6 0 0 1 478.91,708.6V710.8Z" fill="#ff9e00"/><path d="M275.71,718.0V708.7A4.20,3.0 0 0 1 284.11,708.7V718.0Z" fill="url(#domeg)"/><path d="M475.38,711.1V708.9A4.20,3.6 0 0 1 483.78,708.9V711.1Z" fill="#fd9301"/><path d="M251.36,718.5V708.9A4.20,3.0 0 0 1 259.75,708.9V718.5Z" fill="url(#domeg)"/><path d="M256.23,718.4V708.9A4.20,3.0 0 0 1 264.62,708.9V718.4Z" fill="url(#domeg)"/><path d="M261.10,718.3V708.9A4.20,3.0 0 0 1 269.50,708.9V718.3Z" fill="url(#domeg)"/><path d="M265.97,718.1V708.9A4.20,3.0 0 0 1 274.37,708.9V718.1Z" fill="url(#domeg)"/><path d="M270.84,718.0V708.9A4.20,3.0 0 0 1 279.24,708.9V718.0Z" fill="url(#domeg)"/><path d="M222.14,719.9V709.1A4.20,3.0 0 0 1 230.53,709.1V719.9Z" fill="url(#domeg)"/><path d="M358.50,712.1V709.1A4.20,3.0 0 0 1 366.90,709.1V712.1Z" fill="url(#domeg)"/><path d="M480.25,711.4V709.2A4.20,3.6 0 0 1 488.65,709.2V711.4Z" fill="#fe9800"/><path d="M485.12,711.7V709.5A4.20,3.6 0 0 1 493.52,709.5V711.7Z" fill="#ff9b00"/><path d="M363.37,713.3V710.3A4.20,3.0 0 0 1 371.77,710.3V713.3Z" fill="url(#domeg)"/><path d="M489.99,712.7V710.5A4.20,3.6 0 0 1 498.39,710.5V712.7Z" fill="#fe9701"/><path d="M533.82,713.3V711.1A4.20,3.6 0 0 1 542.22,711.1V713.3Z" fill="#ffbe00"/><path d="M368.24,714.6V711.6A4.20,3.0 0 0 1 376.64,711.6V714.6Z" fill="url(#domeg)"/><path d="M494.86,713.8V711.6A4.20,3.6 0 0 1 503.26,711.6V713.8Z" fill="#fd9601"/><path d="M519.21,713.9V711.7A4.20,3.6 0 0 1 527.61,711.7V713.9Z" fill="#ffb700"/><path d="M528.95,714.4V712.2A4.20,3.6 0 0 1 537.35,712.2V714.4Z" fill="#ffbd00"/><path d="M373.11,715.5V712.5A4.20,3.0 0 0 1 381.51,712.5V715.5Z" fill="url(#domeg)"/><path d="M377.98,716.2V713.2A4.20,3.0 0 0 1 386.38,713.2V716.2Z" fill="url(#domeg)"/><path d="M524.08,715.8V713.6A4.20,3.6 0 0 1 532.48,713.6V715.8Z" fill="#ffb300"/><path d="M382.85,717.0V714.0A4.20,3.0 0 0 1 391.25,714.0V717.0Z" fill="url(#domeg)"/><path d="M553.30,716.2V714.0A4.20,3.6 0 0 1 561.70,714.0V716.2Z" fill="#ffbf00"/><path d="M387.72,717.7V714.7A4.20,3.0 0 0 1 396.12,714.7V717.7Z" fill="url(#domeg)"/><path d="M538.69,717.2V715.0A4.20,3.6 0 0 1 547.09,715.0V717.2Z" fill="#ffbd00"/><path d="M392.59,718.5V715.5A4.20,3.0 0 0 1 400.99,715.5V718.5Z" fill="url(#domeg)"/><path d="M558.17,718.0V715.8A4.20,3.6 0 0 1 566.57,715.8V718.0Z" fill="#ffbf00"/><path d="M397.46,719.2V716.2A4.20,3.0 0 0 1 405.86,716.2V719.2Z" fill="url(#domeg)"/><path d="M548.43,718.7V716.5A4.20,3.6 0 0 1 556.83,716.5V718.7Z" fill="#ffbd00"/><path d="M402.33,719.9V716.9A4.20,3.0 0 0 1 410.73,716.9V719.9Z" fill="url(#domeg)"/><path d="M407.20,720.7V717.7A4.20,3.0 0 0 1 415.60,717.7V720.7Z" fill="url(#domeg)"/><path d="M412.07,721.4V718.4A4.20,3.0 0 0 1 420.47,718.4V721.4Z" fill="url(#domeg)"/><path d="M543.56,721.1V718.9A4.20,3.6 0 0 1 551.96,718.9V721.1Z" fill="#ffb000"/><path d="M416.94,722.1V719.1A4.20,3.0 0 0 1 425.34,719.1V722.1Z" fill="url(#domeg)"/><path d="M421.81,723.6V720.6A4.20,3.0 0 0 1 430.21,720.6V723.6Z" fill="url(#domeg)"/><path d="M563.04,723.9V721.7A4.20,3.6 0 0 1 571.44,721.7V723.9Z" fill="#ee5a08"/><path d="M426.68,726.0V723.0A4.20,3.0 0 0 1 435.08,723.0V726.0Z" fill="url(#domeg)"/><path d="M431.55,730.4V725.4A4.20,3.0 0 0 1 439.95,725.4V730.4Z" fill="url(#domeg)"/><path d="M436.42,738.5V729.0A4.20,3.0 0 0 1 444.82,729.0V738.5Z" fill="url(#domeg)"/><path d="M567.91,731.9V729.7A4.20,3.6 0 0 1 576.31,729.7V731.9Z" fill="#ee5a08"/><path d="M441.29,746.6V732.8A4.20,3.0 0 0 1 449.69,732.8V746.6Z" fill="url(#domeg)"/><path d="M446.16,754.8V733.2A4.20,3.0 0 0 1 454.56,733.2V754.8Z" fill="url(#domeg)"/><path d="M451.03,742.3V733.3A4.20,3.0 0 0 1 459.43,733.3V742.3Z" fill="url(#domeg2)"/><path d="M455.90,742.5V733.5A4.20,3.0 0 0 1 464.30,733.5V742.5Z" fill="url(#domeg2)"/><path d="M460.77,743.2V734.2A4.20,3.0 0 0 1 469.17,734.2V743.2Z" fill="url(#domeg2)"/><path d="M465.64,744.0V735.0A4.20,3.0 0 0 1 474.04,735.0V744.0Z" fill="url(#domeg2)"/><path d="M572.78,738.0V735.8A4.20,3.6 0 0 1 581.18,735.8V738.0Z" fill="#ee5a08"/><path d="M470.51,745.5V736.5A4.20,3.0 0 0 1 478.91,736.5V745.5Z" fill="url(#domeg2)"/><path d="M475.38,748.2V739.2A4.20,3.0 0 0 1 483.78,739.2V748.2Z" fill="url(#domeg2)"/><path d="M577.65,743.3V741.1A4.20,3.6 0 0 1 586.05,741.1V743.3Z" fill="#ee5a08"/><path d="M480.25,751.0V742.0A4.20,3.0 0 0 1 488.65,742.0V751.0Z" fill="url(#domeg2)"/><path d="M485.12,753.5V744.5A4.20,3.0 0 0 1 493.52,744.5V753.5Z" fill="url(#domeg2)"/><path d="M489.99,753.7V744.7A4.20,3.0 0 0 1 498.39,744.7V753.7Z" fill="url(#domeg2)"/><path d="M494.86,753.9V744.9A4.20,3.0 0 0 1 503.26,744.9V753.9Z" fill="url(#domeg2)"/><path d="M582.52,747.6V745.4A4.20,3.6 0 0 1 590.92,745.4V747.6Z" fill="#ee5a08"/><path d="M587.39,747.8V745.6A4.20,3.6 0 0 1 595.79,745.6V747.8Z" fill="#ee5a08"/><path d="M592.26,747.9V745.7A4.20,3.6 0 0 1 600.66,745.7V747.9Z" fill="#ee5a08"/><path d="M499.73,754.8V745.8A4.20,3.0 0 0 1 508.13,745.8V754.8Z" fill="url(#domeg2)"/><path d="M504.60,756.9V747.9A4.20,3.0 0 0 1 513.00,747.9V756.9Z" fill="url(#domeg2)"/><path d="M509.47,758.9V749.9A4.20,3.0 0 0 1 517.87,749.9V758.9Z" fill="url(#domeg2)"/><path d="M514.34,760.8V751.8A4.20,3.0 0 0 1 522.74,751.8V760.8Z" fill="url(#domeg2)"/><path d="M519.21,762.8V753.8A4.20,3.0 0 0 1 527.61,753.8V762.8Z" fill="url(#domeg2)"/><path d="M524.08,763.7V754.7A4.20,3.0 0 0 1 532.48,754.7V763.7Z" fill="url(#domeg2)"/><path d="M528.95,764.4V755.4A4.20,3.0 0 0 1 537.35,755.4V764.4Z" fill="url(#domeg2)"/><path d="M533.82,765.2V756.2A4.20,3.0 0 0 1 542.22,756.2V765.2Z" fill="url(#domeg2)"/><path d="M538.69,766.7V757.7A4.20,3.0 0 0 1 547.09,757.7V766.7Z" fill="url(#domeg2)"/><path d="M606.87,767.3V758.3A4.20,3.0 0 0 1 615.27,758.3V767.3Z" fill="url(#domeg2)"/><path d="M611.74,767.7V758.7A4.20,3.0 0 0 1 620.14,758.7V767.7Z" fill="url(#domeg2)"/><path d="M616.61,768.1V759.1A4.20,3.0 0 0 1 625.01,759.1V768.1Z" fill="url(#domeg2)"/><path d="M543.56,768.4V759.4A4.20,3.0 0 0 1 551.96,759.4V768.4Z" fill="url(#domeg2)"/><path d="M602.00,769.6V760.6A4.20,3.0 0 0 1 610.40,760.6V769.6Z" fill="url(#domeg2)"/><path d="M621.48,769.9V760.9A4.20,3.0 0 0 1 629.88,760.9V769.9Z" fill="url(#domeg2)"/><path d="M548.43,770.1V761.1A4.20,3.0 0 0 1 556.83,761.1V770.1Z" fill="url(#domeg2)"/><path d="M553.30,771.3V762.3A4.20,3.0 0 0 1 561.70,762.3V771.3Z" fill="url(#domeg2)"/><path d="M597.13,771.8V762.8A4.20,3.0 0 0 1 605.53,762.8V771.8Z" fill="url(#domeg2)"/><path d="M558.17,772.3V763.3A4.20,3.0 0 0 1 566.57,763.3V772.3Z" fill="url(#domeg2)"/><path d="M563.04,773.2V764.2A4.20,3.0 0 0 1 571.44,764.2V773.2Z" fill="url(#domeg2)"/><path d="M626.35,773.3V764.3A4.20,3.0 0 0 1 634.75,764.3V773.3Z" fill="url(#domeg2)"/><path d="M592.26,773.7V764.7A4.20,3.0 0 0 1 600.66,764.7V773.7Z" fill="url(#domeg2)"/><path d="M567.91,774.2V765.2A4.20,3.0 0 0 1 576.31,765.2V774.2Z" fill="url(#domeg2)"/><path d="M587.39,774.7V765.7A4.20,3.0 0 0 1 595.79,765.7V774.7Z" fill="url(#domeg2)"/><path d="M572.78,775.2V766.2A4.20,3.0 0 0 1 581.18,766.2V775.2Z" fill="url(#domeg2)"/><path d="M582.52,775.7V766.7A4.20,3.0 0 0 1 590.92,766.7V775.7Z" fill="url(#domeg2)"/><path d="M577.65,776.1V767.1A4.20,3.0 0 0 1 586.05,767.1V776.1Z" fill="url(#domeg2)"/><path d="M631.22,776.8V767.8A4.20,3.0 0 0 1 639.62,767.8V776.8Z" fill="url(#domeg2)"/><path d="M636.09,780.2V771.2A4.20,3.0 0 0 1 644.49,771.2V780.2Z" fill="url(#domeg2)"/><path d="M640.96,783.6V774.6A4.20,3.0 0 0 1 649.36,774.6V783.6Z" fill="url(#domeg2)"/><path d="M675.05,802.2V793.2A4.20,3.0 0 0 1 683.45,793.2V802.2Z" fill="url(#domeg2)"/><path d="M679.92,803.7V794.7A4.20,3.0 0 0 1 688.32,794.7V803.7Z" fill="url(#domeg2)"/><path d="M684.79,805.2V796.2A4.20,3.0 0 0 1 693.19,796.2V805.2Z" fill="url(#domeg2)"/><path d="M689.66,806.7V797.7A4.20,3.0 0 0 1 698.06,797.7V806.7Z" fill="url(#domeg2)"/><path d="M694.53,808.1V799.1A4.20,3.0 0 0 1 702.93,799.1V808.1Z" fill="url(#domeg2)"/><path d="M699.40,809.7V800.7A4.20,3.0 0 0 1 707.80,800.7V809.7Z" fill="url(#domeg2)"/><path d="M704.27,811.2V802.2A4.20,3.0 0 0 1 712.67,802.2V811.2Z" fill="url(#domeg2)"/><path d="M276.0,670.8000000000001V660.8000000000001A3.0999999999999943,3.0999999999999943 0 0 1 282.2,660.8000000000001V670.8000000000001Z" fill="#0fcf8c"/><path d="M358.6,672.1V662.1A4.899999999999977,4.899999999999977 0 0 1 368.4,662.1V672.1Z" fill="#2f7cf6"/><rect x="159.1" y="608.1" width="47.5" height="12" fill="#d83200"/><rect x="206.6" y="608.1" width="17.3" height="12" fill="#ff8400"/><path d="M159.10,622.00L159.10,611.40L159.10,611.40A4.15,1.80 0 0 1 167.40,611.40L167.40,611.40A4.15,1.80 0 0 1 175.70,611.40L175.70,611.40A4.15,1.80 0 0 1 184.00,611.40L184.00,611.40A4.15,1.80 0 0 1 192.30,611.40L192.30,611.40A4.15,1.80 0 0 1 200.60,611.40L200.60,611.40L201.60,610.23L202.60,609.86L203.60,609.67L204.60,609.60L205.60,609.64L206.60,609.79L206.60,611.40L206.60,622.00Z" fill="#ff8c00"/><path d="M159.10,622.00L159.10,613.20L159.10,613.20A4.15,2.20 0 0 1 167.40,613.20L167.40,613.20A4.15,2.20 0 0 1 175.70,613.20L175.70,613.20A4.15,2.20 0 0 1 184.00,613.20L184.00,613.20A4.15,2.20 0 0 1 192.30,613.20L192.30,613.20A4.15,2.20 0 0 1 200.60,613.20L200.60,613.20L201.60,611.77L202.60,611.32L203.60,611.09L204.60,611.00L205.60,611.05L206.60,611.23L206.60,613.20L206.60,622.00Z" fill="#e0d000"/><path d="M159.10,622.00L159.10,614.60L159.10,614.60A4.15,2.40 0 0 1 167.40,614.60L167.40,614.60A4.15,2.40 0 0 1 175.70,614.60L175.70,614.60A4.15,2.40 0 0 1 184.00,614.60L184.00,614.60A4.15,2.40 0 0 1 192.30,614.60L192.30,614.60A4.15,2.40 0 0 1 200.60,614.60L200.60,614.60L201.60,613.04L202.60,612.55L203.60,612.29L204.60,612.20L205.60,612.25L206.60,612.45L206.60,614.60L206.60,622.00Z" fill="#30b040"/><path d="M159.10,622.00L159.10,616.00L159.10,616.00A4.15,2.60 0 0 1 167.40,616.00L167.40,616.00A4.15,2.60 0 0 1 175.70,616.00L175.70,616.00A4.15,2.60 0 0 1 184.00,616.00L184.00,616.00A4.15,2.60 0 0 1 192.30,616.00L192.30,616.00A4.15,2.60 0 0 1 200.60,616.00L200.60,616.00L201.60,614.31L202.60,613.78L203.60,613.50L204.60,613.40L205.60,613.46L206.60,613.67L206.60,616.00L206.60,622.00Z" fill="#12b4e0"/><path d="M159.10,622.00L159.10,617.20L159.10,617.20A4.15,2.60 0 0 1 167.40,617.20L167.40,617.20A4.15,2.60 0 0 1 175.70,617.20L175.70,617.20A4.15,2.60 0 0 1 184.00,617.20L184.00,617.20A4.15,2.60 0 0 1 192.30,617.20L192.30,617.20A4.15,2.60 0 0 1 200.60,617.20L200.60,617.20L201.60,615.51L202.60,614.98L203.60,614.70L204.60,614.60L205.60,614.66L206.60,614.87L206.60,617.20L206.60,622.00Z" fill="#6a50ff"/><path d="M159.10,622.00L159.10,618.50L159.10,618.50A4.15,2.60 0 0 1 167.40,618.50L167.40,618.50A4.15,2.60 0 0 1 175.70,618.50L175.70,618.50A4.15,2.60 0 0 1 184.00,618.50L184.00,618.50A4.15,2.60 0 0 1 192.30,618.50L192.30,618.50A4.15,2.60 0 0 1 200.60,618.50L200.60,618.50L201.60,616.81L202.60,616.28L203.60,616.00L204.60,615.90L205.60,615.96L206.60,616.17L206.60,618.50L206.60,622.00Z" fill="#d46eff"/><path d="M206.60,622.00L206.60,612.80L206.60,612.80A2.15,1.60 0 0 1 210.90,612.80L210.90,612.80A2.15,1.60 0 0 1 215.20,612.80L215.20,612.80A2.15,1.60 0 0 1 219.50,612.80L219.50,612.80A2.15,1.60 0 0 1 223.80,612.80L223.90,612.80L223.90,622.00Z" fill="#f0c800"/><path d="M206.60,622.00L206.60,614.40L206.60,614.40A2.15,1.80 0 0 1 210.90,614.40L210.90,614.40A2.15,1.80 0 0 1 215.20,614.40L215.20,614.40A2.15,1.80 0 0 1 219.50,614.40L219.50,614.40A2.15,1.80 0 0 1 223.80,614.40L223.90,614.40L223.90,622.00Z" fill="#20b060"/><path d="M206.60,622.00L206.60,616.00L206.60,616.00A2.15,2.00 0 0 1 210.90,616.00L210.90,616.00A2.15,2.00 0 0 1 215.20,616.00L215.20,616.00A2.15,2.00 0 0 1 219.50,616.00L219.50,616.00A2.15,2.00 0 0 1 223.80,616.00L223.90,616.00L223.90,622.00Z" fill="#10b8e8"/><path d="M206.60,622.00L206.60,618.40L206.60,618.40A2.15,2.00 0 0 1 210.90,618.40L210.90,618.40A2.15,2.00 0 0 1 215.20,618.40L215.20,618.40A2.15,2.00 0 0 1 219.50,618.40L219.50,618.40A2.15,2.00 0 0 1 223.80,618.40L223.90,618.40L223.90,622.00Z" fill="#18a0f0"/><path d="M206.60,622.00L206.60,619.80L206.60,619.80A2.15,1.80 0 0 1 210.90,619.80L210.90,619.80A2.15,1.80 0 0 1 215.20,619.80L215.20,619.80A2.15,1.80 0 0 1 219.50,619.80L219.50,619.80A2.15,1.80 0 0 1 223.80,619.80L223.90,619.80L223.90,622.00Z" fill="#d46eff"/></g>
<g fill="none" stroke="#111" stroke-width="1.5" stroke-linejoin="round"><polyline points="159.1,699.5 179.6,702.0 204.1,703.2 216.4,705.2 228.7,704.4 236.0,702.0 241.0,700.7 248.4,702.0 253.3,704.4 277.8,704.4 292.6,702.7 302.4,701.2 327.0,701.2 355.0,702.7 374.6,707.6 399.0,711.3 423.7,715.0 436.0,721.0 445.8,728.5 460.6,729.0 472.9,731.0 480.0,734.9 488.8,740.0 502.1,740.5 509.5,743.7 524.2,749.6 539.0,751.8 553.7,757.0 568.5,760.0 583.2,762.9 597.9,759.9 611.3,753.7 623.5,754.9"/><polyline points="667.8,784.4 680.0,789.0 700.0,795.0 720.6,801.6"/><polyline points="159.1,714.3 167.3,717.4 179.6,719.2 204.1,719.7 218.9,720.4 226.3,722.4 241.0,721.1 253.3,721.1 277.8,720.4 292.6,721.1 302.4,719.2 327.0,716.0 341.7,714.5 355.0,713.8 372.0,711.3 386.9,713.2 409.0,718.6 428.6,721.0 438.5,731.0 448.3,748.1 452.0,754.2"/><polyline points="486.6,769.5 491.8,761.4 499.2,758.2 516.9,758.9 539.0,762.9 561.1,768.0 583.2,771.7 600.0,779.8 621.1,791.8 638.3,786.9 650.6,789.3 675.1,793.0 699.7,797.9 720.6,800.4"/><path d="M618,752 l9,-3 l-4,7z" fill="#111"/></g>
<g clip-path="url(#clipb)"><use href="#cdata" transform="translate(-2.1,-279.2)" opacity="0.12"/>
<defs>
<linearGradient id="bowlg" gradientUnits="userSpaceOnUse" x1="0" y1="428" x2="0" y2="520">
 <stop offset="0" stop-color="#ffb400"/><stop offset="0.11" stop-color="#f99000"/><stop offset="0.22" stop-color="#ee6000"/>
 <stop offset="0.33" stop-color="#e23a14"/><stop offset="0.45" stop-color="#da2a20"/><stop offset="1" stop-color="#d8282c"/></linearGradient>
<linearGradient id="colg" gradientUnits="userSpaceOnUse" x1="0" y1="329" x2="0" y2="440">
 <stop offset="0" stop-color="#ff8a00"/><stop offset="0.02" stop-color="#60c040"/><stop offset="0.035" stop-color="#20b0e0"/>
 <stop offset="0.05" stop-color="#d070ff"/><stop offset="0.44" stop-color="#d070ff"/><stop offset="0.47" stop-color="#7a4cff"/>
 <stop offset="0.53" stop-color="#4868ff"/><stop offset="0.58" stop-color="#1898f0"/><stop offset="0.64" stop-color="#10c0b0"/>
 <stop offset="0.68" stop-color="#20b030"/><stop offset="0.79" stop-color="#50b010"/><stop offset="0.85" stop-color="#b0c000"/>
 <stop offset="0.9" stop-color="#ffb800"/><stop offset="1" stop-color="#ff8c00"/></linearGradient>
<linearGradient id="greeng" gradientUnits="userSpaceOnUse" x1="206" y1="0" x2="437" y2="0">
 <stop offset="0" stop-color="#58b010"/><stop offset="0.2" stop-color="#80b800"/><stop offset="0.4" stop-color="#70b400"/>
 <stop offset="0.6" stop-color="#98bc00"/><stop offset="0.8" stop-color="#50a810"/><stop offset="1" stop-color="#40a810"/></linearGradient>
<linearGradient id="slopeg" gradientUnits="userSpaceOnUse" x1="400" y1="0" x2="600" y2="0">
 <stop offset="0" stop-color="#88b800"/><stop offset="0.2" stop-color="#b8bc00"/><stop offset="0.35" stop-color="#f0b800"/>
 <stop offset="0.7" stop-color="#fab400"/><stop offset="1" stop-color="#ffa000"/></linearGradient>
<linearGradient id="vertg" gradientUnits="userSpaceOnUse" x1="0" y1="455" x2="0" y2="510">
 <stop offset="0" stop-color="#80b000"/><stop offset="0.3" stop-color="#b0b400"/><stop offset="0.55" stop-color="#f8b800"/><stop offset="1" stop-color="#ff9400"/></linearGradient>
</defs>
<polygon points="157.0,477.5 166.0,482.0 170.0,478.0 174.0,450.0 178.0,436.0 184.0,430.0 200.0,430.0 206.0,429.0 375.0,429.0 386.0,438.0 395.0,440.0 408.0,444.0 408.0,450.0 395.0,450.0 386.4,450.5 379.6,453.5 366.1,463.0 352.6,472.5 339.0,484.5 325.5,496.5 312.0,508.5 300.0,514.5 287.7,519.5 267.0,520.5 248.0,518.0 228.7,515.0 201.4,510.0 193.3,508.0 184.0,504.6 172.4,497.0 157.0,489.0" fill="url(#bowlg)"/>
<path d="M360,437 L380,439 L408,442 L408,449 L385,450 L370,455 Z" fill="#f88a00" opacity="0.9"/>
<path d="M227.5,430L236.5,430L232.0,463.5ZM248.3,430L257.3,430L252.8,465.4ZM268.7,430L278.1,430L273.4,464ZM289.4,430L298.6,430L294.0,464.5ZM309.8,430L319.4,430L314.6,464.9ZM331.2,430L337.2,430L334.2,449ZM347.2,430L350.8,430L349.0,437ZM221.4,459.6L224.6,485.5L218.2,485.5ZM242.2,462.8L245.7,488.3L238.7,488.3ZM262.6,461L266.8,491.5L258.4,491.5ZM283.6,462.2L287.8,489.6L279.4,489.6ZM304.7,461L308.3,483L301.1,483ZM325.4,459L328.6,487L322.2,487ZM342.5,465L343.7,469L341.3,469ZM217.4,496L228.2,496L224.2,502.5L213.4,502.5ZM235.9,498L248.6,498L246.6,505L233.9,505ZM253.7,498L262.5,498L264.5,505L255.7,505ZM276.4,497.5L288.4,497.5L288.4,504.5L276.4,504.5ZM296.5,491.4L306.7,491.4L310.7,500.5L300.5,500.5ZM317.5,479L325.3,479L331.3,488L323.5,488ZM195,494L201.4,489.6L201.4,500Z" fill="#fdf1ec"/>
<rect x="184.4" y="329.4" width="15.6" height="110" fill="url(#colg)"/>
<rect x="193" y="333" width="5" height="17" fill="#4c84ff" opacity="0.55"/>
<circle cx="203" cy="423" r="3.2" fill="#98c000"/>
<path d="M206,420.5 H437.5 V442 H404 L380,438 L350,431 L340,429.5 H206 Z" fill="url(#greeng)"/>
<path d="M404,428 H437.5 V442 H404 Z" fill="#4eaa10" opacity="0.7"/>
<circle cx="431.5" cy="426.5" r="5.8" fill="#12b044"/>
<polyline points="404.0,446.0 425.0,449.5 440.0,451.5 452.0,457.0 464.0,461.5 477.0,466.0 490.0,471.0 501.4,476.0 513.7,479.0 528.5,485.0 543.2,486.0 550.6,485.0 560.4,492.0 572.7,491.5 582.5,495.5 590.0,502.0 595.5,508.5" fill="none" stroke="url(#slopeg)" stroke-width="9.5" stroke-linejoin="round" stroke-linecap="round"/>
<path d="M592.3,459.5 V508" stroke="url(#vertg)" stroke-width="9" stroke-linecap="round"/>
<path d="M175.6,328.6 H204.5" stroke="#e41010" stroke-width="1.6"/>
<path d="M191,329 V341.5" stroke="#e40000" stroke-width="2.2"/>
</g>
<polygon fill="#1eb000" points="417.3,476.0 437.1,515.7 422.15000000000003,515.7 422.15000000000003,530.3 412.45,530.3 412.45,515.7 397.5,515.7"/>
<polygon fill="#1eb000" points="417.3,767.7 437.1,807.2 422.15000000000003,807.2 422.15000000000003,821.7 412.45,821.7 412.45,807.2 397.5,807.2"/>
<defs><linearGradient id="cbg" x1="0" y1="0" x2="0" y2="1"><stop offset="0.0181" stop-color="#ffbb8c"/><stop offset="0.0568" stop-color="#f49c88"/><stop offset="0.0954" stop-color="#e8727a"/><stop offset="0.1341" stop-color="#d83a4a"/><stop offset="0.1728" stop-color="#d42430"/><stop offset="0.1960" stop-color="#d81e10"/><stop offset="0.2115" stop-color="#e84208"/><stop offset="0.2501" stop-color="#ff7800"/><stop offset="0.2888" stop-color="#ffa000"/><stop offset="0.3275" stop-color="#ffc000"/><stop offset="0.3661" stop-color="#f0cc00"/><stop offset="0.4048" stop-color="#b8c800"/><stop offset="0.4435" stop-color="#70b800"/><stop offset="0.5015" stop-color="#20a020"/><stop offset="0.5401" stop-color="#10a840"/><stop offset="0.5981" stop-color="#10cc80"/><stop offset="0.6562" stop-color="#10c0c0"/><stop offset="0.7142" stop-color="#10a8f0"/><stop offset="0.7915" stop-color="#2080ff"/><stop offset="0.8495" stop-color="#5060f8"/><stop offset="0.9075" stop-color="#7a40f0"/><stop offset="0.9462" stop-color="#a050f8"/><stop offset="0.9848" stop-color="#d080ff"/></linearGradient></defs>
<path d="M761.3,608.4 L766,606.5 L771.6,604.1 L777,606.5 L782,608.4 V838 L777,839.8 L771.6,841.6 L766,839.8 L761.3,838 Z" fill="url(#cbg)" stroke="#444" stroke-width="0.8"/>
<path d="M761.3,654.3h3.2M782,654.3h-3.2M761.3,700.2h3.2M782,700.2h-3.2M761.3,746.2h3.2M782,746.2h-3.2M761.3,792.1h3.2M782,792.1h-3.2" stroke="#333" stroke-width="1.2"/>
<text x="787.3" y="612.8" font-size="12.6" font-weight="bold" font-style="italic" fill="#111" stroke="#111" stroke-width="0.35">1.5</text>
<text x="787.3" y="658.7" font-size="12.6" font-weight="bold" font-style="italic" fill="#111" stroke="#111" stroke-width="0.35">1</text>
<text x="787.3" y="704.6" font-size="12.6" font-weight="bold" font-style="italic" fill="#111" stroke="#111" stroke-width="0.35">0.5</text>
<text x="787.3" y="750.6" font-size="12.6" font-weight="bold" font-style="italic" fill="#111" stroke="#111" stroke-width="0.35">0</text>
<text x="787.3" y="796.5" font-size="12.6" font-weight="bold" font-style="italic" fill="#111" stroke="#111" stroke-width="0.35">−0.5</text>
<text x="787.3" y="842.4" font-size="12.6" font-weight="bold" font-style="italic" fill="#111" stroke="#111" stroke-width="0.35">−1</text>
<rect x="157.0" y="328.9" width="585.5" height="229.89999999999998" fill="none" stroke="#2a2a2a" stroke-width="1.5"/>
<path d="M157.0,328.9h-6.7M157.0,367.2h-5.0M157.0,405.5h-6.7M157.0,443.8h-5.0M157.0,482.2h-6.7M157.0,520.5h-5.0M157.0,558.8h-6.7M157.0,558.8v6.6M205.8,558.8v4.3M254.6,558.8v6.6M303.4,558.8v4.3M352.2,558.8v6.6M401.0,558.8v4.3M449.8,558.8v6.6M498.5,558.8v4.3M547.3,558.8v6.6M596.1,558.8v4.3M644.9,558.8v6.6M693.7,558.8v4.3M742.5,558.8v6.6" stroke="#2a2a2a" stroke-width="1.3" fill="none"/>
<text x="121.8" y="337.4" font-size="23.3" fill="#111">0</text>
<text x="100.2" y="413.7" font-size="23.3" fill="#111">400</text>
<text x="100.5" y="487.6" font-size="23.3" fill="#111">800</text>
<text x="93.0" y="560.0" font-size="23.3" fill="#111">1200</text>
<text x="158.5" y="582.7" font-size="14" font-weight="bold" font-style="italic" text-anchor="middle" fill="#111" stroke="#111" stroke-width="0.45">102°W</text>
<text x="256.1" y="582.7" font-size="14" font-weight="bold" font-style="italic" text-anchor="middle" fill="#111" stroke="#111" stroke-width="0.45">101.5°W</text>
<text x="353.7" y="582.7" font-size="14" font-weight="bold" font-style="italic" text-anchor="middle" fill="#111" stroke="#111" stroke-width="0.45">101°W</text>
<text x="451.2" y="582.7" font-size="14" font-weight="bold" font-style="italic" text-anchor="middle" fill="#111" stroke="#111" stroke-width="0.45">100.5°W</text>
<text x="548.8" y="582.7" font-size="14" font-weight="bold" font-style="italic" text-anchor="middle" fill="#111" stroke="#111" stroke-width="0.45">100°W</text>
<text x="646.4" y="582.7" font-size="14" font-weight="bold" font-style="italic" text-anchor="middle" fill="#111" stroke="#111" stroke-width="0.45">99.5°W</text>
<text x="744.0" y="582.7" font-size="14" font-weight="bold" font-style="italic" text-anchor="middle" fill="#111" stroke="#111" stroke-width="0.45">99°W</text>
<text transform="translate(86,497.9) rotate(-90)" font-size="23.7" fill="#111">Depth (m)</text>
<text transform="translate(754.6,556.2) rotate(-90)" font-size="10" font-style="italic" fill="#333" stroke="#333" stroke-width="0.3">Ocean Data View</text>
<rect x="159.1" y="608.1" width="585.1999999999999" height="230.10000000000002" fill="none" stroke="#2a2a2a" stroke-width="1.5"/>
<path d="M159.1,608.1h-6.7M159.1,646.5h-5.0M159.1,684.8h-6.7M159.1,723.2h-5.0M159.1,761.5h-6.7M159.1,799.9h-5.0M159.1,838.2h-6.7M159.1,838.2v6.6M207.9,838.2v4.3M256.6,838.2v6.6M305.4,838.2v4.3M354.2,838.2v6.6M402.9,838.2v4.3M451.7,838.2v6.6M500.5,838.2v4.3M549.2,838.2v6.6M598.0,838.2v4.3M646.8,838.2v6.6M695.5,838.2v4.3M744.3,838.2v6.6" stroke="#2a2a2a" stroke-width="1.3" fill="none"/>
<text x="128.0" y="617.3" font-size="23.3" fill="#111">0</text>
<text x="105.4" y="692.5" font-size="23.3" fill="#111">400</text>
<text x="106.5" y="767.3" font-size="23.3" fill="#111">800</text>
<text x="95.6" y="837.0" font-size="23.3" fill="#111">1200</text>
<text x="160.6" y="860.5" font-size="14" font-weight="bold" font-style="italic" text-anchor="middle" fill="#111" stroke="#111" stroke-width="0.45">102°W</text>
<text x="258.1" y="860.5" font-size="14" font-weight="bold" font-style="italic" text-anchor="middle" fill="#111" stroke="#111" stroke-width="0.45">101.5°W</text>
<text x="355.7" y="860.5" font-size="14" font-weight="bold" font-style="italic" text-anchor="middle" fill="#111" stroke="#111" stroke-width="0.45">101°W</text>
<text x="453.2" y="860.5" font-size="14" font-weight="bold" font-style="italic" text-anchor="middle" fill="#111" stroke="#111" stroke-width="0.45">100.5°W</text>
<text x="550.7" y="860.5" font-size="14" font-weight="bold" font-style="italic" text-anchor="middle" fill="#111" stroke="#111" stroke-width="0.45">100°W</text>
<text x="648.3" y="860.5" font-size="14" font-weight="bold" font-style="italic" text-anchor="middle" fill="#111" stroke="#111" stroke-width="0.45">99.5°W</text>
<text x="745.8" y="860.5" font-size="14" font-weight="bold" font-style="italic" text-anchor="middle" fill="#111" stroke="#111" stroke-width="0.45">99°W</text>
<text transform="translate(86,775.8) rotate(-90)" font-size="23.7" fill="#111">Depth (m)</text>
<text transform="translate(756.8,834.6) rotate(-90)" font-size="9.6" font-style="italic" fill="#333" stroke="#333" stroke-width="0.3">Ocean Data View</text>
<text x="652.6" y="775.5" font-size="37" font-weight="bold" fill="#000">27.70</text>
<text x="649.0" y="832.2" font-size="37" font-weight="bold" fill="#000">27.75</text>
<path d="M175.6,328.6 H204.5" stroke="#e81010" stroke-width="1.8"/>
<text x="-2.5" y="42.7" font-size="39" font-weight="bold">(a)</text>
<text x="-2.3" y="343.8" font-size="39" font-weight="bold">(b)</text>
<text x="-2.5" y="619.8" font-size="39" font-weight="bold">(c)</text>
</svg></body></html>
